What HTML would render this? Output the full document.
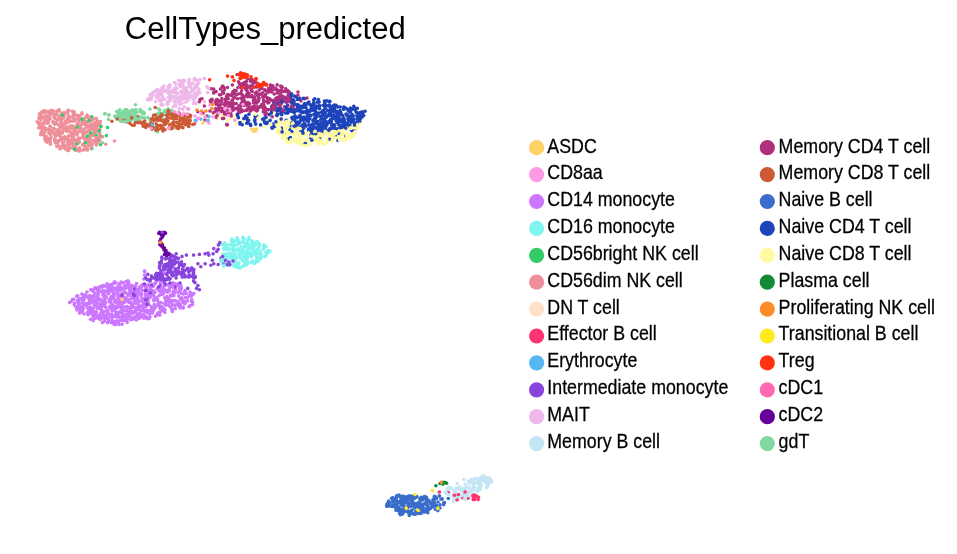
<!DOCTYPE html>
<html><head><meta charset="utf-8"><style>
html,body{margin:0;padding:0;background:#fff;}
svg{display:block;}
text{font-family:"Liberation Sans",sans-serif;fill:#000;}
svg{will-change:transform;}
.lg text{font-size:17.8px;stroke:#000;stroke-width:0.25px;}
.sc path{fill:none;stroke-width:3.6;stroke-linecap:round;}
</style></head><body>
<svg width="957" height="554" viewBox="0 0 957 554">
<text x="124.8" y="38.8" style="font-size:31px">CellTypes_predicted</text>
<g class="sc">
<path stroke="#C4E6F4" d="M463.2 489.2h0"/>
<path stroke="#B0307F" d="M233.8 109.7h0"/>
<path stroke="#CC77FF" d="M119.7 289.9h0M158.3 302.4h0"/>
<path stroke="#C4E6F4" d="M451.5 488.4h0"/>
<path stroke="#EE9099" d="M55.3 142.5h0"/>
<path stroke="#CC77FF" d="M79.5 313.0h0"/>
<path stroke="#EEB8EA" d="M168.5 97.6h0"/>
<path stroke="#CC5A35" d="M179.6 121.1h0"/>
<path stroke="#80F5F0" d="M255.3 242.5h0"/>
<path stroke="#CC77FF" d="M113.0 310.6h0"/>
<path stroke="#EE9099" d="M74.7 119.3h0"/>
<path stroke="#CC77FF" d="M114.5 301.9h0"/>
<path stroke="#EE9099" d="M69.9 121.5h0M74.1 112.0h0"/>
<path stroke="#EEB8EA" d="M175.6 92.1h0"/>
<path stroke="#B0307F" d="M263.3 111.8h0"/>
<path stroke="#CC77FF" d="M191.1 296.2h0"/>
<path stroke="#FFFAA0" d="M341.8 127.0h0"/>
<path stroke="#3A6CCB" d="M420.2 498.3h0"/>
<path stroke="#FFFAA0" d="M278.0 132.6h0"/>
<path stroke="#CC77FF" d="M114.3 309.7h0M134.9 298.7h0"/>
<path stroke="#EEB8EA" d="M175.7 87.6h0M152.9 94.0h0"/>
<path stroke="#B0307F" d="M246.9 85.0h0"/>
<path stroke="#1E44BB" d="M282.4 100.8h0M283.0 98.7h0M295.1 115.8h0"/>
<path stroke="#FFFAA0" d="M204.0 116.0h0"/>
<path stroke="#EEB8EA" d="M181.0 82.1h0"/>
<path stroke="#80F5F0" d="M242.7 253.2h0"/>
<path stroke="#CC77FF" d="M91.3 307.8h0"/>
<path stroke="#CC5A35" d="M127.0 122.0h0"/>
<path stroke="#EE9099" d="M57.0 111.1h0"/>
<path stroke="#CC77FF" d="M118.6 296.4h0"/>
<path stroke="#B0307F" d="M221.1 111.7h0"/>
<path stroke="#EE9099" d="M50.3 142.6h0"/>
<path stroke="#3A6CCB" d="M434.6 502.8h0"/>
<path stroke="#80D8A0" d="M167.2 116.2h0"/>
<path stroke="#EEB8EA" d="M186.6 87.7h0M184.0 80.9h0"/>
<path stroke="#B0307F" d="M271.7 91.9h0"/>
<path stroke="#80D8A0" d="M173.4 113.0h0M132.2 116.4h0"/>
<path stroke="#CC77FF" d="M155.5 282.9h0M171.6 296.0h0M103.5 304.9h0"/>
<path stroke="#80D8A0" d="M130.6 119.9h0"/>
<path stroke="#EE9099" d="M73.2 128.0h0M47.3 142.2h0"/>
<path stroke="#80D8A0" d="M118.1 114.5h0"/>
<path stroke="#EE9099" d="M59.7 133.9h0"/>
<path stroke="#1E44BB" d="M287.7 113.1h0"/>
<path stroke="#B0307F" d="M279.6 100.4h0M253.7 102.8h0"/>
<path stroke="#80F5F0" d="M251.4 255.0h0M238.7 266.5h0"/>
<path stroke="#EE9099" d="M67.8 137.9h0"/>
<path stroke="#B0307F" d="M280.6 93.8h0"/>
<path stroke="#CC77FF" d="M162.0 310.7h0"/>
<path stroke="#3A6CCB" d="M408.1 498.6h0"/>
<path stroke="#EE9099" d="M99.7 129.3h0"/>
<path stroke="#CC77FF" d="M144.7 304.5h0"/>
<path stroke="#EEB8EA" d="M183.4 113.0h0"/>
<path stroke="#1E44BB" d="M256.7 116.1h0M298.1 122.9h0"/>
<path stroke="#3A6CCB" d="M404.5 496.8h0"/>
<path stroke="#EEB8EA" d="M181.3 93.2h0M170.1 99.0h0"/>
<path stroke="#80F5F0" d="M257.3 256.2h0"/>
<path stroke="#1E44BB" d="M320.4 120.0h0"/>
<path stroke="#EEB8EA" d="M183.2 96.2h0"/>
<path stroke="#EE9099" d="M76.8 144.0h0"/>
<path stroke="#80F5F0" d="M258.5 253.2h0"/>
<path stroke="#1E44BB" d="M306.1 107.7h0"/>
<path stroke="#EE9099" d="M78.8 151.0h0"/>
<path stroke="#B0307F" d="M259.3 90.0h0"/>
<path stroke="#FFFAA0" d="M297.5 124.8h0"/>
<path stroke="#EE9099" d="M59.4 110.7h0M95.1 135.6h0"/>
<path stroke="#3A6CCB" d="M448.3 498.5h0"/>
<path stroke="#CC77FF" d="M160.8 288.7h0"/>
<path stroke="#CC5A35" d="M163.1 120.0h0"/>
<path stroke="#CC77FF" d="M82.8 307.1h0"/>
<path stroke="#EE9099" d="M83.3 130.5h0"/>
<path stroke="#80D8A0" d="M164.2 112.4h0"/>
<path stroke="#EE9099" d="M100.4 121.5h0M61.0 147.0h0"/>
<path stroke="#80D8A0" d="M143.8 113.7h0"/>
<path stroke="#FFFAA0" d="M294.8 135.3h0"/>
<path stroke="#CC5A35" d="M140.8 122.8h0M187.0 123.0h0"/>
<path stroke="#FFFAA0" d="M333.3 130.2h0"/>
<path stroke="#EEB8EA" d="M174.5 100.8h0"/>
<path stroke="#EE9099" d="M43.6 122.5h0"/>
<path stroke="#80D8A0" d="M157.5 131.9h0"/>
<path stroke="#CC77FF" d="M104.9 318.5h0"/>
<path stroke="#EE9099" d="M46.9 138.3h0"/>
<path stroke="#FFFAA0" d="M319.8 137.4h0"/>
<path stroke="#CC77FF" d="M91.6 296.7h0"/>
<path stroke="#1E44BB" d="M298.0 105.1h0"/>
<path stroke="#EE9099" d="M77.9 123.0h0"/>
<path stroke="#1E44BB" d="M333.3 118.4h0"/>
<path stroke="#EE9099" d="M41.1 132.2h0"/>
<path stroke="#1E44BB" d="M329.0 131.1h0"/>
<path stroke="#EE9099" d="M97.3 122.6h0"/>
<path stroke="#1E44BB" d="M266.0 117.6h0"/>
<path stroke="#CC77FF" d="M97.5 290.0h0"/>
<path stroke="#3A6CCB" d="M415.9 506.5h0"/>
<path stroke="#80F5F0" d="M221.8 259.5h0"/>
<path stroke="#CC5A35" d="M152.4 127.0h0"/>
<path stroke="#C4E6F4" d="M465.1 490.9h0M455.7 499.1h0"/>
<path stroke="#CC77FF" d="M108.9 319.1h0"/>
<path stroke="#FFFAA0" d="M286.3 141.1h0"/>
<path stroke="#1E44BB" d="M356.9 122.2h0M313.7 127.0h0"/>
<path stroke="#CC77FF" d="M108.8 293.7h0"/>
<path stroke="#EE9099" d="M61.2 121.8h0"/>
<path stroke="#CC77FF" d="M105.3 296.6h0"/>
<path stroke="#EE9099" d="M87.7 149.3h0"/>
<path stroke="#B0307F" d="M243.1 96.6h0"/>
<path stroke="#1E44BB" d="M302.2 106.6h0M338.7 124.8h0"/>
<path stroke="#CC77FF" d="M147.3 310.7h0M156.4 281.3h0"/>
<path stroke="#3A6CCB" d="M433.4 500.4h0"/>
<path stroke="#1E44BB" d="M352.8 115.5h0"/>
<path stroke="#EE9099" d="M68.7 140.5h0"/>
<path stroke="#CC77FF" d="M120.3 299.9h0"/>
<path stroke="#1E44BB" d="M303.7 107.5h0M357.3 108.3h0"/>
<path stroke="#CC77FF" d="M100.8 313.0h0"/>
<path stroke="#FFFAA0" d="M298.7 130.4h0"/>
<path stroke="#EE9099" d="M61.0 126.1h0M90.4 125.1h0"/>
<path stroke="#1E44BB" d="M304.8 98.6h0"/>
<path stroke="#EE9099" d="M39.8 118.2h0"/>
<path stroke="#80F5F0" d="M238.5 250.3h0"/>
<path stroke="#80D8A0" d="M102.6 142.7h0"/>
<path stroke="#FFFAA0" d="M320.7 135.8h0"/>
<path stroke="#1E44BB" d="M287.8 109.2h0"/>
<path stroke="#3A6CCB" d="M395.8 499.4h0"/>
<path stroke="#FFFAA0" d="M344.9 138.6h0"/>
<path stroke="#3A6CCB" d="M433.1 499.4h0"/>
<path stroke="#B0307F" d="M228.7 95.3h0M270.6 85.1h0"/>
<path stroke="#FFFAA0" d="M222.0 115.0h0"/>
<path stroke="#B0307F" d="M225.6 105.8h0M257.2 85.8h0"/>
<path stroke="#80F5F0" d="M260.4 259.1h0"/>
<path stroke="#CC77FF" d="M104.5 298.1h0"/>
<path stroke="#1E44BB" d="M306.4 104.3h0"/>
<path stroke="#CC77FF" d="M144.6 298.3h0"/>
<path stroke="#1E44BB" d="M294.3 112.6h0"/>
<path stroke="#EE9099" d="M42.0 129.4h0"/>
<path stroke="#1E44BB" d="M317.7 113.5h0"/>
<path stroke="#B0307F" d="M232.1 110.5h0"/>
<path stroke="#CC77FF" d="M164.5 297.8h0"/>
<path stroke="#EE9099" d="M85.0 141.9h0"/>
<path stroke="#1E44BB" d="M307.2 113.5h0"/>
<path stroke="#B0307F" d="M232.5 96.0h0"/>
<path stroke="#EE9099" d="M69.2 145.9h0"/>
<path stroke="#B0307F" d="M227.5 110.3h0"/>
<path stroke="#1E44BB" d="M271.8 107.1h0"/>
<path stroke="#B0307F" d="M243.7 100.1h0"/>
<path stroke="#3A6CCB" d="M392.4 506.2h0"/>
<path stroke="#EEB8EA" d="M162.2 91.8h0"/>
<path stroke="#EE9099" d="M62.4 116.5h0"/>
<path stroke="#CC77FF" d="M107.5 318.4h0"/>
<path stroke="#B0307F" d="M251.8 95.5h0"/>
<path stroke="#80F5F0" d="M237.2 245.0h0"/>
<path stroke="#1E44BB" d="M282.1 110.6h0"/>
<path stroke="#CC77FF" d="M145.8 307.1h0"/>
<path stroke="#EEB8EA" d="M156.5 96.8h0"/>
<path stroke="#CC77FF" d="M164.7 309.2h0"/>
<path stroke="#3A6CCB" d="M439.5 496.0h0"/>
<path stroke="#1E44BB" d="M271.7 110.8h0"/>
<path stroke="#CC77FF" d="M171.0 284.0h0"/>
<path stroke="#B0307F" d="M272.3 89.9h0"/>
<path stroke="#80F5F0" d="M263.9 244.8h0"/>
<path stroke="#CC77FF" d="M89.5 304.0h0"/>
<path stroke="#B0307F" d="M239.4 84.1h0"/>
<path stroke="#FFFAA0" d="M307.2 142.2h0"/>
<path stroke="#80F5F0" d="M227.7 257.7h0"/>
<path stroke="#B0307F" d="M275.9 98.3h0"/>
<path stroke="#EE9099" d="M54.5 129.0h0"/>
<path stroke="#CC77FF" d="M91.7 308.0h0"/>
<path stroke="#EEB8EA" d="M157.1 89.2h0"/>
<path stroke="#1E44BB" d="M289.0 110.9h0"/>
<path stroke="#CC77FF" d="M167.4 292.2h0"/>
<path stroke="#1E44BB" d="M340.0 127.6h0"/>
<path stroke="#3A6CCB" d="M412.2 496.8h0"/>
<path stroke="#CC77FF" d="M107.0 283.7h0M113.8 295.9h0"/>
<path stroke="#EE9099" d="M81.0 128.4h0"/>
<path stroke="#80F5F0" d="M249.1 247.5h0"/>
<path stroke="#FFFAA0" d="M357.0 128.2h0"/>
<path stroke="#1E44BB" d="M351.0 121.8h0M245.8 116.3h0"/>
<path stroke="#CC77FF" d="M124.7 288.2h0"/>
<path stroke="#FFFAA0" d="M351.4 134.7h0M283.4 136.9h0"/>
<path stroke="#80F5F0" d="M242.3 251.2h0"/>
<path stroke="#1E44BB" d="M299.4 129.8h0"/>
<path stroke="#80F5F0" d="M243.0 238.0h0"/>
<path stroke="#EE9099" d="M88.8 118.2h0"/>
<path stroke="#CC77FF" d="M155.7 282.8h0"/>
<path stroke="#1E44BB" d="M295.4 104.2h0"/>
<path stroke="#FFFAA0" d="M302.7 145.0h0M283.2 131.3h0"/>
<path stroke="#1E44BB" d="M348.6 116.8h0"/>
<path stroke="#B0307F" d="M245.1 87.8h0"/>
<path stroke="#CC5A35" d="M192.7 124.5h0"/>
<path stroke="#3A6CCB" d="M400.4 514.7h0"/>
<path stroke="#1E44BB" d="M276.9 111.1h0"/>
<path stroke="#CC77FF" d="M152.6 284.4h0"/>
<path stroke="#EE9099" d="M99.7 140.4h0"/>
<path stroke="#CC77FF" d="M159.3 295.4h0"/>
<path stroke="#1E44BB" d="M317.7 121.6h0M314.0 104.0h0M247.6 119.9h0"/>
<path stroke="#3A6CCB" d="M388.5 502.5h0"/>
<path stroke="#C4E6F4" d="M462.8 493.0h0"/>
<path stroke="#FFFAA0" d="M339.4 135.7h0"/>
<path stroke="#80F5F0" d="M267.7 250.8h0"/>
<path stroke="#EE9099" d="M65.0 123.1h0"/>
<path stroke="#B0307F" d="M265.9 84.4h0"/>
<path stroke="#1E44BB" d="M302.1 125.0h0"/>
<path stroke="#CC77FF" d="M121.1 282.0h0"/>
<path stroke="#EE9099" d="M52.9 121.7h0"/>
<path stroke="#1E44BB" d="M275.2 100.3h0"/>
<path stroke="#C4E6F4" d="M469.1 496.7h0"/>
<path stroke="#B0307F" d="M226.5 102.9h0"/>
<path stroke="#FFFAA0" d="M291.4 123.5h0"/>
<path stroke="#80F5F0" d="M225.0 253.7h0"/>
<path stroke="#CC77FF" d="M190.2 305.5h0"/>
<path stroke="#B0307F" d="M265.6 112.7h0"/>
<path stroke="#1E44BB" d="M324.3 123.0h0"/>
<path stroke="#EEB8EA" d="M164.1 91.2h0"/>
<path stroke="#FFFAA0" d="M292.7 128.6h0"/>
<path stroke="#80F5F0" d="M252.8 247.1h0"/>
<path stroke="#80D8A0" d="M122.6 118.6h0"/>
<path stroke="#EE9099" d="M80.3 150.7h0"/>
<path stroke="#EEB8EA" d="M186.6 90.2h0"/>
<path stroke="#B0307F" d="M279.8 106.7h0"/>
<path stroke="#C4E6F4" d="M438.4 492.7h0"/>
<path stroke="#CC77FF" d="M131.6 296.6h0"/>
<path stroke="#EEB8EA" d="M197.0 85.2h0"/>
<path stroke="#1E44BB" d="M331.6 124.6h0"/>
<path stroke="#CC77FF" d="M95.8 302.2h0"/>
<path stroke="#FFFAA0" d="M308.6 130.8h0"/>
<path stroke="#3A6CCB" d="M406.0 500.1h0"/>
<path stroke="#1E44BB" d="M292.8 118.7h0"/>
<path stroke="#C4E6F4" d="M477.4 483.1h0"/>
<path stroke="#CC77FF" d="M95.7 300.9h0M148.9 294.2h0"/>
<path stroke="#EEB8EA" d="M183.8 95.9h0"/>
<path stroke="#B0307F" d="M204.4 106.0h0"/>
<path stroke="#EEB8EA" d="M206.9 86.7h0"/>
<path stroke="#B0307F" d="M203.0 113.0h0"/>
<path stroke="#CC77FF" d="M110.9 308.2h0M111.5 287.4h0"/>
<path stroke="#EE9099" d="M53.5 128.4h0"/>
<path stroke="#80D8A0" d="M124.0 121.8h0"/>
<path stroke="#1E44BB" d="M304.1 117.1h0"/>
<path stroke="#80D8A0" d="M129.8 115.3h0"/>
<path stroke="#CC77FF" d="M85.7 304.6h0"/>
<path stroke="#1E44BB" d="M346.0 108.2h0"/>
<path stroke="#EE9099" d="M64.2 115.9h0"/>
<path stroke="#1E44BB" d="M309.0 132.9h0M299.8 121.7h0"/>
<path stroke="#CC5A35" d="M162.2 113.9h0"/>
<path stroke="#CC77FF" d="M162.0 281.5h0"/>
<path stroke="#EE9099" d="M53.3 122.3h0"/>
<path stroke="#CC77FF" d="M121.9 303.8h0"/>
<path stroke="#C4E6F4" d="M473.4 483.8h0"/>
<path stroke="#CC77FF" d="M99.1 304.1h0"/>
<path stroke="#C4E6F4" d="M482.2 476.3h0"/>
<path stroke="#3A6CCB" d="M417.9 506.6h0M422.7 506.7h0"/>
<path stroke="#EE9099" d="M65.4 127.6h0"/>
<path stroke="#B0307F" d="M277.3 93.0h0M211.8 100.1h0"/>
<path stroke="#80F5F0" d="M243.7 265.9h0"/>
<path stroke="#EEB8EA" d="M178.4 111.7h0"/>
<path stroke="#CC77FF" d="M103.9 294.3h0"/>
<path stroke="#FFFAA0" d="M290.7 138.1h0"/>
<path stroke="#3A6CCB" d="M427.3 502.3h0"/>
<path stroke="#B0307F" d="M213.7 89.1h0"/>
<path stroke="#1E44BB" d="M279.3 133.0h0"/>
<path stroke="#CC77FF" d="M121.9 317.2h0"/>
<path stroke="#EEB8EA" d="M162.2 95.9h0M169.5 86.4h0"/>
<path stroke="#B0307F" d="M215.2 111.5h0"/>
<path stroke="#1E44BB" d="M319.0 107.7h0"/>
<path stroke="#CC77FF" d="M130.0 310.8h0"/>
<path stroke="#EEB8EA" d="M173.7 92.6h0"/>
<path stroke="#B0307F" d="M290.4 101.9h0"/>
<path stroke="#EEB8EA" d="M164.4 99.1h0M181.9 91.4h0"/>
<path stroke="#B0307F" d="M227.3 124.9h0"/>
<path stroke="#3A6CCB" d="M401.3 504.9h0"/>
<path stroke="#1E44BB" d="M325.5 129.1h0M302.4 128.2h0"/>
<path stroke="#CC5A35" d="M171.0 113.4h0"/>
<path stroke="#FFFAA0" d="M318.3 143.8h0"/>
<path stroke="#1E44BB" d="M336.3 112.7h0"/>
<path stroke="#EEB8EA" d="M184.5 98.5h0"/>
<path stroke="#EE9099" d="M39.5 113.9h0"/>
<path stroke="#EEB8EA" d="M187.7 92.0h0"/>
<path stroke="#80F5F0" d="M245.1 263.5h0"/>
<path stroke="#EEB8EA" d="M198.6 83.0h0"/>
<path stroke="#EE9099" d="M50.4 126.9h0"/>
<path stroke="#FFFAA0" d="M299.5 129.3h0"/>
<path stroke="#CC5A35" d="M164.4 124.8h0"/>
<path stroke="#EE9099" d="M57.5 134.2h0M89.0 140.4h0"/>
<path stroke="#1E44BB" d="M272.5 111.0h0"/>
<path stroke="#CC77FF" d="M183.0 301.9h0"/>
<path stroke="#EEB8EA" d="M159.0 95.6h0M192.9 91.1h0"/>
<path stroke="#FFFAA0" d="M345.7 129.6h0"/>
<path stroke="#B0307F" d="M258.5 85.1h0"/>
<path stroke="#CC77FF" d="M94.6 318.6h0"/>
<path stroke="#EE9099" d="M84.8 118.1h0"/>
<path stroke="#80F5F0" d="M232.3 240.0h0"/>
<path stroke="#EE9099" d="M61.0 132.2h0M74.2 129.3h0"/>
<path stroke="#1E44BB" d="M347.8 109.5h0"/>
<path stroke="#80F5F0" d="M243.5 242.2h0"/>
<path stroke="#CC5A35" d="M160.2 117.9h0"/>
<path stroke="#FFFAA0" d="M314.7 131.6h0"/>
<path stroke="#EE9099" d="M77.4 140.8h0"/>
<path stroke="#1E44BB" d="M290.7 108.6h0"/>
<path stroke="#FFFAA0" d="M297.1 132.3h0"/>
<path stroke="#CC5A35" d="M157.5 120.1h0"/>
<path stroke="#80F5F0" d="M252.3 243.1h0"/>
<path stroke="#1E44BB" d="M359.7 121.2h0"/>
<path stroke="#EE9099" d="M88.7 144.5h0M39.7 118.0h0M90.4 127.4h0"/>
<path stroke="#CC77FF" d="M138.6 308.6h0"/>
<path stroke="#80D8A0" d="M118.7 118.3h0"/>
<path stroke="#CC77FF" d="M138.6 304.9h0"/>
<path stroke="#B0307F" d="M241.3 111.6h0"/>
<path stroke="#FFFAA0" d="M305.0 140.8h0"/>
<path stroke="#B0307F" d="M247.3 95.4h0"/>
<path stroke="#1E44BB" d="M308.3 114.5h0"/>
<path stroke="#80D8A0" d="M118.4 117.7h0"/>
<path stroke="#CC5A35" d="M166.6 115.0h0"/>
<path stroke="#EEB8EA" d="M154.3 91.8h0"/>
<path stroke="#3A6CCB" d="M393.7 499.1h0"/>
<path stroke="#CC77FF" d="M188.9 295.9h0M118.1 298.9h0"/>
<path stroke="#1E44BB" d="M352.7 121.3h0"/>
<path stroke="#80D8A0" d="M131.7 119.6h0"/>
<path stroke="#B0307F" d="M278.6 104.3h0"/>
<path stroke="#EE9099" d="M70.1 148.2h0"/>
<path stroke="#80D8A0" d="M144.1 113.5h0"/>
<path stroke="#C4E6F4" d="M478.5 488.5h0"/>
<path stroke="#80F5F0" d="M261.7 256.1h0"/>
<path stroke="#1E44BB" d="M321.5 118.1h0"/>
<path stroke="#B0307F" d="M228.8 114.2h0"/>
<path stroke="#80F5F0" d="M247.8 262.3h0"/>
<path stroke="#B0307F" d="M254.6 100.6h0"/>
<path stroke="#1E44BB" d="M332.6 116.9h0"/>
<path stroke="#CC77FF" d="M135.6 310.4h0"/>
<path stroke="#EE9099" d="M40.7 134.7h0"/>
<path stroke="#EEB8EA" d="M189.3 79.6h0"/>
<path stroke="#1E44BB" d="M336.0 118.7h0"/>
<path stroke="#CC77FF" d="M159.7 291.2h0"/>
<path stroke="#80F5F0" d="M246.1 244.0h0"/>
<path stroke="#EEB8EA" d="M181.7 82.5h0"/>
<path stroke="#EE9099" d="M58.3 130.4h0"/>
<path stroke="#3A6CCB" d="M419.0 507.3h0"/>
<path stroke="#EE9099" d="M58.5 135.3h0"/>
<path stroke="#3A6CCB" d="M411.9 503.2h0"/>
<path stroke="#CC5A35" d="M139.6 121.0h0"/>
<path stroke="#1E44BB" d="M329.5 105.3h0"/>
<path stroke="#CC77FF" d="M128.6 283.8h0"/>
<path stroke="#FFFAA0" d="M349.8 126.4h0"/>
<path stroke="#CC77FF" d="M125.4 320.3h0"/>
<path stroke="#EE9099" d="M79.2 128.1h0"/>
<path stroke="#CC77FF" d="M100.4 304.8h0"/>
<path stroke="#EEB8EA" d="M160.2 93.1h0M185.3 87.5h0"/>
<path stroke="#CC77FF" d="M115.9 288.5h0"/>
<path stroke="#FFFAA0" d="M320.9 141.4h0"/>
<path stroke="#CC5A35" d="M188.9 122.5h0"/>
<path stroke="#1E44BB" d="M315.5 127.7h0M328.6 130.4h0"/>
<path stroke="#80F5F0" d="M227.7 263.1h0M255.0 254.4h0"/>
<path stroke="#CC77FF" d="M144.3 300.8h0"/>
<path stroke="#1E44BB" d="M336.1 136.2h0"/>
<path stroke="#3A6CCB" d="M443.9 502.9h0"/>
<path stroke="#EE9099" d="M82.9 145.2h0"/>
<path stroke="#80D8A0" d="M135.6 110.1h0M158.5 108.9h0"/>
<path stroke="#CC77FF" d="M178.1 305.4h0"/>
<path stroke="#FFFAA0" d="M281.4 133.3h0"/>
<path stroke="#EE9099" d="M74.4 131.1h0"/>
<path stroke="#CC5A35" d="M160.4 120.3h0"/>
<path stroke="#EEB8EA" d="M151.7 96.9h0"/>
<path stroke="#1E44BB" d="M299.5 116.6h0"/>
<path stroke="#3A6CCB" d="M415.9 503.8h0"/>
<path stroke="#B0307F" d="M226.7 124.4h0"/>
<path stroke="#EE9099" d="M51.5 112.8h0"/>
<path stroke="#CC77FF" d="M142.4 304.9h0"/>
<path stroke="#B0307F" d="M227.8 94.6h0"/>
<path stroke="#EE9099" d="M94.4 141.9h0M47.8 129.2h0"/>
<path stroke="#FFFAA0" d="M290.5 125.0h0M337.0 131.2h0"/>
<path stroke="#EEB8EA" d="M180.1 104.5h0"/>
<path stroke="#1E44BB" d="M326.1 105.4h0"/>
<path stroke="#B0307F" d="M210.0 111.0h0"/>
<path stroke="#CC77FF" d="M168.0 300.4h0"/>
<path stroke="#EEB8EA" d="M193.5 103.4h0"/>
<path stroke="#EE9099" d="M78.8 138.9h0"/>
<path stroke="#B0307F" d="M238.5 81.7h0"/>
<path stroke="#C4E6F4" d="M447.6 489.3h0"/>
<path stroke="#1E44BB" d="M292.8 126.3h0"/>
<path stroke="#80D8A0" d="M92.8 118.8h0"/>
<path stroke="#CC77FF" d="M144.5 302.2h0"/>
<path stroke="#1E44BB" d="M351.1 110.3h0"/>
<path stroke="#EE9099" d="M96.0 118.3h0"/>
<path stroke="#80D8A0" d="M142.8 111.7h0"/>
<path stroke="#B0307F" d="M247.8 79.0h0"/>
<path stroke="#EE9099" d="M98.6 141.7h0"/>
<path stroke="#80D8A0" d="M119.8 109.8h0"/>
<path stroke="#B0307F" d="M278.0 99.8h0"/>
<path stroke="#CC77FF" d="M130.1 287.1h0"/>
<path stroke="#80F5F0" d="M255.2 245.2h0"/>
<path stroke="#1E44BB" d="M330.2 121.8h0M315.9 106.3h0"/>
<path stroke="#CC77FF" d="M83.2 299.1h0"/>
<path stroke="#FFFAA0" d="M303.9 135.1h0"/>
<path stroke="#80F5F0" d="M234.9 240.7h0"/>
<path stroke="#CC5A35" d="M158.0 120.3h0"/>
<path stroke="#1E44BB" d="M317.3 133.2h0"/>
<path stroke="#EEB8EA" d="M183.7 80.5h0"/>
<path stroke="#FFFAA0" d="M315.5 140.2h0"/>
<path stroke="#EE9099" d="M78.7 120.9h0"/>
<path stroke="#80F5F0" d="M242.5 259.5h0"/>
<path stroke="#C4E6F4" d="M453.4 501.5h0"/>
<path stroke="#3A6CCB" d="M398.2 510.2h0"/>
<path stroke="#CC77FF" d="M113.3 289.8h0"/>
<path stroke="#CC5A35" d="M141.7 122.7h0"/>
<path stroke="#1E44BB" d="M358.3 113.4h0"/>
<path stroke="#EE9099" d="M114.5 141.0h0"/>
<path stroke="#FFFAA0" d="M311.8 138.4h0"/>
<path stroke="#EEB8EA" d="M151.2 97.7h0"/>
<path stroke="#CC5A35" d="M194.5 123.9h0"/>
<path stroke="#EE9099" d="M84.1 138.5h0"/>
<path stroke="#CC77FF" d="M185.2 290.5h0M91.8 313.5h0"/>
<path stroke="#B0307F" d="M269.9 99.1h0M241.2 103.0h0M256.7 110.9h0M232.1 108.5h0"/>
<path stroke="#EE9099" d="M84.6 149.0h0"/>
<path stroke="#CC77FF" d="M99.2 290.3h0"/>
<path stroke="#EE9099" d="M50.5 144.2h0"/>
<path stroke="#C4E6F4" d="M474.4 479.0h0"/>
<path stroke="#B0307F" d="M252.3 85.7h0"/>
<path stroke="#CC77FF" d="M110.2 306.1h0M190.0 292.1h0"/>
<path stroke="#CC5A35" d="M181.6 119.6h0"/>
<path stroke="#1E44BB" d="M273.0 126.4h0"/>
<path stroke="#80F5F0" d="M224.7 242.7h0"/>
<path stroke="#80D8A0" d="M117.7 117.2h0"/>
<path stroke="#CC77FF" d="M129.6 307.9h0"/>
<path stroke="#3A6CCB" d="M426.1 497.1h0"/>
<path stroke="#80F5F0" d="M228.3 248.3h0"/>
<path stroke="#3A6CCB" d="M410.5 513.6h0"/>
<path stroke="#CC77FF" d="M157.6 288.8h0"/>
<path stroke="#B0307F" d="M236.1 90.6h0"/>
<path stroke="#3A6CCB" d="M411.4 500.7h0"/>
<path stroke="#FFFAA0" d="M352.8 133.4h0"/>
<path stroke="#C4E6F4" d="M479.4 486.1h0"/>
<path stroke="#EE9099" d="M102.6 136.7h0"/>
<path stroke="#B0307F" d="M225.0 100.1h0"/>
<path stroke="#EE9099" d="M50.1 113.6h0"/>
<path stroke="#B0307F" d="M254.8 109.6h0M265.2 96.4h0"/>
<path stroke="#EE9099" d="M93.9 126.8h0"/>
<path stroke="#CC77FF" d="M136.5 296.5h0"/>
<path stroke="#B0307F" d="M263.3 104.2h0M238.0 94.0h0"/>
<path stroke="#1E44BB" d="M334.3 117.1h0M346.6 114.9h0"/>
<path stroke="#3A6CCB" d="M401.3 498.8h0"/>
<path stroke="#1E44BB" d="M322.3 127.7h0"/>
<path stroke="#CC77FF" d="M166.0 303.4h0"/>
<path stroke="#EE9099" d="M46.2 115.2h0"/>
<path stroke="#1E44BB" d="M350.0 116.2h0"/>
<path stroke="#CC77FF" d="M191.8 299.5h0"/>
<path stroke="#1E44BB" d="M287.1 127.9h0M297.5 105.0h0"/>
<path stroke="#EE9099" d="M66.1 130.0h0"/>
<path stroke="#CC77FF" d="M124.0 320.6h0M126.5 310.9h0M143.4 304.7h0"/>
<path stroke="#3A6CCB" d="M422.6 500.0h0"/>
<path stroke="#CC77FF" d="M91.2 289.7h0"/>
<path stroke="#80F5F0" d="M244.1 253.8h0"/>
<path stroke="#CC77FF" d="M111.9 296.7h0"/>
<path stroke="#FFFAA0" d="M293.0 121.4h0"/>
<path stroke="#80D8A0" d="M108.8 114.9h0"/>
<path stroke="#B0307F" d="M286.4 91.0h0"/>
<path stroke="#EE9099" d="M47.8 139.7h0"/>
<path stroke="#3A6CCB" d="M418.9 513.5h0"/>
<path stroke="#80D8A0" d="M126.8 115.9h0"/>
<path stroke="#C4E6F4" d="M491.7 481.0h0"/>
<path stroke="#3A6CCB" d="M415.9 504.2h0"/>
<path stroke="#FFFAA0" d="M356.4 127.0h0"/>
<path stroke="#EE9099" d="M57.7 119.9h0"/>
<path stroke="#C4E6F4" d="M478.3 480.0h0"/>
<path stroke="#EE9099" d="M64.0 137.4h0"/>
<path stroke="#EEB8EA" d="M188.1 100.3h0"/>
<path stroke="#80F5F0" d="M258.0 258.4h0"/>
<path stroke="#CC77FF" d="M159.4 313.7h0"/>
<path stroke="#EE9099" d="M56.4 131.8h0"/>
<path stroke="#EEB8EA" d="M193.1 99.8h0"/>
<path stroke="#EE9099" d="M50.3 139.6h0"/>
<path stroke="#3A6CCB" d="M398.1 510.5h0"/>
<path stroke="#CC77FF" d="M168.3 284.6h0"/>
<path stroke="#FFFAA0" d="M331.2 130.7h0"/>
<path stroke="#CC77FF" d="M83.2 308.7h0M152.6 295.1h0"/>
<path stroke="#EE9099" d="M49.1 113.2h0M87.2 131.7h0"/>
<path stroke="#CC77FF" d="M119.4 283.9h0"/>
<path stroke="#80F5F0" d="M231.9 243.8h0"/>
<path stroke="#EE9099" d="M83.6 150.0h0"/>
<path stroke="#FFFAA0" d="M341.5 132.9h0"/>
<path stroke="#B0307F" d="M217.2 99.6h0"/>
<path stroke="#1E44BB" d="M310.8 134.3h0"/>
<path stroke="#EEB8EA" d="M197.1 83.9h0"/>
<path stroke="#EE9099" d="M62.4 117.0h0M80.2 125.4h0"/>
<path stroke="#B0307F" d="M268.4 92.2h0"/>
<path stroke="#80F5F0" d="M224.1 249.0h0"/>
<path stroke="#3A6CCB" d="M420.4 500.9h0"/>
<path stroke="#CC77FF" d="M147.7 286.0h0"/>
<path stroke="#EE9099" d="M39.5 115.1h0"/>
<path stroke="#CC5A35" d="M169.6 128.3h0"/>
<path stroke="#EE9099" d="M53.9 117.3h0"/>
<path stroke="#80D8A0" d="M105.0 113.6h0"/>
<path stroke="#CC77FF" d="M157.2 278.4h0M127.2 322.4h0"/>
<path stroke="#FFFAA0" d="M279.4 120.8h0"/>
<path stroke="#1E44BB" d="M298.7 129.2h0"/>
<path stroke="#80F5F0" d="M224.0 248.4h0"/>
<path stroke="#C4E6F4" d="M488.2 482.4h0"/>
<path stroke="#CC77FF" d="M106.8 314.8h0"/>
<path stroke="#1E44BB" d="M300.2 126.7h0"/>
<path stroke="#CC77FF" d="M81.3 306.9h0M148.0 302.3h0"/>
<path stroke="#EEB8EA" d="M186.4 98.7h0"/>
<path stroke="#80F5F0" d="M253.6 247.4h0"/>
<path stroke="#C4E6F4" d="M480.1 485.4h0"/>
<path stroke="#B0307F" d="M236.8 108.3h0"/>
<path stroke="#1E44BB" d="M365.0 111.3h0"/>
<path stroke="#CC77FF" d="M160.8 283.7h0M98.4 290.0h0"/>
<path stroke="#EE9099" d="M71.8 136.4h0"/>
<path stroke="#1E44BB" d="M300.8 120.1h0"/>
<path stroke="#CC77FF" d="M118.1 286.2h0"/>
<path stroke="#B0307F" d="M288.2 92.5h0"/>
<path stroke="#CC77FF" d="M137.4 317.0h0"/>
<path stroke="#3A6CCB" d="M412.0 500.5h0"/>
<path stroke="#EE9099" d="M63.1 127.8h0"/>
<path stroke="#1E44BB" d="M321.0 130.3h0"/>
<path stroke="#EE9099" d="M59.0 109.9h0"/>
<path stroke="#FFFAA0" d="M347.2 127.4h0"/>
<path stroke="#B0307F" d="M264.7 89.9h0"/>
<path stroke="#FFFAA0" d="M353.0 136.9h0"/>
<path stroke="#1E44BB" d="M295.9 127.4h0"/>
<path stroke="#FFFAA0" d="M359.0 124.4h0"/>
<path stroke="#CC77FF" d="M162.1 294.4h0M124.2 291.7h0"/>
<path stroke="#EE9099" d="M48.0 119.8h0"/>
<path stroke="#3A6CCB" d="M388.5 505.9h0"/>
<path stroke="#B0307F" d="M243.5 110.7h0"/>
<path stroke="#CC77FF" d="M118.7 295.3h0"/>
<path stroke="#EE9099" d="M87.0 115.1h0"/>
<path stroke="#C4E6F4" d="M473.6 484.1h0"/>
<path stroke="#CC77FF" d="M181.9 297.8h0M102.6 292.1h0"/>
<path stroke="#1E44BB" d="M314.7 106.5h0"/>
<path stroke="#FFFAA0" d="M321.0 140.9h0"/>
<path stroke="#CC77FF" d="M79.3 298.7h0"/>
<path stroke="#80F5F0" d="M228.2 253.7h0"/>
<path stroke="#CC77FF" d="M117.2 305.8h0"/>
<path stroke="#EE9099" d="M38.6 123.8h0"/>
<path stroke="#CC77FF" d="M111.6 286.4h0M112.3 308.8h0"/>
<path stroke="#B0307F" d="M240.9 108.8h0"/>
<path stroke="#3A6CCB" d="M386.6 505.9h0"/>
<path stroke="#80D8A0" d="M160.3 118.1h0"/>
<path stroke="#EEB8EA" d="M190.1 83.2h0"/>
<path stroke="#EE9099" d="M78.2 119.1h0"/>
<path stroke="#B0307F" d="M252.9 107.6h0M225.6 99.4h0"/>
<path stroke="#EE9099" d="M79.4 142.1h0M74.3 113.1h0"/>
<path stroke="#FFFAA0" d="M344.2 140.2h0"/>
<path stroke="#1E44BB" d="M318.0 132.8h0"/>
<path stroke="#80F5F0" d="M257.3 241.5h0"/>
<path stroke="#CC77FF" d="M100.8 317.4h0M151.5 290.4h0M95.2 315.1h0M123.6 311.1h0"/>
<path stroke="#EE9099" d="M98.9 125.5h0"/>
<path stroke="#80F5F0" d="M234.5 249.2h0"/>
<path stroke="#80D8A0" d="M172.1 115.0h0"/>
<path stroke="#80F5F0" d="M260.7 253.6h0"/>
<path stroke="#1E44BB" d="M301.0 130.3h0M329.8 106.4h0"/>
<path stroke="#C4E6F4" d="M479.9 483.1h0"/>
<path stroke="#EE9099" d="M62.3 125.3h0M53.4 111.0h0"/>
<path stroke="#B0307F" d="M279.2 90.6h0"/>
<path stroke="#CC77FF" d="M93.7 291.8h0"/>
<path stroke="#FFFAA0" d="M318.1 140.3h0"/>
<path stroke="#CC77FF" d="M160.2 308.5h0"/>
<path stroke="#B0307F" d="M246.1 89.4h0"/>
<path stroke="#CC77FF" d="M164.2 311.2h0"/>
<path stroke="#B0307F" d="M238.9 109.1h0"/>
<path stroke="#CC77FF" d="M167.3 300.2h0M145.4 294.2h0"/>
<path stroke="#1E44BB" d="M308.5 111.1h0"/>
<path stroke="#EEB8EA" d="M167.5 101.7h0"/>
<path stroke="#1E44BB" d="M350.7 125.6h0"/>
<path stroke="#B0307F" d="M226.9 103.5h0"/>
<path stroke="#CC77FF" d="M193.8 293.5h0"/>
<path stroke="#B0307F" d="M275.2 102.6h0"/>
<path stroke="#CC5A35" d="M156.3 127.2h0"/>
<path stroke="#EE9099" d="M43.3 111.1h0"/>
<path stroke="#CC77FF" d="M122.2 293.4h0M99.5 316.8h0"/>
<path stroke="#B0307F" d="M255.1 93.1h0"/>
<path stroke="#EE9099" d="M62.0 133.4h0M74.5 121.1h0"/>
<path stroke="#CC5A35" d="M190.6 115.5h0"/>
<path stroke="#1E44BB" d="M337.7 113.1h0M353.8 106.3h0"/>
<path stroke="#EE9099" d="M74.5 149.1h0"/>
<path stroke="#CC77FF" d="M111.5 322.8h0"/>
<path stroke="#3A6CCB" d="M430.4 508.4h0"/>
<path stroke="#EEB8EA" d="M185.9 93.0h0"/>
<path stroke="#CC77FF" d="M120.3 312.8h0"/>
<path stroke="#EE9099" d="M56.8 146.4h0"/>
<path stroke="#80F5F0" d="M244.1 261.9h0"/>
<path stroke="#1E44BB" d="M278.5 103.2h0M323.1 122.5h0"/>
<path stroke="#EEB8EA" d="M162.4 87.2h0M163.9 86.0h0"/>
<path stroke="#3A6CCB" d="M430.9 503.4h0"/>
<path stroke="#B0307F" d="M254.4 105.7h0"/>
<path stroke="#80F5F0" d="M234.2 256.2h0"/>
<path stroke="#CC77FF" d="M149.7 314.1h0M166.8 296.6h0"/>
<path stroke="#CC5A35" d="M159.8 116.9h0M185.7 124.8h0"/>
<path stroke="#1E44BB" d="M304.1 125.3h0"/>
<path stroke="#FFFAA0" d="M330.0 139.6h0"/>
<path stroke="#EE9099" d="M42.2 117.8h0M43.5 134.9h0"/>
<path stroke="#1E44BB" d="M341.7 133.6h0"/>
<path stroke="#EE9099" d="M78.9 119.3h0"/>
<path stroke="#3A6CCB" d="M420.0 499.5h0"/>
<path stroke="#B0307F" d="M272.4 105.5h0"/>
<path stroke="#80D8A0" d="M128.5 119.4h0"/>
<path stroke="#C4E6F4" d="M473.3 480.4h0"/>
<path stroke="#CC77FF" d="M164.7 283.8h0"/>
<path stroke="#FFFAA0" d="M332.0 137.2h0"/>
<path stroke="#80F5F0" d="M238.4 248.9h0"/>
<path stroke="#B0307F" d="M226.8 114.6h0M241.1 84.4h0"/>
<path stroke="#FFFAA0" d="M337.9 139.6h0M295.8 139.1h0"/>
<path stroke="#1E44BB" d="M350.2 112.3h0"/>
<path stroke="#CC77FF" d="M110.5 302.0h0"/>
<path stroke="#EE9099" d="M96.6 126.8h0"/>
<path stroke="#80F5F0" d="M251.4 257.0h0"/>
<path stroke="#CC77FF" d="M114.6 289.9h0M157.5 277.2h0"/>
<path stroke="#EEB8EA" d="M151.9 96.0h0"/>
<path stroke="#CC77FF" d="M132.6 319.1h0"/>
<path stroke="#B0307F" d="M283.4 111.7h0"/>
<path stroke="#80D8A0" d="M141.5 112.1h0"/>
<path stroke="#B0307F" d="M287.9 90.9h0"/>
<path stroke="#C4E6F4" d="M458.6 498.0h0"/>
<path stroke="#CC77FF" d="M120.1 311.5h0"/>
<path stroke="#B0307F" d="M260.3 87.6h0"/>
<path stroke="#EE9099" d="M91.8 135.1h0"/>
<path stroke="#CC77FF" d="M131.2 291.9h0"/>
<path stroke="#B0307F" d="M237.4 98.7h0M226.1 102.6h0"/>
<path stroke="#EE9099" d="M64.8 148.6h0"/>
<path stroke="#CC77FF" d="M170.6 307.1h0M78.6 301.1h0"/>
<path stroke="#1E44BB" d="M328.3 105.8h0"/>
<path stroke="#CC77FF" d="M95.0 288.0h0"/>
<path stroke="#1E44BB" d="M290.4 137.6h0"/>
<path stroke="#CC77FF" d="M109.2 301.1h0"/>
<path stroke="#C4E6F4" d="M465.8 491.0h0"/>
<path stroke="#CC77FF" d="M173.7 286.1h0"/>
<path stroke="#1E44BB" d="M254.8 121.4h0"/>
<path stroke="#CC77FF" d="M87.2 308.0h0"/>
<path stroke="#C4E6F4" d="M469.5 483.8h0"/>
<path stroke="#B0307F" d="M222.6 111.1h0"/>
<path stroke="#80F5F0" d="M253.5 249.8h0"/>
<path stroke="#CC77FF" d="M95.7 305.6h0"/>
<path stroke="#C4E6F4" d="M488.9 478.1h0"/>
<path stroke="#FFFAA0" d="M313.1 138.0h0"/>
<path stroke="#EE9099" d="M51.1 137.5h0"/>
<path stroke="#EEB8EA" d="M200.1 79.5h0"/>
<path stroke="#CC77FF" d="M82.7 309.4h0"/>
<path stroke="#EE9099" d="M70.3 117.0h0M71.6 132.3h0"/>
<path stroke="#1E44BB" d="M319.9 138.9h0"/>
<path stroke="#B0307F" d="M243.6 104.5h0"/>
<path stroke="#FFFAA0" d="M317.8 142.6h0"/>
<path stroke="#80F5F0" d="M242.3 259.9h0"/>
<path stroke="#CC77FF" d="M93.4 290.6h0M146.7 300.4h0"/>
<path stroke="#3A6CCB" d="M437.0 507.0h0"/>
<path stroke="#B0307F" d="M258.5 100.8h0"/>
<path stroke="#EE9099" d="M79.5 130.9h0"/>
<path stroke="#B0307F" d="M216.3 115.4h0"/>
<path stroke="#1E44BB" d="M354.8 129.6h0"/>
<path stroke="#CC77FF" d="M182.9 307.0h0M94.2 304.9h0"/>
<path stroke="#EE9099" d="M84.6 132.4h0"/>
<path stroke="#CC77FF" d="M110.4 302.2h0M96.0 304.3h0"/>
<path stroke="#B0307F" d="M227.5 103.1h0M276.9 100.3h0"/>
<path stroke="#CC77FF" d="M103.3 286.4h0"/>
<path stroke="#80F5F0" d="M257.2 249.4h0"/>
<path stroke="#FFFAA0" d="M350.4 129.0h0"/>
<path stroke="#CC77FF" d="M144.7 271.4h0"/>
<path stroke="#80F5F0" d="M248.3 253.0h0"/>
<path stroke="#80D8A0" d="M138.3 116.0h0"/>
<path stroke="#CC5A35" d="M183.0 127.7h0"/>
<path stroke="#EE9099" d="M83.3 131.1h0M62.5 142.5h0"/>
<path stroke="#80F5F0" d="M235.5 257.6h0"/>
<path stroke="#1E44BB" d="M357.0 118.9h0"/>
<path stroke="#FFFAA0" d="M292.1 127.0h0"/>
<path stroke="#1E44BB" d="M318.4 129.3h0"/>
<path stroke="#CC77FF" d="M141.0 295.7h0"/>
<path stroke="#CC5A35" d="M182.6 118.7h0"/>
<path stroke="#1E44BB" d="M335.1 110.5h0"/>
<path stroke="#80F5F0" d="M249.1 237.3h0"/>
<path stroke="#EE9099" d="M50.1 118.9h0"/>
<path stroke="#CC77FF" d="M107.4 318.1h0"/>
<path stroke="#B0307F" d="M233.2 92.4h0"/>
<path stroke="#CC77FF" d="M131.7 285.6h0"/>
<path stroke="#EE9099" d="M97.2 140.3h0M58.5 118.4h0M58.1 142.2h0"/>
<path stroke="#B0307F" d="M274.1 101.4h0"/>
<path stroke="#CC5A35" d="M183.7 118.4h0"/>
<path stroke="#C4E6F4" d="M471.5 492.3h0"/>
<path stroke="#EE9099" d="M71.5 126.7h0M61.6 113.3h0M54.0 114.0h0M75.4 147.0h0"/>
<path stroke="#1E44BB" d="M311.8 128.8h0"/>
<path stroke="#CC77FF" d="M150.7 286.1h0"/>
<path stroke="#1E44BB" d="M239.8 123.9h0"/>
<path stroke="#CC77FF" d="M153.1 286.6h0M115.6 316.7h0"/>
<path stroke="#EE9099" d="M88.2 146.3h0M75.9 133.6h0"/>
<path stroke="#C4E6F4" d="M466.0 487.4h0"/>
<path stroke="#1E44BB" d="M311.6 128.5h0"/>
<path stroke="#CC77FF" d="M167.4 304.5h0"/>
<path stroke="#80F5F0" d="M227.4 261.8h0"/>
<path stroke="#B0307F" d="M217.3 104.0h0"/>
<path stroke="#CC77FF" d="M149.0 310.8h0"/>
<path stroke="#1E44BB" d="M355.9 111.8h0M285.6 113.0h0"/>
<path stroke="#CC77FF" d="M105.6 296.4h0"/>
<path stroke="#EEB8EA" d="M183.0 96.0h0"/>
<path stroke="#CC77FF" d="M119.4 290.5h0"/>
<path stroke="#FFFAA0" d="M300.9 135.6h0"/>
<path stroke="#B0307F" d="M238.8 105.9h0"/>
<path stroke="#CC77FF" d="M97.2 288.6h0"/>
<path stroke="#1E44BB" d="M247.8 118.4h0"/>
<path stroke="#80F5F0" d="M232.9 252.3h0"/>
<path stroke="#80D8A0" d="M136.6 121.6h0"/>
<path stroke="#1E44BB" d="M323.3 105.2h0"/>
<path stroke="#3A6CCB" d="M436.3 498.4h0"/>
<path stroke="#1E44BB" d="M319.1 102.1h0"/>
<path stroke="#80F5F0" d="M246.4 243.2h0"/>
<path stroke="#CC77FF" d="M131.1 292.5h0M110.9 297.1h0"/>
<path stroke="#EE9099" d="M93.1 129.3h0"/>
<path stroke="#CC5A35" d="M184.4 116.5h0"/>
<path stroke="#CC77FF" d="M96.0 301.0h0"/>
<path stroke="#CC5A35" d="M189.1 122.8h0"/>
<path stroke="#EE9099" d="M39.2 122.2h0"/>
<path stroke="#80F5F0" d="M266.3 252.3h0"/>
<path stroke="#1E44BB" d="M304.9 124.1h0"/>
<path stroke="#EEB8EA" d="M162.4 98.7h0"/>
<path stroke="#EE9099" d="M69.2 141.4h0"/>
<path stroke="#FFFAA0" d="M352.8 125.5h0"/>
<path stroke="#1E44BB" d="M287.6 105.3h0"/>
<path stroke="#80F5F0" d="M236.8 266.7h0"/>
<path stroke="#CC77FF" d="M79.1 308.7h0M113.9 293.4h0"/>
<path stroke="#B0307F" d="M275.5 108.2h0"/>
<path stroke="#EEB8EA" d="M174.7 92.4h0"/>
<path stroke="#80F5F0" d="M241.7 253.6h0"/>
<path stroke="#1E44BB" d="M260.6 124.9h0"/>
<path stroke="#B0307F" d="M238.0 87.5h0"/>
<path stroke="#1E44BB" d="M310.0 132.2h0"/>
<path stroke="#EEB8EA" d="M148.5 100.0h0"/>
<path stroke="#EE9099" d="M56.0 122.6h0"/>
<path stroke="#80F5F0" d="M242.2 251.9h0"/>
<path stroke="#EE9099" d="M65.0 136.7h0"/>
<path stroke="#CC77FF" d="M164.4 281.5h0"/>
<path stroke="#3A6CCB" d="M431.7 506.5h0"/>
<path stroke="#FFFAA0" d="M265.9 120.6h0"/>
<path stroke="#EE9099" d="M54.6 134.7h0"/>
<path stroke="#CC77FF" d="M77.7 295.9h0"/>
<path stroke="#EE9099" d="M61.0 139.0h0"/>
<path stroke="#1E44BB" d="M267.2 122.2h0"/>
<path stroke="#EEB8EA" d="M190.3 97.6h0"/>
<path stroke="#1E44BB" d="M332.6 129.4h0"/>
<path stroke="#B0307F" d="M271.5 88.8h0"/>
<path stroke="#3A6CCB" d="M393.0 505.2h0"/>
<path stroke="#B0307F" d="M256.8 110.4h0"/>
<path stroke="#CC77FF" d="M117.9 306.2h0"/>
<path stroke="#EEB8EA" d="M174.2 97.2h0"/>
<path stroke="#FFFAA0" d="M299.4 136.4h0"/>
<path stroke="#1E44BB" d="M308.9 124.8h0"/>
<path stroke="#CC77FF" d="M133.1 318.1h0M142.9 290.5h0"/>
<path stroke="#80F5F0" d="M229.4 244.7h0"/>
<path stroke="#CC77FF" d="M83.3 297.2h0"/>
<path stroke="#1E44BB" d="M356.9 112.9h0"/>
<path stroke="#EEB8EA" d="M194.4 78.8h0"/>
<path stroke="#CC77FF" d="M163.5 273.5h0"/>
<path stroke="#1E44BB" d="M273.8 103.1h0"/>
<path stroke="#CC77FF" d="M141.5 315.4h0M110.8 289.2h0M121.6 296.8h0"/>
<path stroke="#EEB8EA" d="M184.7 80.8h0"/>
<path stroke="#1E44BB" d="M333.4 109.0h0"/>
<path stroke="#80D8A0" d="M116.7 111.5h0"/>
<path stroke="#EEB8EA" d="M168.8 101.5h0"/>
<path stroke="#EE9099" d="M97.1 123.2h0"/>
<path stroke="#CC77FF" d="M152.4 313.1h0"/>
<path stroke="#B0307F" d="M278.0 91.4h0"/>
<path stroke="#CC77FF" d="M185.5 297.6h0"/>
<path stroke="#B0307F" d="M280.3 111.2h0"/>
<path stroke="#EEB8EA" d="M161.2 101.1h0"/>
<path stroke="#80D8A0" d="M126.1 114.0h0"/>
<path stroke="#B0307F" d="M227.3 98.8h0"/>
<path stroke="#1E44BB" d="M280.9 113.7h0"/>
<path stroke="#EEB8EA" d="M194.5 97.4h0"/>
<path stroke="#CC77FF" d="M120.4 286.9h0M142.8 284.5h0"/>
<path stroke="#80D8A0" d="M123.9 113.5h0"/>
<path stroke="#C4E6F4" d="M449.1 487.4h0"/>
<path stroke="#CC77FF" d="M160.9 291.6h0M138.4 291.2h0"/>
<path stroke="#B0307F" d="M258.0 86.0h0"/>
<path stroke="#C4E6F4" d="M478.1 482.5h0"/>
<path stroke="#80F5F0" d="M226.6 245.5h0"/>
<path stroke="#CC5A35" d="M179.3 113.4h0"/>
<path stroke="#EE9099" d="M71.9 126.0h0"/>
<path stroke="#B0307F" d="M280.1 107.2h0"/>
<path stroke="#1E44BB" d="M311.0 115.4h0"/>
<path stroke="#EE9099" d="M79.0 125.8h0"/>
<path stroke="#CC77FF" d="M88.4 298.1h0"/>
<path stroke="#EE9099" d="M74.6 133.0h0"/>
<path stroke="#CC5A35" d="M163.3 121.9h0"/>
<path stroke="#CC77FF" d="M172.6 309.0h0"/>
<path stroke="#EE9099" d="M76.6 140.1h0"/>
<path stroke="#B0307F" d="M232.9 92.0h0"/>
<path stroke="#80F5F0" d="M250.3 252.6h0"/>
<path stroke="#FFFAA0" d="M228.0 120.6h0"/>
<path stroke="#B0307F" d="M248.1 87.5h0"/>
<path stroke="#EEB8EA" d="M171.7 91.5h0"/>
<path stroke="#B0307F" d="M260.3 107.0h0"/>
<path stroke="#CC77FF" d="M153.3 293.7h0"/>
<path stroke="#1E44BB" d="M334.6 108.4h0"/>
<path stroke="#EE9099" d="M59.9 148.8h0"/>
<path stroke="#CC77FF" d="M124.4 286.6h0"/>
<path stroke="#80D8A0" d="M174.1 112.0h0"/>
<path stroke="#CC5A35" d="M174.3 113.8h0"/>
<path stroke="#CC77FF" d="M137.9 299.7h0"/>
<path stroke="#B0307F" d="M264.8 107.8h0"/>
<path stroke="#EEB8EA" d="M184.1 94.1h0"/>
<path stroke="#C4E6F4" d="M478.0 488.2h0"/>
<path stroke="#1E44BB" d="M305.3 105.3h0"/>
<path stroke="#CC77FF" d="M136.6 283.5h0M103.8 294.0h0"/>
<path stroke="#EEB8EA" d="M147.8 99.4h0"/>
<path stroke="#CC77FF" d="M110.7 315.7h0"/>
<path stroke="#80D8A0" d="M160.1 112.7h0"/>
<path stroke="#CC77FF" d="M117.3 292.6h0M173.7 301.0h0"/>
<path stroke="#FFFAA0" d="M331.5 129.2h0M291.3 121.3h0"/>
<path stroke="#1E44BB" d="M354.5 108.4h0"/>
<path stroke="#B0307F" d="M289.6 98.4h0M216.1 91.6h0M269.6 91.0h0"/>
<path stroke="#CC5A35" d="M148.4 126.0h0"/>
<path stroke="#CC77FF" d="M93.4 315.0h0"/>
<path stroke="#EEB8EA" d="M178.5 80.5h0"/>
<path stroke="#CC77FF" d="M90.1 312.9h0"/>
<path stroke="#1E44BB" d="M350.3 108.2h0M276.4 108.1h0"/>
<path stroke="#B0307F" d="M263.7 101.7h0"/>
<path stroke="#FFFAA0" d="M299.7 138.5h0"/>
<path stroke="#CC77FF" d="M123.4 300.1h0"/>
<path stroke="#EEB8EA" d="M195.0 97.7h0"/>
<path stroke="#1E44BB" d="M313.6 119.9h0"/>
<path stroke="#3A6CCB" d="M409.0 503.2h0"/>
<path stroke="#CC77FF" d="M122.7 294.3h0M78.8 304.5h0"/>
<path stroke="#C4E6F4" d="M448.6 492.3h0"/>
<path stroke="#1E44BB" d="M333.1 105.7h0"/>
<path stroke="#80D8A0" d="M135.0 111.6h0"/>
<path stroke="#80F5F0" d="M224.9 243.5h0"/>
<path stroke="#CC77FF" d="M172.8 293.5h0M132.4 292.5h0M98.3 307.3h0M161.6 306.8h0"/>
<path stroke="#1E44BB" d="M331.9 128.1h0"/>
<path stroke="#FFFAA0" d="M285.6 128.2h0"/>
<path stroke="#1E44BB" d="M292.4 118.8h0"/>
<path stroke="#B0307F" d="M257.4 106.7h0"/>
<path stroke="#80F5F0" d="M233.4 242.5h0"/>
<path stroke="#FFFAA0" d="M301.7 140.9h0M249.4 119.4h0"/>
<path stroke="#B0307F" d="M238.0 109.7h0"/>
<path stroke="#3A6CCB" d="M416.9 496.5h0"/>
<path stroke="#EEB8EA" d="M198.1 91.4h0"/>
<path stroke="#FFFAA0" d="M296.9 127.4h0"/>
<path stroke="#EEB8EA" d="M150.3 94.6h0"/>
<path stroke="#B0307F" d="M269.0 102.3h0"/>
<path stroke="#3A6CCB" d="M424.1 510.5h0"/>
<path stroke="#CC77FF" d="M124.4 292.5h0"/>
<path stroke="#1E44BB" d="M302.2 112.6h0"/>
<path stroke="#EE9099" d="M45.5 128.9h0"/>
<path stroke="#CC77FF" d="M146.9 312.8h0"/>
<path stroke="#1E44BB" d="M362.6 113.4h0"/>
<path stroke="#FFFAA0" d="M329.3 131.1h0"/>
<path stroke="#CC77FF" d="M137.7 309.0h0"/>
<path stroke="#EE9099" d="M87.4 138.5h0"/>
<path stroke="#B0307F" d="M281.4 91.3h0"/>
<path stroke="#1E44BB" d="M308.2 115.2h0"/>
<path stroke="#80F5F0" d="M265.0 256.8h0"/>
<path stroke="#CC77FF" d="M184.7 291.7h0M81.9 294.1h0"/>
<path stroke="#1E44BB" d="M269.3 114.6h0"/>
<path stroke="#EE9099" d="M62.3 118.8h0"/>
<path stroke="#B0307F" d="M275.0 100.0h0"/>
<path stroke="#1E44BB" d="M336.1 118.4h0"/>
<path stroke="#EEB8EA" d="M175.9 96.9h0"/>
<path stroke="#1E44BB" d="M341.6 120.3h0M343.6 109.2h0M297.4 106.7h0M347.4 123.2h0"/>
<path stroke="#FFFAA0" d="M323.3 137.9h0"/>
<path stroke="#80D8A0" d="M133.9 111.7h0"/>
<path stroke="#80F5F0" d="M270.0 251.0h0"/>
<path stroke="#1E44BB" d="M330.2 128.2h0M291.0 109.5h0"/>
<path stroke="#EE9099" d="M87.4 123.2h0"/>
<path stroke="#1E44BB" d="M324.0 124.7h0"/>
<path stroke="#FFFAA0" d="M288.1 126.2h0"/>
<path stroke="#B0307F" d="M234.5 97.8h0M241.9 110.7h0"/>
<path stroke="#CC77FF" d="M126.0 281.6h0M101.6 306.5h0"/>
<path stroke="#C4E6F4" d="M489.7 478.5h0"/>
<path stroke="#EEB8EA" d="M174.6 111.7h0"/>
<path stroke="#B0307F" d="M232.6 105.4h0"/>
<path stroke="#1E44BB" d="M297.3 122.1h0M291.8 108.6h0"/>
<path stroke="#EEB8EA" d="M175.3 104.8h0"/>
<path stroke="#80D8A0" d="M128.6 117.2h0"/>
<path stroke="#EE9099" d="M42.0 111.7h0"/>
<path stroke="#1E44BB" d="M349.0 125.3h0"/>
<path stroke="#3A6CCB" d="M400.6 497.1h0"/>
<path stroke="#CC77FF" d="M163.0 294.0h0"/>
<path stroke="#B0307F" d="M287.0 106.5h0"/>
<path stroke="#1E44BB" d="M317.9 128.5h0M349.6 119.8h0"/>
<path stroke="#EE9099" d="M53.8 123.3h0"/>
<path stroke="#FFFAA0" d="M290.8 123.1h0M276.9 130.0h0M326.1 133.8h0"/>
<path stroke="#1E44BB" d="M316.8 106.2h0"/>
<path stroke="#EEB8EA" d="M178.5 101.9h0"/>
<path stroke="#80F5F0" d="M230.4 263.8h0"/>
<path stroke="#1E44BB" d="M247.6 120.6h0"/>
<path stroke="#EEB8EA" d="M168.7 101.4h0"/>
<path stroke="#80F5F0" d="M237.8 241.6h0"/>
<path stroke="#B0307F" d="M223.9 104.2h0"/>
<path stroke="#CC77FF" d="M111.5 314.4h0"/>
<path stroke="#EE9099" d="M62.7 131.7h0"/>
<path stroke="#1E44BB" d="M359.7 117.6h0"/>
<path stroke="#CC77FF" d="M155.7 306.0h0"/>
<path stroke="#1E44BB" d="M303.3 120.1h0M293.3 111.8h0"/>
<path stroke="#CC77FF" d="M111.9 321.5h0M116.6 322.4h0"/>
<path stroke="#EE9099" d="M83.6 134.2h0"/>
<path stroke="#B0307F" d="M254.0 81.0h0"/>
<path stroke="#CC77FF" d="M112.0 310.7h0"/>
<path stroke="#EEB8EA" d="M161.7 88.8h0"/>
<path stroke="#1E44BB" d="M290.4 110.5h0"/>
<path stroke="#CC77FF" d="M138.9 318.6h0"/>
<path stroke="#80F5F0" d="M252.4 261.0h0"/>
<path stroke="#EEB8EA" d="M188.5 82.5h0"/>
<path stroke="#3A6CCB" d="M418.1 502.9h0"/>
<path stroke="#1E44BB" d="M347.2 114.6h0"/>
<path stroke="#C4E6F4" d="M470.4 482.0h0"/>
<path stroke="#3A6CCB" d="M432.9 504.1h0"/>
<path stroke="#B0307F" d="M276.7 89.5h0"/>
<path stroke="#FFFAA0" d="M344.8 128.5h0"/>
<path stroke="#EE9099" d="M68.8 131.2h0"/>
<path stroke="#B0307F" d="M249.0 106.8h0"/>
<path stroke="#CC77FF" d="M85.5 294.7h0"/>
<path stroke="#3A6CCB" d="M398.6 510.4h0"/>
<path stroke="#80D8A0" d="M131.5 110.2h0"/>
<path stroke="#FFFAA0" d="M355.9 128.1h0"/>
<path stroke="#EE9099" d="M71.5 143.0h0"/>
<path stroke="#B0307F" d="M293.5 106.1h0"/>
<path stroke="#EEB8EA" d="M161.7 94.6h0"/>
<path stroke="#C4E6F4" d="M463.7 479.5h0M486.5 479.6h0"/>
<path stroke="#EE9099" d="M60.5 139.7h0"/>
<path stroke="#CC77FF" d="M142.3 298.3h0"/>
<path stroke="#B0307F" d="M272.7 85.7h0"/>
<path stroke="#CC77FF" d="M159.5 290.6h0"/>
<path stroke="#EEB8EA" d="M181.3 80.9h0"/>
<path stroke="#EE9099" d="M45.4 128.3h0"/>
<path stroke="#1E44BB" d="M331.3 111.9h0M313.9 114.2h0"/>
<path stroke="#CC77FF" d="M130.9 308.2h0M119.9 289.0h0"/>
<path stroke="#1E44BB" d="M330.5 120.1h0"/>
<path stroke="#B0307F" d="M282.4 96.2h0"/>
<path stroke="#1E44BB" d="M337.9 140.5h0"/>
<path stroke="#EE9099" d="M80.5 138.2h0M77.5 143.6h0"/>
<path stroke="#B0307F" d="M224.4 112.2h0"/>
<path stroke="#CC77FF" d="M186.2 293.3h0M88.7 311.7h0"/>
<path stroke="#1E44BB" d="M337.8 106.9h0"/>
<path stroke="#CC77FF" d="M113.4 283.5h0"/>
<path stroke="#1E44BB" d="M318.9 105.7h0"/>
<path stroke="#3A6CCB" d="M403.3 496.2h0"/>
<path stroke="#EE9099" d="M64.0 141.9h0"/>
<path stroke="#C4E6F4" d="M482.9 478.7h0"/>
<path stroke="#1E44BB" d="M300.9 106.4h0"/>
<path stroke="#3A6CCB" d="M399.0 495.0h0"/>
<path stroke="#C4E6F4" d="M477.2 482.0h0"/>
<path stroke="#FFFAA0" d="M281.6 127.9h0"/>
<path stroke="#CC77FF" d="M148.1 301.6h0"/>
<path stroke="#CC5A35" d="M161.2 119.1h0"/>
<path stroke="#CC77FF" d="M93.2 308.4h0"/>
<path stroke="#80D8A0" d="M135.4 104.8h0"/>
<path stroke="#FFFAA0" d="M243.0 121.0h0"/>
<path stroke="#CC77FF" d="M127.9 280.8h0"/>
<path stroke="#3A6CCB" d="M406.2 497.3h0"/>
<path stroke="#1E44BB" d="M307.8 112.7h0"/>
<path stroke="#EE9099" d="M85.2 124.5h0"/>
<path stroke="#CC77FF" d="M122.7 302.3h0M86.5 296.7h0"/>
<path stroke="#B0307F" d="M260.4 106.2h0"/>
<path stroke="#CC5A35" d="M153.5 115.4h0"/>
<path stroke="#EE9099" d="M78.8 142.8h0"/>
<path stroke="#1E44BB" d="M291.7 123.0h0"/>
<path stroke="#CC5A35" d="M177.3 114.8h0M169.7 124.8h0"/>
<path stroke="#1E44BB" d="M337.7 119.3h0"/>
<path stroke="#EEB8EA" d="M179.0 97.2h0"/>
<path stroke="#CC77FF" d="M160.2 311.8h0"/>
<path stroke="#CC5A35" d="M151.5 119.6h0"/>
<path stroke="#EEB8EA" d="M167.0 110.5h0"/>
<path stroke="#CC5A35" d="M159.2 113.5h0"/>
<path stroke="#1E44BB" d="M311.1 133.9h0"/>
<path stroke="#80F5F0" d="M236.7 250.2h0"/>
<path stroke="#CC77FF" d="M158.2 304.1h0"/>
<path stroke="#80D8A0" d="M138.0 121.0h0"/>
<path stroke="#EE9099" d="M59.7 115.7h0"/>
<path stroke="#3A6CCB" d="M425.2 512.0h0"/>
<path stroke="#CC5A35" d="M178.9 124.1h0"/>
<path stroke="#EE9099" d="M67.4 122.5h0"/>
<path stroke="#1E44BB" d="M333.7 114.9h0"/>
<path stroke="#EE9099" d="M92.3 119.5h0"/>
<path stroke="#CC77FF" d="M149.2 318.4h0"/>
<path stroke="#C4E6F4" d="M468.6 493.4h0M484.2 479.7h0"/>
<path stroke="#EEB8EA" d="M155.7 91.6h0"/>
<path stroke="#80D8A0" d="M129.5 115.5h0"/>
<path stroke="#80F5F0" d="M229.1 249.0h0"/>
<path stroke="#B0307F" d="M292.1 100.5h0"/>
<path stroke="#1E44BB" d="M320.9 123.2h0"/>
<path stroke="#EE9099" d="M77.0 135.0h0"/>
<path stroke="#CC5A35" d="M165.3 119.8h0"/>
<path stroke="#FFFAA0" d="M324.0 144.6h0"/>
<path stroke="#EEB8EA" d="M171.0 92.3h0"/>
<path stroke="#FFFAA0" d="M214.0 114.3h0"/>
<path stroke="#1E44BB" d="M362.4 114.8h0M306.9 110.7h0M353.6 119.0h0"/>
<path stroke="#B0307F" d="M230.8 113.5h0"/>
<path stroke="#EE9099" d="M84.7 124.3h0"/>
<path stroke="#CC77FF" d="M96.5 316.4h0"/>
<path stroke="#EE9099" d="M45.6 121.9h0"/>
<path stroke="#1E44BB" d="M297.5 117.6h0"/>
<path stroke="#FFFAA0" d="M285.0 130.0h0"/>
<path stroke="#80D8A0" d="M168.3 108.8h0"/>
<path stroke="#1E44BB" d="M303.5 107.2h0"/>
<path stroke="#EE9099" d="M78.0 149.5h0"/>
<path stroke="#3A6CCB" d="M388.9 504.3h0"/>
<path stroke="#CC5A35" d="M173.3 124.0h0"/>
<path stroke="#1E44BB" d="M314.1 132.5h0"/>
<path stroke="#3A6CCB" d="M435.9 498.0h0"/>
<path stroke="#B0307F" d="M281.6 102.1h0"/>
<path stroke="#FFFAA0" d="M294.3 127.6h0"/>
<path stroke="#B0307F" d="M232.4 85.0h0"/>
<path stroke="#CC77FF" d="M174.2 284.4h0M155.4 316.2h0"/>
<path stroke="#C4E6F4" d="M480.4 478.4h0"/>
<path stroke="#EEB8EA" d="M180.8 98.7h0"/>
<path stroke="#CC77FF" d="M136.8 294.0h0"/>
<path stroke="#1E44BB" d="M281.0 128.2h0"/>
<path stroke="#80F5F0" d="M250.9 246.4h0M233.6 245.0h0"/>
<path stroke="#C4E6F4" d="M449.8 487.8h0M474.3 483.4h0"/>
<path stroke="#80F5F0" d="M244.1 238.7h0"/>
<path stroke="#EE9099" d="M58.6 145.8h0"/>
<path stroke="#3A6CCB" d="M407.7 496.6h0"/>
<path stroke="#CC77FF" d="M187.5 300.9h0"/>
<path stroke="#B0307F" d="M217.2 117.5h0"/>
<path stroke="#CC5A35" d="M165.0 114.1h0"/>
<path stroke="#FFFAA0" d="M332.9 131.9h0"/>
<path stroke="#CC5A35" d="M121.0 121.0h0"/>
<path stroke="#EE9099" d="M64.4 112.9h0"/>
<path stroke="#3A6CCB" d="M436.3 505.3h0M416.6 496.9h0"/>
<path stroke="#CC5A35" d="M147.1 124.9h0"/>
<path stroke="#EE9099" d="M85.0 128.3h0"/>
<path stroke="#CC5A35" d="M165.5 120.7h0"/>
<path stroke="#CC77FF" d="M166.1 285.2h0"/>
<path stroke="#EE9099" d="M57.1 111.5h0"/>
<path stroke="#CC77FF" d="M108.4 290.5h0"/>
<path stroke="#C4E6F4" d="M463.3 493.6h0"/>
<path stroke="#EE9099" d="M60.4 148.6h0"/>
<path stroke="#1E44BB" d="M290.3 138.0h0"/>
<path stroke="#CC77FF" d="M115.5 300.2h0"/>
<path stroke="#80F5F0" d="M239.7 249.3h0"/>
<path stroke="#C4E6F4" d="M476.4 491.2h0"/>
<path stroke="#EEB8EA" d="M173.4 106.8h0"/>
<path stroke="#3A6CCB" d="M412.4 500.6h0"/>
<path stroke="#CC77FF" d="M139.6 306.7h0"/>
<path stroke="#80D8A0" d="M135.3 120.7h0"/>
<path stroke="#CC77FF" d="M171.9 309.8h0"/>
<path stroke="#3A6CCB" d="M409.0 496.0h0"/>
<path stroke="#1E44BB" d="M331.9 109.3h0"/>
<path stroke="#EE9099" d="M81.6 124.7h0"/>
<path stroke="#EEB8EA" d="M163.3 88.9h0"/>
<path stroke="#FFFAA0" d="M312.3 134.2h0"/>
<path stroke="#B0307F" d="M284.2 98.8h0"/>
<path stroke="#CC77FF" d="M174.0 285.0h0"/>
<path stroke="#CC5A35" d="M179.3 115.3h0"/>
<path stroke="#80F5F0" d="M242.7 242.4h0"/>
<path stroke="#EE9099" d="M78.0 142.9h0"/>
<path stroke="#3A6CCB" d="M397.2 501.4h0"/>
<path stroke="#FFFAA0" d="M274.7 128.0h0"/>
<path stroke="#CC77FF" d="M140.7 310.8h0"/>
<path stroke="#CC5A35" d="M180.1 120.8h0"/>
<path stroke="#EE9099" d="M42.8 127.3h0"/>
<path stroke="#80D8A0" d="M119.7 113.5h0"/>
<path stroke="#CC77FF" d="M94.8 313.4h0"/>
<path stroke="#B0307F" d="M219.4 101.2h0"/>
<path stroke="#FFFAA0" d="M321.0 133.5h0"/>
<path stroke="#CC77FF" d="M135.5 286.2h0"/>
<path stroke="#1E44BB" d="M344.3 122.2h0"/>
<path stroke="#C4E6F4" d="M480.1 486.5h0"/>
<path stroke="#CC5A35" d="M162.0 115.6h0"/>
<path stroke="#C4E6F4" d="M452.5 495.8h0"/>
<path stroke="#CC77FF" d="M131.7 287.6h0"/>
<path stroke="#B0307F" d="M207.0 116.0h0"/>
<path stroke="#CC77FF" d="M183.6 302.6h0"/>
<path stroke="#CC5A35" d="M190.0 117.2h0"/>
<path stroke="#CC77FF" d="M179.5 288.5h0"/>
<path stroke="#EE9099" d="M88.1 126.5h0"/>
<path stroke="#1E44BB" d="M286.1 134.2h0M306.9 117.0h0"/>
<path stroke="#EE9099" d="M84.1 149.4h0M69.0 110.4h0"/>
<path stroke="#B0307F" d="M278.4 98.5h0"/>
<path stroke="#FFFAA0" d="M338.7 135.6h0"/>
<path stroke="#80F5F0" d="M223.7 265.9h0M252.4 251.7h0"/>
<path stroke="#3A6CCB" d="M392.7 499.5h0"/>
<path stroke="#CC77FF" d="M157.6 299.8h0"/>
<path stroke="#80D8A0" d="M127.7 120.3h0"/>
<path stroke="#CC77FF" d="M159.8 315.1h0"/>
<path stroke="#3A6CCB" d="M400.0 511.8h0"/>
<path stroke="#B0307F" d="M231.8 102.6h0"/>
<path stroke="#CC5A35" d="M178.5 128.4h0"/>
<path stroke="#EEB8EA" d="M169.9 85.6h0"/>
<path stroke="#80F5F0" d="M241.0 252.0h0"/>
<path stroke="#EE9099" d="M40.1 128.0h0"/>
<path stroke="#EEB8EA" d="M170.7 100.4h0M148.0 99.8h0"/>
<path stroke="#CC77FF" d="M159.5 306.6h0"/>
<path stroke="#B0307F" d="M224.1 87.9h0"/>
<path stroke="#80F5F0" d="M244.4 246.4h0M251.6 244.3h0"/>
<path stroke="#B0307F" d="M218.6 112.7h0"/>
<path stroke="#CC77FF" d="M143.8 279.0h0"/>
<path stroke="#B0307F" d="M211.8 100.1h0"/>
<path stroke="#FFFAA0" d="M343.3 134.8h0M287.6 120.1h0"/>
<path stroke="#EE9099" d="M43.1 124.3h0"/>
<path stroke="#CC77FF" d="M93.2 316.6h0"/>
<path stroke="#B0307F" d="M263.5 99.7h0M252.4 108.0h0"/>
<path stroke="#CC77FF" d="M143.5 314.1h0"/>
<path stroke="#80F5F0" d="M226.0 260.3h0M243.3 257.0h0"/>
<path stroke="#CC77FF" d="M123.9 320.3h0"/>
<path stroke="#1E44BB" d="M355.3 109.4h0"/>
<path stroke="#B0307F" d="M223.7 93.3h0"/>
<path stroke="#CC5A35" d="M189.4 123.4h0"/>
<path stroke="#1E44BB" d="M321.0 130.3h0"/>
<path stroke="#3A6CCB" d="M392.9 505.4h0"/>
<path stroke="#1E44BB" d="M308.9 131.2h0"/>
<path stroke="#80D8A0" d="M167.8 112.2h0"/>
<path stroke="#1E44BB" d="M333.8 106.3h0"/>
<path stroke="#CC77FF" d="M134.5 307.3h0M144.7 290.2h0M185.0 301.8h0"/>
<path stroke="#FFFAA0" d="M276.3 123.3h0"/>
<path stroke="#EE9099" d="M75.2 120.1h0"/>
<path stroke="#80D8A0" d="M121.8 121.1h0"/>
<path stroke="#EE9099" d="M49.8 131.9h0"/>
<path stroke="#B0307F" d="M266.1 114.3h0"/>
<path stroke="#EE9099" d="M41.6 113.1h0M85.9 132.1h0"/>
<path stroke="#B0307F" d="M247.2 105.5h0"/>
<path stroke="#EE9099" d="M56.0 123.3h0"/>
<path stroke="#3A6CCB" d="M434.2 499.2h0"/>
<path stroke="#CC77FF" d="M90.8 297.8h0"/>
<path stroke="#B0307F" d="M240.7 98.2h0"/>
<path stroke="#1E44BB" d="M359.1 117.7h0"/>
<path stroke="#80F5F0" d="M233.9 264.9h0"/>
<path stroke="#80D8A0" d="M127.6 113.5h0"/>
<path stroke="#1E44BB" d="M243.8 118.5h0"/>
<path stroke="#EE9099" d="M88.7 140.4h0"/>
<path stroke="#EEB8EA" d="M164.2 89.8h0M158.9 93.2h0"/>
<path stroke="#B0307F" d="M232.4 106.0h0"/>
<path stroke="#3A6CCB" d="M430.9 503.1h0M408.2 500.2h0"/>
<path stroke="#CC77FF" d="M96.3 312.0h0M151.3 294.1h0"/>
<path stroke="#EE9099" d="M90.5 144.4h0"/>
<path stroke="#C4E6F4" d="M471.6 479.4h0"/>
<path stroke="#CC77FF" d="M131.7 313.7h0"/>
<path stroke="#FFFAA0" d="M321.3 133.3h0"/>
<path stroke="#CC77FF" d="M134.9 317.0h0"/>
<path stroke="#3A6CCB" d="M394.3 501.6h0"/>
<path stroke="#80F5F0" d="M247.5 251.8h0"/>
<path stroke="#CC77FF" d="M143.7 310.6h0"/>
<path stroke="#80F5F0" d="M236.5 258.7h0"/>
<path stroke="#C4E6F4" d="M490.1 479.3h0"/>
<path stroke="#80D8A0" d="M158.6 113.3h0"/>
<path stroke="#EEB8EA" d="M191.7 95.7h0"/>
<path stroke="#CC77FF" d="M152.6 291.7h0M134.6 291.5h0M122.6 313.6h0"/>
<path stroke="#80D8A0" d="M122.9 118.7h0"/>
<path stroke="#CC77FF" d="M128.4 281.6h0M127.6 316.3h0M121.8 288.8h0"/>
<path stroke="#1E44BB" d="M345.9 136.0h0"/>
<path stroke="#B0307F" d="M228.4 113.6h0M216.0 104.1h0"/>
<path stroke="#EE9099" d="M77.2 132.8h0"/>
<path stroke="#CC5A35" d="M185.2 120.3h0"/>
<path stroke="#EEB8EA" d="M195.0 94.8h0"/>
<path stroke="#CC77FF" d="M77.8 306.8h0"/>
<path stroke="#FFFAA0" d="M298.9 125.7h0"/>
<path stroke="#C4E6F4" d="M486.0 482.6h0"/>
<path stroke="#B0307F" d="M256.8 83.1h0"/>
<path stroke="#EE9099" d="M59.2 140.5h0"/>
<path stroke="#CC77FF" d="M147.6 304.6h0M131.3 306.7h0M101.7 291.9h0M121.0 307.7h0"/>
<path stroke="#1E44BB" d="M324.6 120.2h0"/>
<path stroke="#3A6CCB" d="M404.4 502.2h0M403.4 511.7h0"/>
<path stroke="#EE9099" d="M90.2 138.5h0"/>
<path stroke="#80D8A0" d="M170.3 113.3h0M127.8 118.2h0"/>
<path stroke="#1E44BB" d="M313.3 129.1h0"/>
<path stroke="#B0307F" d="M216.5 117.5h0"/>
<path stroke="#80F5F0" d="M240.5 258.3h0"/>
<path stroke="#C4E6F4" d="M486.8 484.1h0"/>
<path stroke="#EE9099" d="M78.6 138.1h0M83.5 136.2h0"/>
<path stroke="#1E44BB" d="M294.9 117.2h0M281.1 109.4h0"/>
<path stroke="#CC77FF" d="M174.6 286.6h0"/>
<path stroke="#EE9099" d="M92.5 135.7h0"/>
<path stroke="#B0307F" d="M267.4 100.6h0M218.5 110.9h0"/>
<path stroke="#EEB8EA" d="M188.1 96.0h0"/>
<path stroke="#3A6CCB" d="M413.6 502.9h0"/>
<path stroke="#FFFAA0" d="M290.1 139.9h0"/>
<path stroke="#CC77FF" d="M138.8 289.9h0"/>
<path stroke="#80F5F0" d="M235.2 245.3h0"/>
<path stroke="#CC77FF" d="M179.9 306.6h0"/>
<path stroke="#3A6CCB" d="M414.4 498.1h0"/>
<path stroke="#EE9099" d="M45.5 120.6h0"/>
<path stroke="#CC77FF" d="M129.2 302.4h0"/>
<path stroke="#FFFAA0" d="M278.5 122.1h0"/>
<path stroke="#3A6CCB" d="M409.9 506.5h0"/>
<path stroke="#1E44BB" d="M318.1 132.1h0"/>
<path stroke="#CC77FF" d="M133.8 317.4h0"/>
<path stroke="#1E44BB" d="M313.7 100.1h0"/>
<path stroke="#EEB8EA" d="M197.2 86.7h0"/>
<path stroke="#CC77FF" d="M132.4 307.2h0M136.0 310.2h0"/>
<path stroke="#EE9099" d="M99.7 123.3h0"/>
<path stroke="#80F5F0" d="M231.0 258.5h0"/>
<path stroke="#EE9099" d="M46.9 136.8h0"/>
<path stroke="#1E44BB" d="M329.0 113.9h0"/>
<path stroke="#CC77FF" d="M83.4 299.1h0M84.1 299.3h0"/>
<path stroke="#EE9099" d="M50.6 134.4h0"/>
<path stroke="#1E44BB" d="M327.4 115.9h0"/>
<path stroke="#80F5F0" d="M244.0 252.8h0"/>
<path stroke="#CC77FF" d="M161.1 302.8h0"/>
<path stroke="#1E44BB" d="M294.3 118.2h0"/>
<path stroke="#EEB8EA" d="M183.5 88.7h0"/>
<path stroke="#FFFAA0" d="M345.0 140.4h0"/>
<path stroke="#CC77FF" d="M137.1 314.2h0"/>
<path stroke="#33CC66" d="M97.2 139.4h0"/>
<path stroke="#1E44BB" d="M323.2 119.2h0"/>
<path stroke="#FF3370" d="M462.6 497.8h0"/>
<path stroke="#1E44BB" d="M325.1 117.9h0M325.1 116.7h0"/>
<path stroke="#EE9099" d="M98.9 138.0h0M65.5 124.1h0"/>
<path stroke="#3A6CCB" d="M414.8 504.1h0"/>
<path stroke="#B0307F" d="M268.6 88.6h0"/>
<path stroke="#3A6CCB" d="M421.5 497.2h0"/>
<path stroke="#80D8A0" d="M137.9 121.8h0"/>
<path stroke="#8844DD" d="M156.1 277.0h0"/>
<path stroke="#CC77FF" d="M134.4 286.1h0"/>
<path stroke="#B0307F" d="M289.1 91.8h0M258.3 85.0h0"/>
<path stroke="#FF3370" d="M439.5 492.0h0"/>
<path stroke="#C4E6F4" d="M453.9 490.7h0"/>
<path stroke="#FFFAA0" d="M299.4 142.7h0"/>
<path stroke="#CC77FF" d="M185.0 303.5h0"/>
<path stroke="#EE9099" d="M91.3 118.9h0"/>
<path stroke="#CC77FF" d="M126.8 310.4h0"/>
<path stroke="#1E44BB" d="M291.3 125.7h0"/>
<path stroke="#FFFAA0" d="M278.1 119.9h0"/>
<path stroke="#CC77FF" d="M127.6 286.2h0"/>
<path stroke="#FFFAA0" d="M304.5 132.4h0"/>
<path stroke="#CC77FF" d="M117.6 315.5h0"/>
<path stroke="#80D8A0" d="M161.6 118.4h0"/>
<path stroke="#CC77FF" d="M118.9 294.9h0"/>
<path stroke="#80F5F0" d="M220.9 261.2h0"/>
<path stroke="#80D8A0" d="M171.8 110.3h0"/>
<path stroke="#CC77FF" d="M113.4 293.8h0M153.2 291.7h0"/>
<path stroke="#EE9099" d="M60.6 127.5h0"/>
<path stroke="#FFFAA0" d="M306.1 139.8h0"/>
<path stroke="#CC77FF" d="M178.4 303.2h0"/>
<path stroke="#80D8A0" d="M141.2 117.0h0"/>
<path stroke="#8844DD" d="M213.8 263.8h0"/>
<path stroke="#1E44BB" d="M301.7 108.1h0"/>
<path stroke="#80F5F0" d="M226.6 256.6h0"/>
<path stroke="#8844DD" d="M147.3 304.2h0"/>
<path stroke="#FFFAA0" d="M297.2 131.3h0"/>
<path stroke="#B0307F" d="M264.0 101.4h0"/>
<path stroke="#1E44BB" d="M290.8 98.4h0"/>
<path stroke="#FFFAA0" d="M296.6 125.3h0"/>
<path stroke="#80D8A0" d="M144.0 117.8h0"/>
<path stroke="#CC77FF" d="M180.2 308.0h0"/>
<path stroke="#EE9099" d="M43.5 112.6h0"/>
<path stroke="#80F5F0" d="M233.8 266.0h0"/>
<path stroke="#B0307F" d="M290.6 97.1h0"/>
<path stroke="#EE9099" d="M83.1 135.9h0"/>
<path stroke="#B0307F" d="M250.4 86.1h0"/>
<path stroke="#EE9099" d="M61.7 124.3h0"/>
<path stroke="#CC5A35" d="M166.7 112.3h0"/>
<path stroke="#8844DD" d="M162.7 277.4h0"/>
<path stroke="#B0307F" d="M233.0 102.9h0"/>
<path stroke="#CC5A35" d="M124.1 118.8h0"/>
<path stroke="#CC77FF" d="M104.4 306.0h0"/>
<path stroke="#EE9099" d="M41.1 116.0h0M80.2 126.3h0"/>
<path stroke="#3A6CCB" d="M387.1 503.8h0"/>
<path stroke="#B0307F" d="M256.5 87.0h0M244.9 103.2h0"/>
<path stroke="#EE9099" d="M47.2 111.6h0M97.3 120.8h0"/>
<path stroke="#B0307F" d="M251.9 96.7h0"/>
<path stroke="#CC77FF" d="M143.9 285.7h0"/>
<path stroke="#EEB8EA" d="M179.6 100.0h0"/>
<path stroke="#CC77FF" d="M179.5 306.6h0"/>
<path stroke="#C4E6F4" d="M467.5 495.8h0"/>
<path stroke="#CC77FF" d="M117.9 315.1h0M140.3 306.5h0M125.4 288.4h0"/>
<path stroke="#B0307F" d="M225.3 107.2h0"/>
<path stroke="#8844DD" d="M172.2 260.9h0"/>
<path stroke="#CC5A35" d="M145.8 127.5h0"/>
<path stroke="#1E44BB" d="M301.3 127.0h0"/>
<path stroke="#EEB8EA" d="M183.1 86.9h0"/>
<path stroke="#C4E6F4" d="M456.4 496.1h0"/>
<path stroke="#80F5F0" d="M228.4 265.6h0"/>
<path stroke="#80D8A0" d="M156.5 114.4h0"/>
<path stroke="#EE9099" d="M37.2 121.7h0"/>
<path stroke="#8844DD" d="M197.9 263.8h0"/>
<path stroke="#B0307F" d="M263.9 105.0h0M284.4 106.9h0"/>
<path stroke="#EE9099" d="M60.1 136.3h0"/>
<path stroke="#3A6CCB" d="M403.3 512.4h0"/>
<path stroke="#1E44BB" d="M341.5 126.0h0"/>
<path stroke="#EEB8EA" d="M175.1 88.8h0"/>
<path stroke="#EE9099" d="M67.9 140.3h0"/>
<path stroke="#FFFAA0" d="M230.0 118.0h0"/>
<path stroke="#FF3370" d="M474.8 496.0h0"/>
<path stroke="#FFFAA0" d="M323.2 134.3h0"/>
<path stroke="#1E44BB" d="M326.5 117.1h0"/>
<path stroke="#80F5F0" d="M236.6 263.1h0"/>
<path stroke="#8844DD" d="M174.3 260.3h0"/>
<path stroke="#EEB8EA" d="M156.5 95.3h0"/>
<path stroke="#EE9099" d="M70.6 128.4h0"/>
<path stroke="#FFFAA0" d="M349.8 138.2h0"/>
<path stroke="#1E44BB" d="M340.6 112.3h0"/>
<path stroke="#B0307F" d="M277.2 84.9h0"/>
<path stroke="#CC77FF" d="M113.2 292.2h0"/>
<path stroke="#C4E6F4" d="M486.6 483.4h0M486.5 477.7h0M456.6 497.4h0"/>
<path stroke="#80F5F0" d="M243.5 252.6h0M251.4 240.6h0M222.8 263.6h0"/>
<path stroke="#CC5A35" d="M184.0 122.9h0"/>
<path stroke="#CC77FF" d="M90.2 311.0h0"/>
<path stroke="#80D8A0" d="M135.5 112.1h0"/>
<path stroke="#CC77FF" d="M130.3 302.1h0"/>
<path stroke="#EE9099" d="M40.2 125.9h0"/>
<path stroke="#CC5A35" d="M182.5 117.8h0"/>
<path stroke="#1E44BB" d="M242.3 124.8h0"/>
<path stroke="#CC77FF" d="M108.5 292.3h0"/>
<path stroke="#1E44BB" d="M288.5 138.9h0"/>
<path stroke="#3A6CCB" d="M398.6 507.1h0"/>
<path stroke="#CC5A35" d="M111.9 121.2h0"/>
<path stroke="#CC77FF" d="M164.7 285.7h0"/>
<path stroke="#B0307F" d="M249.7 103.9h0"/>
<path stroke="#FFFAA0" d="M293.2 126.3h0"/>
<path stroke="#CC77FF" d="M170.1 300.3h0M166.1 305.3h0M80.2 311.6h0"/>
<path stroke="#B0307F" d="M253.9 98.3h0"/>
<path stroke="#80F5F0" d="M231.9 239.0h0"/>
<path stroke="#C4E6F4" d="M487.9 478.6h0"/>
<path stroke="#B0307F" d="M218.2 110.0h0"/>
<path stroke="#CC77FF" d="M98.9 298.9h0"/>
<path stroke="#EE9099" d="M51.3 110.2h0"/>
<path stroke="#1E44BB" d="M352.7 109.1h0M292.0 102.9h0"/>
<path stroke="#CC77FF" d="M122.0 304.2h0"/>
<path stroke="#80D8A0" d="M108.5 119.4h0"/>
<path stroke="#80F5F0" d="M238.6 263.4h0"/>
<path stroke="#CC5A35" d="M168.0 121.0h0"/>
<path stroke="#EEB8EA" d="M160.1 90.4h0"/>
<path stroke="#C4E6F4" d="M453.1 494.0h0"/>
<path stroke="#CC77FF" d="M101.6 309.5h0"/>
<path stroke="#3A6CCB" d="M434.4 496.3h0"/>
<path stroke="#C4E6F4" d="M479.1 478.6h0"/>
<path stroke="#FF3370" d="M478.1 499.6h0"/>
<path stroke="#CC77FF" d="M116.3 308.4h0"/>
<path stroke="#3A6CCB" d="M394.7 499.2h0"/>
<path stroke="#1E44BB" d="M292.9 119.2h0"/>
<path stroke="#FFFAA0" d="M321.7 143.0h0"/>
<path stroke="#B0307F" d="M255.2 82.4h0"/>
<path stroke="#1E44BB" d="M321.2 123.1h0"/>
<path stroke="#CC5A35" d="M167.8 114.7h0"/>
<path stroke="#EE9099" d="M83.2 144.5h0"/>
<path stroke="#1E44BB" d="M312.7 124.3h0"/>
<path stroke="#3A6CCB" d="M409.3 515.5h0"/>
<path stroke="#1E44BB" d="M357.9 119.6h0M362.0 111.9h0"/>
<path stroke="#EEB8EA" d="M182.2 103.0h0"/>
<path stroke="#8844DD" d="M171.3 261.1h0M172.6 264.8h0"/>
<path stroke="#FFFAA0" d="M354.7 127.6h0"/>
<path stroke="#CC77FF" d="M96.0 317.7h0"/>
<path stroke="#8844DD" d="M186.9 268.9h0M134.6 289.0h0"/>
<path stroke="#CC77FF" d="M118.6 317.2h0"/>
<path stroke="#FFFAA0" d="M301.9 136.4h0"/>
<path stroke="#C4E6F4" d="M471.2 490.5h0"/>
<path stroke="#B0307F" d="M244.2 96.5h0M243.6 102.8h0M227.5 87.5h0"/>
<path stroke="#CC77FF" d="M151.7 294.5h0"/>
<path stroke="#B0307F" d="M268.8 89.9h0"/>
<path stroke="#EEB8EA" d="M167.3 104.0h0"/>
<path stroke="#B0307F" d="M275.1 106.9h0"/>
<path stroke="#1E44BB" d="M248.9 114.3h0"/>
<path stroke="#80D8A0" d="M119.7 116.6h0"/>
<path stroke="#EEB8EA" d="M158.1 97.4h0"/>
<path stroke="#CC77FF" d="M97.4 317.9h0"/>
<path stroke="#CC5A35" d="M188.3 120.6h0"/>
<path stroke="#3A6CCB" d="M392.7 506.1h0"/>
<path stroke="#FFFAA0" d="M279.3 126.7h0"/>
<path stroke="#1E44BB" d="M327.6 110.4h0"/>
<path stroke="#80F5F0" d="M236.7 257.3h0"/>
<path stroke="#1E44BB" d="M347.9 118.7h0"/>
<path stroke="#C4E6F4" d="M468.7 497.5h0"/>
<path stroke="#CC77FF" d="M101.3 310.1h0M118.3 306.3h0"/>
<path stroke="#FFFAA0" d="M296.1 142.0h0"/>
<path stroke="#CC5A35" d="M154.1 128.1h0"/>
<path stroke="#FFFAA0" d="M284.8 124.8h0"/>
<path stroke="#EE9099" d="M70.3 125.8h0"/>
<path stroke="#80D8A0" d="M135.9 109.7h0"/>
<path stroke="#B0307F" d="M236.2 103.5h0"/>
<path stroke="#FFFAA0" d="M318.2 132.5h0"/>
<path stroke="#B0307F" d="M224.5 113.9h0"/>
<path stroke="#CC77FF" d="M88.1 314.7h0"/>
<path stroke="#80D8A0" d="M140.5 110.2h0"/>
<path stroke="#1E44BB" d="M354.2 122.7h0M276.8 115.0h0"/>
<path stroke="#80F5F0" d="M254.7 244.0h0"/>
<path stroke="#EE9099" d="M48.9 140.2h0"/>
<path stroke="#B0307F" d="M220.5 89.1h0M239.1 112.3h0"/>
<path stroke="#8844DD" d="M196.5 288.4h0"/>
<path stroke="#1E44BB" d="M308.2 110.5h0M343.9 118.0h0"/>
<path stroke="#CC77FF" d="M184.5 303.6h0"/>
<path stroke="#1E44BB" d="M294.0 101.2h0"/>
<path stroke="#8844DD" d="M180.7 272.7h0"/>
<path stroke="#1E44BB" d="M293.3 99.9h0"/>
<path stroke="#FFFAA0" d="M283.0 137.3h0"/>
<path stroke="#B0307F" d="M249.7 109.0h0"/>
<path stroke="#1E44BB" d="M285.7 97.8h0"/>
<path stroke="#EEB8EA" d="M156.8 91.0h0"/>
<path stroke="#EE9099" d="M78.0 139.8h0"/>
<path stroke="#80F5F0" d="M246.3 253.0h0"/>
<path stroke="#CC5A35" d="M171.7 114.7h0"/>
<path stroke="#80F5F0" d="M265.9 252.7h0"/>
<path stroke="#C4E6F4" d="M486.5 487.6h0"/>
<path stroke="#EE9099" d="M69.5 120.7h0"/>
<path stroke="#80D8A0" d="M169.1 112.1h0"/>
<path stroke="#C4E6F4" d="M461.2 490.8h0"/>
<path stroke="#B0307F" d="M250.6 81.4h0"/>
<path stroke="#FFFAA0" d="M290.2 131.5h0"/>
<path stroke="#80F5F0" d="M232.6 257.1h0"/>
<path stroke="#C4E6F4" d="M487.0 487.3h0"/>
<path stroke="#1E44BB" d="M328.8 101.6h0"/>
<path stroke="#CC77FF" d="M114.2 307.6h0M116.1 283.0h0"/>
<path stroke="#EEB8EA" d="M195.7 97.1h0"/>
<path stroke="#1E44BB" d="M330.6 109.2h0"/>
<path stroke="#8844DD" d="M164.6 264.9h0"/>
<path stroke="#1E44BB" d="M331.5 121.5h0"/>
<path stroke="#FFFAA0" d="M345.9 128.0h0"/>
<path stroke="#80F5F0" d="M245.0 246.3h0"/>
<path stroke="#1E44BB" d="M297.8 126.1h0"/>
<path stroke="#CC77FF" d="M93.4 297.0h0"/>
<path stroke="#1E44BB" d="M323.8 130.1h0M324.9 108.2h0M307.9 118.1h0"/>
<path stroke="#CC77FF" d="M131.7 304.3h0"/>
<path stroke="#CC5A35" d="M142.9 124.5h0"/>
<path stroke="#CC77FF" d="M115.9 316.8h0"/>
<path stroke="#80F5F0" d="M255.4 262.1h0"/>
<path stroke="#FFFAA0" d="M292.8 133.1h0"/>
<path stroke="#CC77FF" d="M104.2 300.8h0M92.5 319.8h0M181.2 293.4h0"/>
<path stroke="#1E44BB" d="M323.7 115.2h0M263.7 119.0h0"/>
<path stroke="#FFFAA0" d="M340.6 134.0h0"/>
<path stroke="#CC5A35" d="M163.1 128.0h0"/>
<path stroke="#B0307F" d="M271.1 109.1h0"/>
<path stroke="#80D8A0" d="M131.5 116.3h0"/>
<path stroke="#33CC66" d="M76.6 143.8h0"/>
<path stroke="#1E44BB" d="M320.4 126.5h0"/>
<path stroke="#EE9099" d="M38.5 127.7h0"/>
<path stroke="#CC77FF" d="M134.0 296.3h0"/>
<path stroke="#FFFAA0" d="M355.5 131.7h0"/>
<path stroke="#EEB8EA" d="M195.6 96.6h0"/>
<path stroke="#CC77FF" d="M132.3 305.7h0"/>
<path stroke="#FFFAA0" d="M334.2 131.4h0"/>
<path stroke="#EE9099" d="M86.1 149.6h0"/>
<path stroke="#CC77FF" d="M111.6 296.5h0"/>
<path stroke="#1E44BB" d="M255.2 116.6h0"/>
<path stroke="#CC77FF" d="M97.9 299.8h0"/>
<path stroke="#3A6CCB" d="M427.3 510.7h0"/>
<path stroke="#CC77FF" d="M112.7 287.5h0"/>
<path stroke="#8844DD" d="M161.4 261.1h0"/>
<path stroke="#B0307F" d="M251.5 79.3h0"/>
<path stroke="#3A6CCB" d="M425.8 508.8h0"/>
<path stroke="#80D8A0" d="M114.8 116.0h0"/>
<path stroke="#80F5F0" d="M234.1 259.6h0"/>
<path stroke="#C4E6F4" d="M475.6 478.3h0"/>
<path stroke="#CC77FF" d="M89.2 301.9h0M98.7 290.1h0"/>
<path stroke="#80F5F0" d="M247.3 259.0h0"/>
<path stroke="#1E44BB" d="M337.0 122.5h0"/>
<path stroke="#C4E6F4" d="M481.1 485.8h0"/>
<path stroke="#FF3370" d="M448.3 492.3h0"/>
<path stroke="#80D8A0" d="M138.4 117.4h0"/>
<path stroke="#80F5F0" d="M263.8 246.6h0"/>
<path stroke="#CC77FF" d="M154.0 284.9h0"/>
<path stroke="#1E44BB" d="M246.3 118.3h0"/>
<path stroke="#80F5F0" d="M266.0 246.6h0"/>
<path stroke="#B0307F" d="M199.4 101.8h0"/>
<path stroke="#CC77FF" d="M101.7 287.3h0"/>
<path stroke="#C4E6F4" d="M487.2 480.6h0"/>
<path stroke="#CC77FF" d="M118.3 312.5h0"/>
<path stroke="#EE9099" d="M76.9 124.8h0M86.4 117.1h0"/>
<path stroke="#B0307F" d="M274.2 94.0h0"/>
<path stroke="#80F5F0" d="M255.0 253.2h0"/>
<path stroke="#CC77FF" d="M143.0 300.2h0M96.3 312.3h0"/>
<path stroke="#B0307F" d="M283.1 110.2h0"/>
<path stroke="#CC77FF" d="M175.3 288.7h0M190.6 294.3h0M149.2 310.8h0"/>
<path stroke="#80F5F0" d="M247.8 256.8h0"/>
<path stroke="#1E44BB" d="M318.3 124.6h0"/>
<path stroke="#CC77FF" d="M162.7 307.2h0"/>
<path stroke="#EEB8EA" d="M183.3 98.9h0"/>
<path stroke="#33CC66" d="M91.8 148.6h0"/>
<path stroke="#3A6CCB" d="M435.7 497.0h0"/>
<path stroke="#80F5F0" d="M241.3 246.7h0"/>
<path stroke="#1E44BB" d="M301.4 111.9h0"/>
<path stroke="#C4E6F4" d="M487.6 485.7h0"/>
<path stroke="#80D8A0" d="M144.1 112.7h0"/>
<path stroke="#CC77FF" d="M157.1 297.9h0M108.0 285.9h0"/>
<path stroke="#B0307F" d="M222.6 91.8h0"/>
<path stroke="#CC77FF" d="M69.6 302.6h0"/>
<path stroke="#1E44BB" d="M361.1 112.9h0"/>
<path stroke="#C4E6F4" d="M464.9 499.5h0"/>
<path stroke="#CC77FF" d="M134.1 318.7h0"/>
<path stroke="#80F5F0" d="M245.6 243.8h0"/>
<path stroke="#1E44BB" d="M286.0 109.3h0"/>
<path stroke="#CC5A35" d="M167.2 122.1h0"/>
<path stroke="#80F5F0" d="M228.5 253.5h0"/>
<path stroke="#8844DD" d="M193.1 273.7h0"/>
<path stroke="#1E44BB" d="M307.5 139.5h0"/>
<path stroke="#C4E6F4" d="M481.7 480.1h0"/>
<path stroke="#CC5A35" d="M168.1 110.6h0"/>
<path stroke="#CC77FF" d="M104.6 301.4h0"/>
<path stroke="#1E44BB" d="M316.4 123.5h0"/>
<path stroke="#3A6CCB" d="M405.6 499.6h0"/>
<path stroke="#1E44BB" d="M330.5 110.3h0"/>
<path stroke="#EE9099" d="M69.6 141.1h0M67.3 150.2h0"/>
<path stroke="#C4E6F4" d="M479.8 488.6h0"/>
<path stroke="#CC77FF" d="M117.2 320.9h0"/>
<path stroke="#B0307F" d="M275.3 99.9h0"/>
<path stroke="#CC77FF" d="M130.8 319.7h0"/>
<path stroke="#80F5F0" d="M223.3 244.5h0"/>
<path stroke="#1E44BB" d="M237.8 117.3h0"/>
<path stroke="#CC77FF" d="M99.7 319.2h0M96.7 296.8h0"/>
<path stroke="#1E44BB" d="M303.4 98.4h0M299.0 128.3h0"/>
<path stroke="#C4E6F4" d="M465.7 494.9h0"/>
<path stroke="#FFFAA0" d="M335.5 137.8h0"/>
<path stroke="#B0307F" d="M280.0 97.7h0"/>
<path stroke="#EE9099" d="M78.1 118.1h0"/>
<path stroke="#CC77FF" d="M116.1 312.4h0"/>
<path stroke="#3A6CCB" d="M423.1 504.2h0"/>
<path stroke="#1E44BB" d="M317.8 130.3h0"/>
<path stroke="#CC77FF" d="M98.4 293.9h0"/>
<path stroke="#8844DD" d="M205.1 263.8h0"/>
<path stroke="#FFFAA0" d="M299.5 141.9h0"/>
<path stroke="#CC77FF" d="M178.7 296.0h0M151.6 309.0h0"/>
<path stroke="#B0307F" d="M283.4 91.5h0"/>
<path stroke="#EE9099" d="M77.9 132.6h0"/>
<path stroke="#C4E6F4" d="M459.2 488.3h0"/>
<path stroke="#B0307F" d="M265.1 114.5h0M280.9 86.0h0"/>
<path stroke="#EE9099" d="M96.3 143.8h0"/>
<path stroke="#3A6CCB" d="M422.9 506.9h0"/>
<path stroke="#CC77FF" d="M144.6 290.5h0"/>
<path stroke="#B0307F" d="M217.4 116.4h0"/>
<path stroke="#8844DD" d="M171.6 273.9h0"/>
<path stroke="#3A6CCB" d="M392.3 501.9h0"/>
<path stroke="#EEB8EA" d="M197.4 94.8h0"/>
<path stroke="#C4E6F4" d="M483.7 479.0h0"/>
<path stroke="#EE9099" d="M49.3 140.9h0"/>
<path stroke="#CC77FF" d="M129.6 293.7h0"/>
<path stroke="#33CC66" d="M106.4 135.6h0"/>
<path stroke="#3A6CCB" d="M410.2 497.3h0M406.6 510.9h0"/>
<path stroke="#1E44BB" d="M351.7 130.6h0"/>
<path stroke="#8844DD" d="M151.2 278.5h0"/>
<path stroke="#CC77FF" d="M90.9 289.9h0"/>
<path stroke="#1E44BB" d="M324.4 101.0h0"/>
<path stroke="#EE9099" d="M49.4 111.4h0"/>
<path stroke="#CC77FF" d="M110.8 284.5h0M170.3 295.3h0M93.6 301.2h0"/>
<path stroke="#1E44BB" d="M343.9 127.0h0M338.8 128.6h0M308.9 102.0h0"/>
<path stroke="#B0307F" d="M251.8 109.9h0"/>
<path stroke="#EE9099" d="M89.8 119.3h0"/>
<path stroke="#1E44BB" d="M264.7 118.1h0"/>
<path stroke="#CC77FF" d="M174.5 293.0h0M108.2 285.9h0"/>
<path stroke="#CC5A35" d="M152.5 123.4h0"/>
<path stroke="#80F5F0" d="M247.5 240.5h0"/>
<path stroke="#80D8A0" d="M121.2 114.9h0"/>
<path stroke="#1E44BB" d="M272.2 128.2h0M308.0 102.9h0"/>
<path stroke="#EEB8EA" d="M168.6 88.6h0"/>
<path stroke="#EE9099" d="M63.1 144.3h0"/>
<path stroke="#CC77FF" d="M126.9 311.0h0"/>
<path stroke="#FFFAA0" d="M319.4 133.6h0M323.1 135.1h0"/>
<path stroke="#CC77FF" d="M144.5 271.0h0"/>
<path stroke="#FF3370" d="M473.6 498.6h0"/>
<path stroke="#B0307F" d="M247.6 87.6h0"/>
<path stroke="#1E44BB" d="M302.9 133.3h0"/>
<path stroke="#B0307F" d="M242.0 94.2h0"/>
<path stroke="#CC77FF" d="M104.6 320.9h0"/>
<path stroke="#FFFAA0" d="M327.3 139.7h0"/>
<path stroke="#B0307F" d="M255.0 99.2h0"/>
<path stroke="#80F5F0" d="M236.8 267.1h0"/>
<path stroke="#CC77FF" d="M92.3 298.9h0M146.9 290.4h0"/>
<path stroke="#EE9099" d="M78.4 124.8h0"/>
<path stroke="#CC77FF" d="M138.6 301.7h0"/>
<path stroke="#80F5F0" d="M240.0 255.0h0"/>
<path stroke="#EEB8EA" d="M182.6 109.3h0"/>
<path stroke="#1E44BB" d="M310.9 138.1h0"/>
<path stroke="#80F5F0" d="M250.5 254.1h0"/>
<path stroke="#B0307F" d="M221.2 111.3h0"/>
<path stroke="#1E44BB" d="M273.0 124.1h0"/>
<path stroke="#C4E6F4" d="M459.6 489.4h0"/>
<path stroke="#80F5F0" d="M247.3 263.8h0"/>
<path stroke="#CC77FF" d="M183.5 294.1h0"/>
<path stroke="#EE9099" d="M90.4 133.9h0"/>
<path stroke="#CC5A35" d="M144.7 120.8h0"/>
<path stroke="#EE9099" d="M67.2 147.5h0M41.9 124.9h0"/>
<path stroke="#EEB8EA" d="M175.2 103.8h0"/>
<path stroke="#80D8A0" d="M109.0 115.0h0"/>
<path stroke="#CC5A35" d="M161.3 125.9h0"/>
<path stroke="#EE9099" d="M79.7 115.7h0M55.8 123.9h0"/>
<path stroke="#1E44BB" d="M319.9 105.8h0M308.4 129.4h0M328.4 122.7h0"/>
<path stroke="#CC77FF" d="M157.7 313.3h0"/>
<path stroke="#EE9099" d="M67.3 119.0h0"/>
<path stroke="#3A6CCB" d="M442.2 498.9h0"/>
<path stroke="#C4E6F4" d="M474.8 487.3h0M473.4 489.5h0"/>
<path stroke="#1E44BB" d="M303.0 112.5h0"/>
<path stroke="#CC77FF" d="M121.8 310.4h0"/>
<path stroke="#1E44BB" d="M300.0 106.8h0"/>
<path stroke="#3A6CCB" d="M402.4 505.7h0"/>
<path stroke="#80D8A0" d="M125.1 109.8h0"/>
<path stroke="#EEB8EA" d="M175.2 91.7h0"/>
<path stroke="#B0307F" d="M257.9 108.2h0"/>
<path stroke="#3A6CCB" d="M393.0 497.8h0"/>
<path stroke="#80D8A0" d="M138.8 118.8h0"/>
<path stroke="#EE9099" d="M51.9 113.7h0"/>
<path stroke="#B0307F" d="M293.0 103.3h0"/>
<path stroke="#80F5F0" d="M224.2 265.2h0"/>
<path stroke="#EE9099" d="M63.1 129.0h0"/>
<path stroke="#CC77FF" d="M82.3 300.7h0M147.9 311.3h0M98.2 291.7h0"/>
<path stroke="#1E44BB" d="M315.0 117.5h0"/>
<path stroke="#FFFAA0" d="M298.4 128.6h0"/>
<path stroke="#CC77FF" d="M118.0 296.2h0"/>
<path stroke="#B0307F" d="M213.8 93.0h0"/>
<path stroke="#C4E6F4" d="M456.2 488.6h0"/>
<path stroke="#FFFAA0" d="M308.5 132.7h0M255.7 114.3h0"/>
<path stroke="#EE9099" d="M51.8 130.3h0"/>
<path stroke="#8844DD" d="M221.0 258.0h0"/>
<path stroke="#1E44BB" d="M348.4 121.2h0"/>
<path stroke="#3A6CCB" d="M404.8 509.1h0"/>
<path stroke="#C4E6F4" d="M454.0 498.7h0"/>
<path stroke="#CC77FF" d="M122.1 324.3h0M117.9 313.8h0"/>
<path stroke="#1E44BB" d="M306.2 126.1h0M344.5 120.3h0"/>
<path stroke="#C4E6F4" d="M485.3 478.3h0"/>
<path stroke="#3A6CCB" d="M428.7 509.8h0"/>
<path stroke="#FFFAA0" d="M280.8 123.1h0"/>
<path stroke="#CC77FF" d="M178.7 301.9h0"/>
<path stroke="#B0307F" d="M249.0 93.6h0"/>
<path stroke="#CC5A35" d="M157.2 117.4h0"/>
<path stroke="#EE9099" d="M73.3 126.8h0"/>
<path stroke="#B0307F" d="M219.4 94.8h0"/>
<path stroke="#CC77FF" d="M128.7 302.2h0"/>
<path stroke="#1E44BB" d="M344.1 121.0h0"/>
<path stroke="#80F5F0" d="M236.0 250.4h0"/>
<path stroke="#1E44BB" d="M316.2 128.8h0"/>
<path stroke="#FFFAA0" d="M292.0 142.0h0"/>
<path stroke="#1E44BB" d="M293.8 117.0h0"/>
<path stroke="#CC77FF" d="M132.8 298.6h0"/>
<path stroke="#1E44BB" d="M291.1 110.7h0"/>
<path stroke="#EEB8EA" d="M172.1 97.5h0M185.9 91.9h0"/>
<path stroke="#80F5F0" d="M255.6 262.1h0"/>
<path stroke="#CC77FF" d="M113.9 297.7h0"/>
<path stroke="#80F5F0" d="M250.1 245.2h0"/>
<path stroke="#CC77FF" d="M82.5 308.7h0"/>
<path stroke="#FFFAA0" d="M289.0 143.0h0"/>
<path stroke="#EE9099" d="M65.2 121.0h0M54.7 140.7h0"/>
<path stroke="#3A6CCB" d="M411.3 505.8h0"/>
<path stroke="#8844DD" d="M205.1 253.7h0"/>
<path stroke="#CC77FF" d="M118.4 288.1h0"/>
<path stroke="#FFFAA0" d="M351.6 128.3h0M280.7 122.3h0"/>
<path stroke="#EE9099" d="M90.1 119.9h0"/>
<path stroke="#CC77FF" d="M148.1 304.5h0"/>
<path stroke="#EE9099" d="M54.8 115.4h0"/>
<path stroke="#CC77FF" d="M132.9 313.2h0"/>
<path stroke="#8844DD" d="M199.4 289.8h0"/>
<path stroke="#1E44BB" d="M353.7 120.1h0"/>
<path stroke="#8844DD" d="M170.5 264.4h0"/>
<path stroke="#B0307F" d="M262.6 92.9h0"/>
<path stroke="#1E44BB" d="M298.4 105.2h0"/>
<path stroke="#CC77FF" d="M111.4 290.9h0"/>
<path stroke="#CC5A35" d="M137.3 116.9h0"/>
<path stroke="#FFFAA0" d="M306.6 133.9h0"/>
<path stroke="#B0307F" d="M243.5 101.0h0"/>
<path stroke="#1E44BB" d="M361.5 112.8h0"/>
<path stroke="#FFFAA0" d="M314.3 132.3h0"/>
<path stroke="#CC77FF" d="M122.2 283.0h0M103.4 314.8h0"/>
<path stroke="#8844DD" d="M191.2 268.4h0"/>
<path stroke="#B0307F" d="M252.9 86.4h0M250.1 111.3h0"/>
<path stroke="#1E44BB" d="M350.6 108.4h0"/>
<path stroke="#B0307F" d="M243.9 105.4h0"/>
<path stroke="#80D8A0" d="M150.0 109.1h0"/>
<path stroke="#C4E6F4" d="M459.9 486.7h0"/>
<path stroke="#B0307F" d="M246.3 81.5h0"/>
<path stroke="#3A6CCB" d="M438.0 502.0h0"/>
<path stroke="#CC5A35" d="M173.0 113.7h0"/>
<path stroke="#EEB8EA" d="M191.5 91.2h0"/>
<path stroke="#80F5F0" d="M263.0 249.2h0"/>
<path stroke="#CC77FF" d="M113.9 287.9h0"/>
<path stroke="#3A6CCB" d="M401.9 502.6h0"/>
<path stroke="#B0307F" d="M245.7 103.4h0"/>
<path stroke="#CC77FF" d="M192.5 302.2h0"/>
<path stroke="#FFFAA0" d="M310.7 143.7h0"/>
<path stroke="#EE9099" d="M57.7 129.8h0"/>
<path stroke="#1E44BB" d="M323.2 111.0h0"/>
<path stroke="#8844DD" d="M166.0 253.7h0"/>
<path stroke="#CC77FF" d="M105.9 296.2h0"/>
<path stroke="#80F5F0" d="M223.3 254.2h0"/>
<path stroke="#3A6CCB" d="M403.1 501.8h0"/>
<path stroke="#C4E6F4" d="M455.6 495.3h0"/>
<path stroke="#B0307F" d="M233.1 91.9h0"/>
<path stroke="#CC77FF" d="M78.3 302.7h0"/>
<path stroke="#1E44BB" d="M303.9 104.8h0"/>
<path stroke="#B0307F" d="M251.0 89.4h0"/>
<path stroke="#3A6CCB" d="M419.2 502.9h0"/>
<path stroke="#EE9099" d="M87.5 149.9h0"/>
<path stroke="#80F5F0" d="M239.2 242.3h0"/>
<path stroke="#CC77FF" d="M71.3 301.5h0M125.5 297.9h0"/>
<path stroke="#EE9099" d="M64.1 112.5h0"/>
<path stroke="#B0307F" d="M266.1 112.9h0"/>
<path stroke="#3A6CCB" d="M396.7 505.0h0"/>
<path stroke="#EE9099" d="M46.1 129.6h0"/>
<path stroke="#8844DD" d="M183.6 270.4h0"/>
<path stroke="#1E44BB" d="M326.1 122.1h0M325.3 108.1h0"/>
<path stroke="#FFFAA0" d="M346.5 138.0h0"/>
<path stroke="#B0307F" d="M241.6 90.8h0"/>
<path stroke="#CC5A35" d="M184.6 124.1h0"/>
<path stroke="#EE9099" d="M73.1 116.5h0"/>
<path stroke="#C4E6F4" d="M455.5 492.4h0"/>
<path stroke="#33CC66" d="M107.5 127.5h0"/>
<path stroke="#80F5F0" d="M223.5 249.0h0"/>
<path stroke="#CC5A35" d="M134.2 125.3h0"/>
<path stroke="#8844DD" d="M176.1 278.0h0"/>
<path stroke="#EE9099" d="M48.3 121.5h0"/>
<path stroke="#CC77FF" d="M190.7 294.7h0M127.2 306.5h0M84.1 314.0h0"/>
<path stroke="#1E44BB" d="M326.7 100.7h0"/>
<path stroke="#FFFAA0" d="M287.2 135.4h0"/>
<path stroke="#EE9099" d="M68.4 150.6h0"/>
<path stroke="#80F5F0" d="M239.1 267.6h0"/>
<path stroke="#EEB8EA" d="M192.1 83.9h0"/>
<path stroke="#3A6CCB" d="M421.2 504.5h0"/>
<path stroke="#80D8A0" d="M126.1 121.4h0"/>
<path stroke="#CC77FF" d="M169.6 302.6h0"/>
<path stroke="#3A6CCB" d="M428.6 500.4h0"/>
<path stroke="#80D8A0" d="M121.4 113.2h0"/>
<path stroke="#CC77FF" d="M129.6 289.4h0M149.5 294.3h0"/>
<path stroke="#B0307F" d="M251.6 91.1h0"/>
<path stroke="#EE9099" d="M66.0 138.8h0"/>
<path stroke="#B0307F" d="M232.1 100.6h0"/>
<path stroke="#FFFAA0" d="M309.2 145.3h0"/>
<path stroke="#B0307F" d="M222.8 86.0h0"/>
<path stroke="#EE9099" d="M72.6 132.1h0"/>
<path stroke="#CC77FF" d="M158.0 313.1h0"/>
<path stroke="#EE9099" d="M55.5 136.5h0"/>
<path stroke="#1E44BB" d="M342.4 127.9h0"/>
<path stroke="#B0307F" d="M280.7 104.2h0"/>
<path stroke="#8844DD" d="M175.9 262.4h0"/>
<path stroke="#80F5F0" d="M248.0 243.8h0"/>
<path stroke="#EE9099" d="M56.8 113.1h0M91.5 134.2h0"/>
<path stroke="#CC5A35" d="M161.4 128.4h0"/>
<path stroke="#1E44BB" d="M347.8 116.1h0M336.0 105.4h0"/>
<path stroke="#8844DD" d="M171.8 272.1h0"/>
<path stroke="#B0307F" d="M259.1 98.4h0"/>
<path stroke="#FF3370" d="M468.0 498.2h0"/>
<path stroke="#1E44BB" d="M238.4 117.8h0"/>
<path stroke="#B0307F" d="M210.3 100.5h0"/>
<path stroke="#8844DD" d="M161.8 257.1h0"/>
<path stroke="#EE9099" d="M71.1 134.0h0"/>
<path stroke="#B0307F" d="M282.3 87.3h0"/>
<path stroke="#FFFAA0" d="M302.2 142.6h0"/>
<path stroke="#1E44BB" d="M301.0 119.2h0"/>
<path stroke="#B0307F" d="M266.4 109.4h0"/>
<path stroke="#C4E6F4" d="M480.3 483.1h0"/>
<path stroke="#8844DD" d="M175.7 268.7h0"/>
<path stroke="#B0307F" d="M268.5 98.2h0"/>
<path stroke="#EEB8EA" d="M194.5 88.2h0"/>
<path stroke="#EE9099" d="M51.1 131.8h0"/>
<path stroke="#C4E6F4" d="M480.5 489.0h0"/>
<path stroke="#80F5F0" d="M252.9 245.2h0"/>
<path stroke="#8844DD" d="M151.2 285.4h0"/>
<path stroke="#EE9099" d="M44.3 112.7h0M68.5 135.9h0"/>
<path stroke="#CC5A35" d="M158.4 125.9h0"/>
<path stroke="#80D8A0" d="M155.6 129.4h0"/>
<path stroke="#8844DD" d="M218.2 249.3h0"/>
<path stroke="#C4E6F4" d="M448.8 494.8h0"/>
<path stroke="#CC77FF" d="M110.0 287.4h0"/>
<path stroke="#EEB8EA" d="M181.3 85.5h0"/>
<path stroke="#3A6CCB" d="M443.6 504.8h0"/>
<path stroke="#EE9099" d="M93.0 140.2h0"/>
<path stroke="#CC77FF" d="M129.0 288.7h0"/>
<path stroke="#1E44BB" d="M304.1 119.8h0"/>
<path stroke="#CC77FF" d="M152.0 311.8h0"/>
<path stroke="#1E44BB" d="M281.8 114.7h0"/>
<path stroke="#3A6CCB" d="M410.4 496.1h0"/>
<path stroke="#CC77FF" d="M172.4 311.5h0"/>
<path stroke="#EE9099" d="M96.6 125.5h0"/>
<path stroke="#CC77FF" d="M180.5 285.5h0"/>
<path stroke="#EE9099" d="M77.2 133.8h0"/>
<path stroke="#1E44BB" d="M289.4 129.2h0M318.9 108.5h0"/>
<path stroke="#EE9099" d="M45.6 141.1h0"/>
<path stroke="#1E44BB" d="M357.0 123.7h0M316.4 107.8h0"/>
<path stroke="#CC77FF" d="M79.9 303.8h0"/>
<path stroke="#1E44BB" d="M313.7 102.7h0"/>
<path stroke="#CC77FF" d="M103.2 315.2h0"/>
<path stroke="#CC5A35" d="M168.8 111.3h0"/>
<path stroke="#8844DD" d="M183.5 266.2h0M169.5 262.3h0M185.1 277.0h0"/>
<path stroke="#CC77FF" d="M177.9 303.8h0"/>
<path stroke="#EE9099" d="M48.1 122.8h0"/>
<path stroke="#1E44BB" d="M315.8 107.7h0M312.7 124.1h0"/>
<path stroke="#CC5A35" d="M180.2 118.1h0"/>
<path stroke="#CC77FF" d="M141.9 300.5h0"/>
<path stroke="#3A6CCB" d="M416.8 511.5h0"/>
<path stroke="#C4E6F4" d="M488.5 483.8h0"/>
<path stroke="#CC77FF" d="M99.3 287.1h0M160.6 283.8h0"/>
<path stroke="#8844DD" d="M159.7 279.7h0"/>
<path stroke="#C4E6F4" d="M459.1 496.5h0"/>
<path stroke="#FFFAA0" d="M273.4 113.0h0"/>
<path stroke="#1E44BB" d="M323.5 124.0h0"/>
<path stroke="#EE9099" d="M44.7 116.7h0"/>
<path stroke="#1E44BB" d="M357.2 124.3h0"/>
<path stroke="#CC77FF" d="M141.3 316.3h0"/>
<path stroke="#EEB8EA" d="M159.4 92.9h0"/>
<path stroke="#CC77FF" d="M103.0 290.5h0"/>
<path stroke="#8844DD" d="M181.2 274.4h0"/>
<path stroke="#C4E6F4" d="M462.0 495.6h0"/>
<path stroke="#1E44BB" d="M345.3 125.2h0"/>
<path stroke="#3A6CCB" d="M426.1 504.7h0"/>
<path stroke="#8844DD" d="M163.3 273.0h0"/>
<path stroke="#1E44BB" d="M277.7 110.8h0"/>
<path stroke="#CC77FF" d="M114.9 315.0h0"/>
<path stroke="#EE9099" d="M92.0 144.3h0"/>
<path stroke="#3A6CCB" d="M421.5 504.8h0"/>
<path stroke="#B0307F" d="M238.9 112.5h0"/>
<path stroke="#1E44BB" d="M307.3 121.0h0M288.1 112.3h0"/>
<path stroke="#CC77FF" d="M114.5 281.8h0"/>
<path stroke="#1E44BB" d="M312.5 107.0h0M281.4 101.4h0"/>
<path stroke="#CC77FF" d="M80.3 312.6h0M90.7 309.1h0M97.8 295.7h0"/>
<path stroke="#3A6CCB" d="M403.4 503.2h0"/>
<path stroke="#CC5A35" d="M183.8 121.4h0"/>
<path stroke="#CC77FF" d="M126.2 314.3h0"/>
<path stroke="#1E44BB" d="M325.2 112.4h0"/>
<path stroke="#CC77FF" d="M143.2 303.6h0M107.6 311.5h0M107.8 322.5h0"/>
<path stroke="#1E44BB" d="M254.9 119.5h0"/>
<path stroke="#EEB8EA" d="M151.2 99.2h0"/>
<path stroke="#CC5A35" d="M187.9 117.1h0"/>
<path stroke="#B0307F" d="M263.0 96.2h0M254.2 102.1h0"/>
<path stroke="#FFFAA0" d="M298.1 133.6h0"/>
<path stroke="#1E44BB" d="M278.6 109.0h0"/>
<path stroke="#EE9099" d="M63.3 144.4h0"/>
<path stroke="#80D8A0" d="M117.9 116.0h0"/>
<path stroke="#CC77FF" d="M113.8 323.9h0"/>
<path stroke="#EE9099" d="M75.7 130.4h0M90.6 129.2h0"/>
<path stroke="#CC5A35" d="M181.6 124.1h0"/>
<path stroke="#EE9099" d="M77.5 115.3h0"/>
<path stroke="#80D8A0" d="M169.7 116.2h0M123.5 113.3h0"/>
<path stroke="#80F5F0" d="M239.4 252.9h0"/>
<path stroke="#1E44BB" d="M318.9 113.1h0"/>
<path stroke="#CC77FF" d="M153.7 291.0h0"/>
<path stroke="#B0307F" d="M277.8 97.2h0"/>
<path stroke="#CC77FF" d="M93.2 320.6h0"/>
<path stroke="#3A6CCB" d="M412.2 510.1h0"/>
<path stroke="#8844DD" d="M172.3 263.3h0"/>
<path stroke="#B0307F" d="M200.2 99.3h0"/>
<path stroke="#80F5F0" d="M248.7 249.3h0"/>
<path stroke="#CC77FF" d="M140.1 315.5h0"/>
<path stroke="#1E44BB" d="M363.7 115.5h0"/>
<path stroke="#3A6CCB" d="M396.6 495.8h0"/>
<path stroke="#EEB8EA" d="M185.8 102.2h0"/>
<path stroke="#CC77FF" d="M164.2 303.7h0"/>
<path stroke="#B0307F" d="M260.3 94.3h0"/>
<path stroke="#CC77FF" d="M146.9 295.0h0"/>
<path stroke="#8844DD" d="M167.5 254.8h0"/>
<path stroke="#CC5A35" d="M170.9 128.7h0"/>
<path stroke="#CC77FF" d="M146.6 286.1h0"/>
<path stroke="#80F5F0" d="M251.8 256.0h0"/>
<path stroke="#CC77FF" d="M127.9 295.6h0"/>
<path stroke="#CC5A35" d="M143.3 126.3h0"/>
<path stroke="#1E44BB" d="M274.7 126.6h0"/>
<path stroke="#B0307F" d="M280.0 95.4h0"/>
<path stroke="#EE9099" d="M74.4 141.0h0"/>
<path stroke="#FFFAA0" d="M339.0 135.3h0M307.9 140.3h0"/>
<path stroke="#CC77FF" d="M114.4 283.1h0M192.3 294.9h0M132.5 312.2h0M103.5 317.8h0M112.2 309.2h0"/>
<path stroke="#80F5F0" d="M225.3 247.7h0"/>
<path stroke="#FFFAA0" d="M235.5 116.8h0"/>
<path stroke="#EEB8EA" d="M161.7 105.1h0"/>
<path stroke="#EE9099" d="M73.7 140.2h0"/>
<path stroke="#EEB8EA" d="M182.5 86.5h0"/>
<path stroke="#C4E6F4" d="M470.6 482.6h0M463.9 488.8h0"/>
<path stroke="#3A6CCB" d="M387.0 506.2h0"/>
<path stroke="#CC77FF" d="M177.7 285.8h0"/>
<path stroke="#EE9099" d="M96.0 122.2h0"/>
<path stroke="#80F5F0" d="M256.4 260.0h0"/>
<path stroke="#1E44BB" d="M315.3 110.6h0"/>
<path stroke="#C4E6F4" d="M478.4 481.5h0"/>
<path stroke="#CC77FF" d="M184.7 303.5h0M141.3 301.0h0"/>
<path stroke="#8844DD" d="M148.5 298.0h0"/>
<path stroke="#CC77FF" d="M96.0 299.6h0"/>
<path stroke="#EEB8EA" d="M170.7 95.5h0"/>
<path stroke="#1E44BB" d="M322.2 113.1h0M272.0 127.4h0"/>
<path stroke="#EE9099" d="M82.7 121.2h0"/>
<path stroke="#B0307F" d="M280.4 98.6h0"/>
<path stroke="#CC77FF" d="M118.4 306.5h0"/>
<path stroke="#80D8A0" d="M134.6 117.6h0M121.7 121.5h0"/>
<path stroke="#EE9099" d="M84.5 133.8h0"/>
<path stroke="#80F5F0" d="M258.0 261.6h0"/>
<path stroke="#B0307F" d="M253.3 83.3h0"/>
<path stroke="#EE9099" d="M93.0 119.3h0"/>
<path stroke="#1E44BB" d="M316.6 117.1h0"/>
<path stroke="#C4E6F4" d="M446.6 493.5h0"/>
<path stroke="#8844DD" d="M200.8 266.7h0"/>
<path stroke="#80F5F0" d="M232.9 243.7h0"/>
<path stroke="#1E44BB" d="M308.2 120.3h0M289.7 110.0h0"/>
<path stroke="#B0307F" d="M259.3 94.0h0"/>
<path stroke="#80F5F0" d="M250.7 255.8h0"/>
<path stroke="#1E44BB" d="M303.6 128.2h0"/>
<path stroke="#CC77FF" d="M169.5 306.0h0"/>
<path stroke="#80D8A0" d="M139.9 111.7h0"/>
<path stroke="#B0307F" d="M257.6 109.9h0"/>
<path stroke="#8844DD" d="M160.0 286.0h0"/>
<path stroke="#1E44BB" d="M359.8 112.7h0"/>
<path stroke="#CC5A35" d="M154.5 120.3h0"/>
<path stroke="#CC77FF" d="M92.5 297.8h0M153.1 311.0h0M128.6 294.5h0M106.1 298.0h0"/>
<path stroke="#FFFAA0" d="M326.5 132.5h0"/>
<path stroke="#EE9099" d="M67.9 145.3h0"/>
<path stroke="#CC77FF" d="M106.5 310.7h0"/>
<path stroke="#80F5F0" d="M229.8 249.0h0M235.1 258.9h0"/>
<path stroke="#3A6CCB" d="M425.0 503.2h0"/>
<path stroke="#1E44BB" d="M250.3 124.3h0"/>
<path stroke="#CC77FF" d="M119.1 307.0h0"/>
<path stroke="#80F5F0" d="M259.9 251.6h0"/>
<path stroke="#1E44BB" d="M296.6 97.2h0"/>
<path stroke="#CC77FF" d="M95.7 287.8h0M93.0 315.3h0"/>
<path stroke="#EE9099" d="M99.9 137.2h0"/>
<path stroke="#80F5F0" d="M246.2 265.1h0"/>
<path stroke="#8844DD" d="M167.5 266.3h0M223.9 263.8h0"/>
<path stroke="#3A6CCB" d="M424.9 497.4h0"/>
<path stroke="#EE9099" d="M72.2 121.1h0"/>
<path stroke="#B0307F" d="M244.2 82.7h0"/>
<path stroke="#CC77FF" d="M83.4 301.0h0"/>
<path stroke="#80F5F0" d="M251.6 262.2h0"/>
<path stroke="#B0307F" d="M221.8 98.5h0"/>
<path stroke="#1E44BB" d="M286.1 120.4h0"/>
<path stroke="#CC77FF" d="M135.4 299.8h0"/>
<path stroke="#3A6CCB" d="M418.4 504.2h0M420.2 508.1h0"/>
<path stroke="#EE9099" d="M91.6 124.8h0M44.7 135.5h0"/>
<path stroke="#CC77FF" d="M191.6 301.2h0"/>
<path stroke="#EE9099" d="M90.1 117.2h0"/>
<path stroke="#CC77FF" d="M136.7 309.8h0"/>
<path stroke="#EE9099" d="M64.6 139.0h0"/>
<path stroke="#1E44BB" d="M329.7 101.2h0"/>
<path stroke="#CC5A35" d="M188.8 114.9h0"/>
<path stroke="#CC77FF" d="M182.9 301.4h0"/>
<path stroke="#1E44BB" d="M334.1 124.7h0"/>
<path stroke="#EE9099" d="M88.2 135.4h0"/>
<path stroke="#80F5F0" d="M243.6 238.3h0"/>
<path stroke="#EE9099" d="M47.9 121.4h0"/>
<path stroke="#FFFAA0" d="M279.0 133.2h0"/>
<path stroke="#8844DD" d="M178.9 272.3h0"/>
<path stroke="#1E44BB" d="M270.1 120.4h0"/>
<path stroke="#8844DD" d="M165.4 269.0h0"/>
<path stroke="#C4E6F4" d="M477.9 482.7h0"/>
<path stroke="#80F5F0" d="M246.2 257.2h0"/>
<path stroke="#3A6CCB" d="M401.5 514.1h0"/>
<path stroke="#FFFAA0" d="M327.1 142.4h0"/>
<path stroke="#CC77FF" d="M132.2 303.7h0"/>
<path stroke="#FFFAA0" d="M306.9 140.5h0"/>
<path stroke="#CC77FF" d="M136.0 292.5h0"/>
<path stroke="#B0307F" d="M205.0 120.0h0M260.2 84.8h0"/>
<path stroke="#CC77FF" d="M192.1 294.1h0"/>
<path stroke="#FFFAA0" d="M353.8 127.3h0"/>
<path stroke="#80D8A0" d="M136.4 118.1h0"/>
<path stroke="#CC77FF" d="M145.1 311.1h0M107.4 287.7h0M178.0 284.1h0"/>
<path stroke="#1E44BB" d="M316.0 131.4h0"/>
<path stroke="#B0307F" d="M271.8 100.3h0"/>
<path stroke="#EEB8EA" d="M170.0 99.8h0"/>
<path stroke="#8844DD" d="M163.7 269.2h0"/>
<path stroke="#FFFAA0" d="M291.0 140.0h0"/>
<path stroke="#80D8A0" d="M141.7 117.8h0"/>
<path stroke="#3A6CCB" d="M419.8 506.6h0"/>
<path stroke="#EE9099" d="M83.6 136.4h0"/>
<path stroke="#1E44BB" d="M338.4 133.4h0"/>
<path stroke="#FFFAA0" d="M338.7 130.7h0"/>
<path stroke="#80D8A0" d="M129.2 112.2h0"/>
<path stroke="#CC77FF" d="M143.9 318.3h0"/>
<path stroke="#8844DD" d="M178.0 273.5h0"/>
<path stroke="#3A6CCB" d="M427.6 510.4h0"/>
<path stroke="#CC77FF" d="M82.8 303.1h0"/>
<path stroke="#3A6CCB" d="M415.2 503.7h0"/>
<path stroke="#1E44BB" d="M338.9 115.0h0"/>
<path stroke="#3A6CCB" d="M396.1 507.7h0M428.0 505.7h0"/>
<path stroke="#1E44BB" d="M321.0 130.8h0"/>
<path stroke="#EE9099" d="M52.5 130.9h0"/>
<path stroke="#CC77FF" d="M166.8 299.1h0"/>
<path stroke="#B0307F" d="M270.5 87.0h0"/>
<path stroke="#80F5F0" d="M247.4 264.0h0"/>
<path stroke="#3A6CCB" d="M396.4 497.6h0"/>
<path stroke="#CC5A35" d="M155.2 107.5h0"/>
<path stroke="#80F5F0" d="M255.9 251.8h0"/>
<path stroke="#CC77FF" d="M97.0 302.6h0"/>
<path stroke="#EE9099" d="M84.7 143.4h0"/>
<path stroke="#CC5A35" d="M132.3 125.3h0"/>
<path stroke="#80D8A0" d="M142.4 113.3h0"/>
<path stroke="#EEB8EA" d="M158.9 100.3h0"/>
<path stroke="#B0307F" d="M258.4 101.1h0"/>
<path stroke="#EE9099" d="M89.1 140.9h0"/>
<path stroke="#C4E6F4" d="M454.2 496.9h0"/>
<path stroke="#FFFAA0" d="M297.0 140.1h0"/>
<path stroke="#CC77FF" d="M150.6 287.8h0M114.4 321.6h0"/>
<path stroke="#EEB8EA" d="M177.4 93.3h0"/>
<path stroke="#CC77FF" d="M110.6 285.0h0M104.5 286.0h0"/>
<path stroke="#EE9099" d="M99.3 138.8h0"/>
<path stroke="#CC5A35" d="M154.8 119.1h0"/>
<path stroke="#FFFAA0" d="M346.7 135.4h0"/>
<path stroke="#1E44BB" d="M323.6 111.2h0"/>
<path stroke="#3A6CCB" d="M413.3 513.8h0"/>
<path stroke="#FFFAA0" d="M293.9 138.7h0"/>
<path stroke="#CC77FF" d="M173.9 295.7h0"/>
<path stroke="#80D8A0" d="M118.0 117.2h0"/>
<path stroke="#3A6CCB" d="M421.0 509.8h0"/>
<path stroke="#FFFAA0" d="M276.8 125.3h0M302.0 136.6h0"/>
<path stroke="#CC77FF" d="M89.7 295.5h0"/>
<path stroke="#80D8A0" d="M130.0 121.1h0"/>
<path stroke="#B0307F" d="M247.1 86.5h0M276.6 103.7h0"/>
<path stroke="#1E44BB" d="M342.0 122.1h0"/>
<path stroke="#CC77FF" d="M141.6 285.5h0"/>
<path stroke="#3A6CCB" d="M427.8 512.7h0"/>
<path stroke="#FFFAA0" d="M327.9 137.6h0"/>
<path stroke="#CC77FF" d="M141.1 293.0h0M160.5 302.5h0M72.5 299.5h0"/>
<path stroke="#EE9099" d="M97.0 131.0h0"/>
<path stroke="#1E44BB" d="M329.7 101.9h0"/>
<path stroke="#80F5F0" d="M235.6 266.4h0"/>
<path stroke="#EE9099" d="M64.6 145.5h0"/>
<path stroke="#B0307F" d="M272.6 86.4h0"/>
<path stroke="#CC5A35" d="M176.7 122.5h0"/>
<path stroke="#80F5F0" d="M250.8 248.3h0"/>
<path stroke="#EEB8EA" d="M179.6 85.6h0"/>
<path stroke="#CC77FF" d="M102.9 295.2h0"/>
<path stroke="#EEB8EA" d="M176.9 88.8h0M180.6 97.0h0"/>
<path stroke="#CC77FF" d="M154.2 296.2h0"/>
<path stroke="#80D8A0" d="M148.0 117.6h0"/>
<path stroke="#1E44BB" d="M310.2 111.3h0"/>
<path stroke="#FFFAA0" d="M339.5 140.3h0"/>
<path stroke="#1E44BB" d="M353.1 115.9h0"/>
<path stroke="#FFFAA0" d="M286.4 121.3h0"/>
<path stroke="#EE9099" d="M59.0 130.5h0"/>
<path stroke="#B0307F" d="M226.6 97.6h0"/>
<path stroke="#8844DD" d="M173.5 275.4h0"/>
<path stroke="#EE9099" d="M93.4 125.7h0"/>
<path stroke="#CC5A35" d="M183.7 121.8h0"/>
<path stroke="#FFFAA0" d="M285.0 134.7h0"/>
<path stroke="#EE9099" d="M54.7 139.4h0"/>
<path stroke="#1E44BB" d="M317.9 130.1h0"/>
<path stroke="#EE9099" d="M55.9 142.4h0"/>
<path stroke="#80D8A0" d="M132.7 118.6h0"/>
<path stroke="#1E44BB" d="M351.6 118.8h0"/>
<path stroke="#FFFAA0" d="M332.1 136.7h0"/>
<path stroke="#1E44BB" d="M330.5 114.6h0"/>
<path stroke="#CC77FF" d="M90.3 307.5h0"/>
<path stroke="#1E44BB" d="M248.5 120.2h0"/>
<path stroke="#B0307F" d="M261.9 88.4h0"/>
<path stroke="#EE9099" d="M87.0 126.7h0"/>
<path stroke="#CC77FF" d="M154.8 308.3h0"/>
<path stroke="#1E44BB" d="M334.5 128.1h0"/>
<path stroke="#EEB8EA" d="M184.2 89.3h0"/>
<path stroke="#C4E6F4" d="M477.8 491.3h0"/>
<path stroke="#EE9099" d="M90.9 134.6h0"/>
<path stroke="#80D8A0" d="M118.9 110.9h0"/>
<path stroke="#1E44BB" d="M246.8 123.3h0"/>
<path stroke="#CC77FF" d="M129.0 283.9h0"/>
<path stroke="#B0307F" d="M230.5 95.1h0"/>
<path stroke="#8844DD" d="M180.0 283.0h0"/>
<path stroke="#CC77FF" d="M172.7 304.6h0"/>
<path stroke="#80F5F0" d="M237.1 237.8h0"/>
<path stroke="#CC5A35" d="M179.9 119.8h0M178.9 115.2h0"/>
<path stroke="#80F5F0" d="M235.6 256.1h0"/>
<path stroke="#FFFAA0" d="M300.8 144.6h0"/>
<path stroke="#1E44BB" d="M310.1 104.7h0M304.8 103.5h0"/>
<path stroke="#B0307F" d="M256.3 86.7h0"/>
<path stroke="#8844DD" d="M145.9 291.2h0"/>
<path stroke="#B0307F" d="M197.7 111.8h0"/>
<path stroke="#FFFAA0" d="M347.2 135.4h0"/>
<path stroke="#33CC66" d="M96.1 135.1h0"/>
<path stroke="#1E44BB" d="M355.1 125.6h0"/>
<path stroke="#80F5F0" d="M266.2 255.6h0"/>
<path stroke="#3A6CCB" d="M427.4 504.9h0"/>
<path stroke="#EE9099" d="M94.8 123.0h0"/>
<path stroke="#1E44BB" d="M281.7 102.6h0"/>
<path stroke="#80D8A0" d="M143.3 112.2h0"/>
<path stroke="#B0307F" d="M247.3 96.4h0"/>
<path stroke="#FFFAA0" d="M338.2 137.6h0"/>
<path stroke="#EE9099" d="M96.3 142.3h0M65.6 147.2h0"/>
<path stroke="#80F5F0" d="M232.3 245.9h0"/>
<path stroke="#EEB8EA" d="M180.2 98.4h0"/>
<path stroke="#8844DD" d="M213.1 253.7h0"/>
<path stroke="#80F5F0" d="M254.3 263.4h0"/>
<path stroke="#1E44BB" d="M317.5 129.3h0"/>
<path stroke="#B0307F" d="M244.9 83.1h0"/>
<path stroke="#CC77FF" d="M101.9 311.7h0"/>
<path stroke="#EEB8EA" d="M188.9 83.0h0"/>
<path stroke="#FFFAA0" d="M312.2 140.6h0"/>
<path stroke="#8844DD" d="M161.0 270.2h0"/>
<path stroke="#EEB8EA" d="M194.1 89.7h0"/>
<path stroke="#CC77FF" d="M87.6 312.4h0"/>
<path stroke="#EE9099" d="M86.3 122.0h0"/>
<path stroke="#1E44BB" d="M322.9 110.7h0"/>
<path stroke="#CC77FF" d="M168.9 298.0h0"/>
<path stroke="#CC5A35" d="M144.2 121.6h0"/>
<path stroke="#1E44BB" d="M342.9 119.8h0"/>
<path stroke="#B0307F" d="M297.8 95.2h0"/>
<path stroke="#C4E6F4" d="M483.0 480.6h0"/>
<path stroke="#EE9099" d="M81.0 118.7h0M56.5 141.2h0"/>
<path stroke="#1E44BB" d="M305.3 143.3h0"/>
<path stroke="#8844DD" d="M168.2 270.6h0M162.4 274.6h0"/>
<path stroke="#1E44BB" d="M329.6 129.6h0"/>
<path stroke="#FFFAA0" d="M283.6 135.0h0"/>
<path stroke="#CC5A35" d="M156.2 123.9h0"/>
<path stroke="#EE9099" d="M54.8 124.1h0"/>
<path stroke="#1E44BB" d="M304.2 123.4h0"/>
<path stroke="#8844DD" d="M172.3 264.9h0"/>
<path stroke="#3A6CCB" d="M402.6 514.0h0"/>
<path stroke="#B0307F" d="M231.2 103.8h0"/>
<path stroke="#CC77FF" d="M143.2 309.4h0M182.3 300.4h0"/>
<path stroke="#C4E6F4" d="M479.9 487.1h0"/>
<path stroke="#EE9099" d="M95.8 137.5h0"/>
<path stroke="#CC77FF" d="M119.1 303.4h0"/>
<path stroke="#CC5A35" d="M166.8 119.2h0"/>
<path stroke="#FFFAA0" d="M324.2 131.2h0"/>
<path stroke="#3A6CCB" d="M403.9 504.8h0"/>
<path stroke="#1E44BB" d="M343.8 108.9h0"/>
<path stroke="#B0307F" d="M288.4 94.4h0"/>
<path stroke="#EE9099" d="M54.0 133.2h0"/>
<path stroke="#80F5F0" d="M225.9 260.7h0"/>
<path stroke="#EE9099" d="M91.6 147.1h0"/>
<path stroke="#CC77FF" d="M123.3 282.9h0"/>
<path stroke="#80D8A0" d="M124.0 117.4h0"/>
<path stroke="#EE9099" d="M63.3 124.3h0"/>
<path stroke="#CC77FF" d="M77.2 308.4h0M118.6 296.1h0"/>
<path stroke="#EE9099" d="M89.0 141.6h0"/>
<path stroke="#CC5A35" d="M186.8 116.2h0"/>
<path stroke="#1E44BB" d="M340.0 114.4h0"/>
<path stroke="#C4E6F4" d="M488.3 483.4h0"/>
<path stroke="#1E44BB" d="M328.4 121.8h0"/>
<path stroke="#B0307F" d="M241.5 111.2h0"/>
<path stroke="#CC77FF" d="M83.0 295.4h0"/>
<path stroke="#EEB8EA" d="M169.2 93.5h0"/>
<path stroke="#80F5F0" d="M237.3 240.4h0"/>
<path stroke="#1E44BB" d="M281.2 119.1h0"/>
<path stroke="#3A6CCB" d="M391.6 498.2h0"/>
<path stroke="#FFFAA0" d="M284.7 124.7h0"/>
<path stroke="#EEB8EA" d="M186.1 94.3h0"/>
<path stroke="#8844DD" d="M172.0 255.2h0"/>
<path stroke="#1E44BB" d="M339.2 118.6h0"/>
<path stroke="#C4E6F4" d="M488.0 484.2h0"/>
<path stroke="#EE9099" d="M89.1 130.1h0"/>
<path stroke="#1E44BB" d="M336.2 120.6h0"/>
<path stroke="#CC77FF" d="M146.1 311.0h0M86.7 303.6h0"/>
<path stroke="#EE9099" d="M89.4 142.3h0"/>
<path stroke="#CC77FF" d="M162.9 287.3h0"/>
<path stroke="#FFFAA0" d="M293.1 124.4h0"/>
<path stroke="#3A6CCB" d="M408.5 512.9h0"/>
<path stroke="#CC5A35" d="M152.4 118.5h0"/>
<path stroke="#C4E6F4" d="M457.1 483.5h0"/>
<path stroke="#EE9099" d="M60.5 119.6h0"/>
<path stroke="#C4E6F4" d="M473.1 486.3h0"/>
<path stroke="#CC77FF" d="M149.6 298.0h0"/>
<path stroke="#CC5A35" d="M160.4 116.7h0"/>
<path stroke="#1E44BB" d="M286.5 107.0h0"/>
<path stroke="#CC77FF" d="M179.8 290.7h0"/>
<path stroke="#1E44BB" d="M310.0 115.6h0"/>
<path stroke="#EE9099" d="M90.4 119.5h0M99.2 132.5h0"/>
<path stroke="#EEB8EA" d="M169.8 91.8h0"/>
<path stroke="#CC77FF" d="M114.7 294.5h0M122.7 296.6h0"/>
<path stroke="#EEB8EA" d="M169.6 87.6h0"/>
<path stroke="#CC5A35" d="M188.4 126.1h0"/>
<path stroke="#1E44BB" d="M293.1 110.4h0"/>
<path stroke="#FFFAA0" d="M316.5 135.9h0"/>
<path stroke="#CC77FF" d="M128.8 299.5h0"/>
<path stroke="#80F5F0" d="M259.6 245.3h0"/>
<path stroke="#CC77FF" d="M129.2 312.6h0M149.1 304.7h0"/>
<path stroke="#B0307F" d="M240.1 84.3h0"/>
<path stroke="#3A6CCB" d="M435.0 506.0h0"/>
<path stroke="#1E44BB" d="M297.5 99.5h0M294.4 117.6h0"/>
<path stroke="#CC77FF" d="M135.2 293.1h0M128.0 308.0h0"/>
<path stroke="#1E44BB" d="M334.3 105.1h0"/>
<path stroke="#FF3370" d="M473.3 499.5h0"/>
<path stroke="#1E44BB" d="M266.7 123.4h0"/>
<path stroke="#CC77FF" d="M79.7 308.2h0"/>
<path stroke="#1E44BB" d="M315.9 128.5h0"/>
<path stroke="#EEB8EA" d="M155.4 101.7h0"/>
<path stroke="#EE9099" d="M45.2 119.4h0"/>
<path stroke="#CC77FF" d="M142.3 309.8h0"/>
<path stroke="#FFFAA0" d="M299.3 133.2h0"/>
<path stroke="#CC77FF" d="M99.5 307.9h0M100.5 300.5h0"/>
<path stroke="#1E44BB" d="M316.6 115.4h0"/>
<path stroke="#80F5F0" d="M230.4 255.9h0"/>
<path stroke="#CC77FF" d="M121.7 301.1h0"/>
<path stroke="#EEB8EA" d="M175.8 84.0h0"/>
<path stroke="#3A6CCB" d="M407.2 502.7h0"/>
<path stroke="#1E44BB" d="M318.0 126.3h0"/>
<path stroke="#8844DD" d="M157.0 277.2h0"/>
<path stroke="#33CC66" d="M100.4 136.2h0"/>
<path stroke="#CC77FF" d="M171.3 301.9h0"/>
<path stroke="#C4E6F4" d="M468.0 491.3h0"/>
<path stroke="#1E44BB" d="M281.7 128.2h0"/>
<path stroke="#EE9099" d="M61.1 139.4h0"/>
<path stroke="#EEB8EA" d="M188.5 109.2h0"/>
<path stroke="#3A6CCB" d="M437.8 510.6h0"/>
<path stroke="#CC77FF" d="M100.1 315.9h0M109.5 301.8h0"/>
<path stroke="#1E44BB" d="M329.6 139.4h0"/>
<path stroke="#FFFAA0" d="M334.6 134.1h0"/>
<path stroke="#3A6CCB" d="M406.1 511.3h0"/>
<path stroke="#B0307F" d="M284.2 97.1h0"/>
<path stroke="#CC77FF" d="M74.2 304.7h0"/>
<path stroke="#EE9099" d="M71.4 139.9h0"/>
<path stroke="#CC77FF" d="M121.2 287.8h0"/>
<path stroke="#B0307F" d="M223.7 118.4h0"/>
<path stroke="#CC77FF" d="M114.4 282.8h0"/>
<path stroke="#1E44BB" d="M350.0 126.8h0"/>
<path stroke="#CC77FF" d="M111.7 299.1h0"/>
<path stroke="#8844DD" d="M195.1 277.4h0"/>
<path stroke="#CC77FF" d="M180.2 298.8h0"/>
<path stroke="#FFFAA0" d="M263.3 127.0h0"/>
<path stroke="#80F5F0" d="M242.8 237.3h0"/>
<path stroke="#EE9099" d="M86.0 141.5h0"/>
<path stroke="#C4E6F4" d="M477.9 491.0h0"/>
<path stroke="#CC5A35" d="M138.4 122.8h0"/>
<path stroke="#8844DD" d="M162.2 275.1h0"/>
<path stroke="#CC77FF" d="M107.8 310.5h0"/>
<path stroke="#EE9099" d="M58.4 125.0h0"/>
<path stroke="#FFFAA0" d="M322.5 143.4h0"/>
<path stroke="#CC5A35" d="M188.2 123.4h0"/>
<path stroke="#EEB8EA" d="M175.2 102.3h0"/>
<path stroke="#EE9099" d="M55.3 115.6h0"/>
<path stroke="#CC77FF" d="M160.4 281.8h0"/>
<path stroke="#C4E6F4" d="M479.0 479.1h0"/>
<path stroke="#CC5A35" d="M165.0 123.4h0"/>
<path stroke="#80F5F0" d="M263.5 249.3h0"/>
<path stroke="#EEB8EA" d="M182.9 84.6h0"/>
<path stroke="#80D8A0" d="M134.9 112.0h0"/>
<path stroke="#EE9099" d="M60.8 116.1h0"/>
<path stroke="#1E44BB" d="M311.0 108.9h0"/>
<path stroke="#80F5F0" d="M252.1 241.5h0"/>
<path stroke="#33CC66" d="M100.4 144.8h0"/>
<path stroke="#8844DD" d="M170.7 269.1h0"/>
<path stroke="#80D8A0" d="M156.0 114.7h0"/>
<path stroke="#3A6CCB" d="M392.8 498.4h0"/>
<path stroke="#CC5A35" d="M158.3 129.5h0"/>
<path stroke="#B0307F" d="M301.0 101.0h0"/>
<path stroke="#CC77FF" d="M141.2 287.0h0"/>
<path stroke="#80F5F0" d="M226.8 249.5h0"/>
<path stroke="#B0307F" d="M228.3 98.8h0"/>
<path stroke="#8844DD" d="M158.4 277.9h0"/>
<path stroke="#FFFAA0" d="M354.8 127.7h0"/>
<path stroke="#1E44BB" d="M315.2 118.9h0"/>
<path stroke="#CC77FF" d="M111.1 298.3h0"/>
<path stroke="#C4E6F4" d="M468.2 481.1h0"/>
<path stroke="#3A6CCB" d="M397.5 503.3h0M404.4 499.5h0"/>
<path stroke="#1E44BB" d="M311.2 106.0h0M336.4 128.8h0"/>
<path stroke="#8844DD" d="M199.4 254.4h0"/>
<path stroke="#80F5F0" d="M256.8 257.4h0"/>
<path stroke="#CC77FF" d="M116.7 290.2h0"/>
<path stroke="#1E44BB" d="M313.6 109.0h0"/>
<path stroke="#CC77FF" d="M150.0 317.1h0"/>
<path stroke="#B0307F" d="M246.4 110.5h0"/>
<path stroke="#3A6CCB" d="M399.5 510.5h0"/>
<path stroke="#1E44BB" d="M314.8 98.8h0"/>
<path stroke="#8844DD" d="M165.3 273.6h0"/>
<path stroke="#CC77FF" d="M169.3 288.6h0"/>
<path stroke="#EEB8EA" d="M166.7 90.6h0"/>
<path stroke="#FFFAA0" d="M286.3 140.1h0"/>
<path stroke="#CC77FF" d="M127.8 318.9h0"/>
<path stroke="#B0307F" d="M260.7 87.4h0"/>
<path stroke="#CC77FF" d="M154.3 304.5h0"/>
<path stroke="#1E44BB" d="M294.4 126.2h0"/>
<path stroke="#B0307F" d="M264.6 107.2h0"/>
<path stroke="#EEB8EA" d="M195.3 86.1h0"/>
<path stroke="#EE9099" d="M50.2 115.2h0"/>
<path stroke="#80D8A0" d="M132.7 110.0h0"/>
<path stroke="#C4E6F4" d="M473.7 482.7h0"/>
<path stroke="#CC77FF" d="M95.4 293.6h0"/>
<path stroke="#EE9099" d="M89.7 135.5h0"/>
<path stroke="#8844DD" d="M176.9 271.5h0"/>
<path stroke="#B0307F" d="M285.0 91.3h0"/>
<path stroke="#80F5F0" d="M238.1 240.6h0"/>
<path stroke="#EEB8EA" d="M180.5 86.6h0"/>
<path stroke="#FFFAA0" d="M236.8 123.2h0M285.6 127.8h0"/>
<path stroke="#1E44BB" d="M277.7 114.2h0M291.9 111.4h0"/>
<path stroke="#FFFAA0" d="M330.1 135.6h0"/>
<path stroke="#8844DD" d="M148.4 279.7h0"/>
<path stroke="#1E44BB" d="M324.8 102.9h0"/>
<path stroke="#CC77FF" d="M120.9 320.3h0M150.5 296.8h0"/>
<path stroke="#EEB8EA" d="M173.8 96.6h0"/>
<path stroke="#CC77FF" d="M73.8 299.4h0"/>
<path stroke="#EE9099" d="M46.6 123.3h0"/>
<path stroke="#FFFAA0" d="M282.6 138.1h0"/>
<path stroke="#1E44BB" d="M315.3 120.4h0"/>
<path stroke="#3A6CCB" d="M412.6 506.0h0"/>
<path stroke="#EE9099" d="M99.7 137.1h0"/>
<path stroke="#3A6CCB" d="M401.0 499.9h0"/>
<path stroke="#CC5A35" d="M152.2 124.1h0"/>
<path stroke="#CC77FF" d="M138.2 313.8h0"/>
<path stroke="#EE9099" d="M72.6 135.7h0"/>
<path stroke="#8844DD" d="M166.7 273.4h0"/>
<path stroke="#CC77FF" d="M112.5 304.9h0"/>
<path stroke="#FFFAA0" d="M314.0 134.8h0"/>
<path stroke="#CC5A35" d="M162.6 129.1h0"/>
<path stroke="#C4E6F4" d="M487.1 480.7h0"/>
<path stroke="#1E44BB" d="M339.6 122.0h0"/>
<path stroke="#CC77FF" d="M112.4 316.7h0"/>
<path stroke="#1E44BB" d="M303.5 125.3h0"/>
<path stroke="#CC5A35" d="M172.4 128.3h0"/>
<path stroke="#CC77FF" d="M121.9 305.7h0"/>
<path stroke="#B0307F" d="M213.2 112.8h0"/>
<path stroke="#EEB8EA" d="M174.1 88.9h0"/>
<path stroke="#CC5A35" d="M168.6 114.4h0"/>
<path stroke="#1E44BB" d="M337.3 111.6h0"/>
<path stroke="#CC5A35" d="M175.5 116.1h0"/>
<path stroke="#B0307F" d="M247.9 96.7h0"/>
<path stroke="#EE9099" d="M57.0 132.7h0"/>
<path stroke="#CC77FF" d="M121.7 289.4h0"/>
<path stroke="#EE9099" d="M73.1 138.3h0"/>
<path stroke="#EEB8EA" d="M171.1 92.4h0"/>
<path stroke="#CC77FF" d="M126.7 299.0h0"/>
<path stroke="#8844DD" d="M227.1 264.7h0"/>
<path stroke="#CC77FF" d="M126.1 300.8h0"/>
<path stroke="#B0307F" d="M286.0 101.9h0"/>
<path stroke="#CC77FF" d="M176.5 304.4h0"/>
<path stroke="#8844DD" d="M133.3 294.1h0"/>
<path stroke="#EEB8EA" d="M176.0 105.9h0"/>
<path stroke="#3A6CCB" d="M420.9 513.4h0"/>
<path stroke="#B0307F" d="M287.3 102.1h0"/>
<path stroke="#1E44BB" d="M305.4 111.7h0"/>
<path stroke="#B0307F" d="M272.2 116.8h0"/>
<path stroke="#FFFAA0" d="M343.3 130.4h0"/>
<path stroke="#CC5A35" d="M190.2 120.5h0"/>
<path stroke="#EE9099" d="M48.5 116.7h0M72.7 126.0h0"/>
<path stroke="#FFFAA0" d="M328.3 134.6h0"/>
<path stroke="#CC77FF" d="M84.0 304.7h0"/>
<path stroke="#80F5F0" d="M222.3 258.9h0"/>
<path stroke="#3A6CCB" d="M415.0 498.1h0"/>
<path stroke="#80F5F0" d="M232.9 248.9h0"/>
<path stroke="#EE9099" d="M95.5 140.9h0"/>
<path stroke="#CC77FF" d="M164.9 312.5h0M174.6 305.5h0"/>
<path stroke="#EEB8EA" d="M184.3 106.8h0"/>
<path stroke="#1E44BB" d="M331.0 111.0h0"/>
<path stroke="#B0307F" d="M276.6 101.8h0"/>
<path stroke="#CC77FF" d="M86.1 304.1h0"/>
<path stroke="#EE9099" d="M75.8 150.5h0"/>
<path stroke="#FFFAA0" d="M289.0 123.9h0"/>
<path stroke="#1E44BB" d="M339.2 118.5h0"/>
<path stroke="#80F5F0" d="M238.8 262.8h0"/>
<path stroke="#80D8A0" d="M128.4 111.3h0"/>
<path stroke="#FFFAA0" d="M350.6 127.8h0"/>
<path stroke="#B0307F" d="M243.2 96.9h0"/>
<path stroke="#FFFAA0" d="M279.8 129.4h0"/>
<path stroke="#1E44BB" d="M325.7 125.2h0M340.8 125.7h0"/>
<path stroke="#C4E6F4" d="M470.3 480.8h0"/>
<path stroke="#80F5F0" d="M239.6 243.4h0"/>
<path stroke="#B0307F" d="M235.2 91.1h0"/>
<path stroke="#8844DD" d="M153.8 277.9h0"/>
<path stroke="#CC77FF" d="M128.1 315.2h0"/>
<path stroke="#EE9099" d="M68.6 115.7h0"/>
<path stroke="#CC77FF" d="M83.1 302.0h0"/>
<path stroke="#3A6CCB" d="M388.6 501.0h0"/>
<path stroke="#8844DD" d="M189.4 277.0h0"/>
<path stroke="#CC77FF" d="M189.1 306.8h0M100.8 299.3h0"/>
<path stroke="#1E44BB" d="M250.7 125.4h0"/>
<path stroke="#EE9099" d="M87.4 131.3h0"/>
<path stroke="#CC77FF" d="M109.1 307.3h0M124.9 316.1h0"/>
<path stroke="#EEB8EA" d="M160.0 94.3h0"/>
<path stroke="#1E44BB" d="M345.8 128.1h0"/>
<path stroke="#EE9099" d="M60.7 123.4h0"/>
<path stroke="#CC77FF" d="M134.8 297.8h0"/>
<path stroke="#1E44BB" d="M311.4 131.6h0"/>
<path stroke="#3A6CCB" d="M392.8 506.4h0"/>
<path stroke="#80F5F0" d="M267.9 252.9h0"/>
<path stroke="#EE9099" d="M72.5 147.7h0"/>
<path stroke="#8844DD" d="M193.8 278.2h0"/>
<path stroke="#C4E6F4" d="M462.9 488.9h0"/>
<path stroke="#FF3370" d="M457.1 500.0h0"/>
<path stroke="#CC77FF" d="M97.1 308.0h0M103.2 304.5h0"/>
<path stroke="#EE9099" d="M44.9 139.1h0"/>
<path stroke="#CC5A35" d="M165.9 123.7h0"/>
<path stroke="#3A6CCB" d="M424.1 498.2h0"/>
<path stroke="#B0307F" d="M247.3 91.4h0"/>
<path stroke="#1E44BB" d="M275.9 121.8h0"/>
<path stroke="#3A6CCB" d="M396.2 507.9h0"/>
<path stroke="#C4E6F4" d="M490.8 482.3h0"/>
<path stroke="#B0307F" d="M243.7 98.3h0"/>
<path stroke="#EEB8EA" d="M194.8 93.6h0"/>
<path stroke="#FFFAA0" d="M357.3 124.9h0"/>
<path stroke="#CC77FF" d="M119.0 324.4h0"/>
<path stroke="#1E44BB" d="M276.0 104.1h0"/>
<path stroke="#EEB8EA" d="M193.9 98.9h0"/>
<path stroke="#1E44BB" d="M315.1 118.8h0"/>
<path stroke="#EE9099" d="M90.5 142.7h0"/>
<path stroke="#1E44BB" d="M343.4 125.3h0"/>
<path stroke="#EEB8EA" d="M184.2 91.1h0"/>
<path stroke="#CC77FF" d="M106.0 291.4h0"/>
<path stroke="#EE9099" d="M55.8 142.9h0"/>
<path stroke="#B0307F" d="M262.8 97.1h0"/>
<path stroke="#CC77FF" d="M129.9 302.2h0"/>
<path stroke="#B0307F" d="M221.5 101.5h0"/>
<path stroke="#CC5A35" d="M130.0 123.4h0"/>
<path stroke="#80F5F0" d="M231.1 257.0h0"/>
<path stroke="#FFFAA0" d="M350.9 128.0h0"/>
<path stroke="#EEB8EA" d="M167.8 92.7h0"/>
<path stroke="#C4E6F4" d="M465.1 498.5h0"/>
<path stroke="#EEB8EA" d="M160.9 104.6h0"/>
<path stroke="#CC77FF" d="M138.9 294.1h0"/>
<path stroke="#FFFAA0" d="M286.0 136.9h0"/>
<path stroke="#3A6CCB" d="M432.7 506.9h0"/>
<path stroke="#FFFAA0" d="M295.4 133.5h0M315.9 137.2h0"/>
<path stroke="#1E44BB" d="M356.9 116.1h0"/>
<path stroke="#8844DD" d="M161.0 263.4h0"/>
<path stroke="#CC5A35" d="M172.7 117.5h0"/>
<path stroke="#EEB8EA" d="M179.2 98.0h0"/>
<path stroke="#CC77FF" d="M118.8 302.6h0"/>
<path stroke="#EE9099" d="M83.2 119.3h0"/>
<path stroke="#1E44BB" d="M332.2 124.9h0"/>
<path stroke="#80F5F0" d="M236.0 254.0h0"/>
<path stroke="#1E44BB" d="M300.0 115.2h0"/>
<path stroke="#8844DD" d="M163.2 266.6h0"/>
<path stroke="#3A6CCB" d="M434.0 500.1h0"/>
<path stroke="#FF3370" d="M476.5 496.5h0"/>
<path stroke="#B0307F" d="M274.4 109.6h0"/>
<path stroke="#CC77FF" d="M109.5 286.1h0"/>
<path stroke="#B0307F" d="M256.2 101.8h0"/>
<path stroke="#CC5A35" d="M160.3 125.2h0"/>
<path stroke="#CC77FF" d="M135.7 302.0h0"/>
<path stroke="#1E44BB" d="M295.0 122.6h0M297.2 123.7h0"/>
<path stroke="#FFFAA0" d="M354.8 133.8h0"/>
<path stroke="#B0307F" d="M246.8 94.3h0"/>
<path stroke="#EE9099" d="M86.8 138.3h0"/>
<path stroke="#CC77FF" d="M180.7 285.5h0"/>
<path stroke="#B0307F" d="M274.0 106.2h0"/>
<path stroke="#80F5F0" d="M243.2 241.0h0"/>
<path stroke="#EE9099" d="M66.7 131.2h0"/>
<path stroke="#CC5A35" d="M145.6 124.4h0"/>
<path stroke="#EE9099" d="M45.6 118.2h0"/>
<path stroke="#80D8A0" d="M163.2 113.7h0"/>
<path stroke="#C4E6F4" d="M459.7 489.0h0"/>
<path stroke="#B0307F" d="M240.8 105.7h0"/>
<path stroke="#CC77FF" d="M93.5 295.5h0"/>
<path stroke="#B0307F" d="M275.0 103.9h0"/>
<path stroke="#1E44BB" d="M322.3 129.4h0"/>
<path stroke="#CC77FF" d="M139.5 287.0h0"/>
<path stroke="#80F5F0" d="M225.2 260.1h0"/>
<path stroke="#FFFAA0" d="M332.3 140.6h0"/>
<path stroke="#EE9099" d="M81.9 114.3h0"/>
<path stroke="#80F5F0" d="M244.6 246.3h0"/>
<path stroke="#CC77FF" d="M76.9 309.9h0"/>
<path stroke="#B0307F" d="M237.2 74.5h0"/>
<path stroke="#EE9099" d="M76.0 115.6h0"/>
<path stroke="#3A6CCB" d="M397.9 496.1h0"/>
<path stroke="#CC77FF" d="M161.7 287.7h0M125.6 317.3h0"/>
<path stroke="#3A6CCB" d="M440.0 504.8h0"/>
<path stroke="#1E44BB" d="M296.9 110.8h0M302.6 131.4h0M315.7 133.8h0"/>
<path stroke="#EE9099" d="M65.2 127.4h0"/>
<path stroke="#CC77FF" d="M135.3 312.0h0"/>
<path stroke="#8844DD" d="M144.5 284.0h0"/>
<path stroke="#CC77FF" d="M128.5 294.2h0"/>
<path stroke="#1E44BB" d="M299.4 99.2h0"/>
<path stroke="#80F5F0" d="M245.1 254.4h0M221.6 261.7h0M246.7 251.1h0"/>
<path stroke="#CC77FF" d="M76.0 307.1h0"/>
<path stroke="#80F5F0" d="M243.2 261.2h0"/>
<path stroke="#CC77FF" d="M175.8 290.0h0"/>
<path stroke="#3A6CCB" d="M399.9 503.0h0"/>
<path stroke="#CC5A35" d="M150.8 125.1h0"/>
<path stroke="#EE9099" d="M96.3 145.0h0"/>
<path stroke="#1E44BB" d="M315.3 122.1h0"/>
<path stroke="#80F5F0" d="M234.3 249.0h0"/>
<path stroke="#1E44BB" d="M293.7 123.7h0M291.9 117.6h0"/>
<path stroke="#EE9099" d="M76.0 128.3h0"/>
<path stroke="#1E44BB" d="M323.4 131.5h0M344.4 107.6h0"/>
<path stroke="#CC77FF" d="M126.7 315.2h0"/>
<path stroke="#CC5A35" d="M162.4 114.9h0"/>
<path stroke="#B0307F" d="M232.3 94.1h0"/>
<path stroke="#CC5A35" d="M177.4 115.8h0"/>
<path stroke="#CC77FF" d="M147.2 318.8h0"/>
<path stroke="#B0307F" d="M268.0 102.9h0"/>
<path stroke="#EE9099" d="M60.0 127.8h0"/>
<path stroke="#3A6CCB" d="M399.4 501.5h0"/>
<path stroke="#EE9099" d="M63.5 129.9h0M73.2 138.5h0"/>
<path stroke="#3A6CCB" d="M430.4 502.1h0"/>
<path stroke="#CC77FF" d="M97.5 308.4h0"/>
<path stroke="#1E44BB" d="M328.7 130.3h0"/>
<path stroke="#B0307F" d="M276.0 88.9h0"/>
<path stroke="#CC77FF" d="M169.7 291.0h0"/>
<path stroke="#1E44BB" d="M299.0 110.9h0"/>
<path stroke="#B0307F" d="M222.2 86.7h0"/>
<path stroke="#EEB8EA" d="M160.0 101.0h0"/>
<path stroke="#1E44BB" d="M331.4 128.1h0"/>
<path stroke="#EEB8EA" d="M161.4 99.4h0"/>
<path stroke="#CC77FF" d="M165.6 300.7h0"/>
<path stroke="#EEB8EA" d="M171.3 98.5h0"/>
<path stroke="#B0307F" d="M244.9 101.5h0"/>
<path stroke="#1E44BB" d="M264.4 121.8h0"/>
<path stroke="#CC77FF" d="M94.3 301.1h0"/>
<path stroke="#EE9099" d="M72.8 117.4h0"/>
<path stroke="#1E44BB" d="M338.6 116.3h0"/>
<path stroke="#3A6CCB" d="M402.4 509.4h0"/>
<path stroke="#EE9099" d="M73.5 136.4h0"/>
<path stroke="#FFFAA0" d="M277.4 132.7h0"/>
<path stroke="#EEB8EA" d="M199.0 89.2h0M168.9 86.3h0"/>
<path stroke="#EE9099" d="M90.6 121.3h0"/>
<path stroke="#80D8A0" d="M119.5 114.1h0"/>
<path stroke="#B0307F" d="M250.3 96.8h0M219.9 111.7h0"/>
<path stroke="#EE9099" d="M84.2 124.0h0"/>
<path stroke="#CC77FF" d="M151.5 306.7h0M107.6 322.6h0"/>
<path stroke="#EEB8EA" d="M194.9 93.7h0"/>
<path stroke="#EE9099" d="M76.1 149.3h0"/>
<path stroke="#8844DD" d="M184.9 270.5h0"/>
<path stroke="#1E44BB" d="M351.3 122.2h0"/>
<path stroke="#B0307F" d="M275.7 89.6h0"/>
<path stroke="#EE9099" d="M62.0 138.5h0"/>
<path stroke="#8844DD" d="M167.0 266.5h0"/>
<path stroke="#1E44BB" d="M288.4 111.4h0"/>
<path stroke="#CC5A35" d="M170.8 118.3h0"/>
<path stroke="#B0307F" d="M265.8 90.7h0"/>
<path stroke="#80D8A0" d="M134.5 115.5h0"/>
<path stroke="#8844DD" d="M161.6 279.4h0"/>
<path stroke="#FFFAA0" d="M325.2 131.6h0"/>
<path stroke="#EE9099" d="M99.2 138.3h0"/>
<path stroke="#CC5A35" d="M188.2 114.5h0"/>
<path stroke="#3A6CCB" d="M422.2 511.5h0"/>
<path stroke="#CC77FF" d="M180.8 290.1h0M104.2 299.5h0"/>
<path stroke="#EE9099" d="M82.8 133.0h0M94.9 123.9h0M82.5 120.0h0"/>
<path stroke="#1E44BB" d="M303.6 111.7h0"/>
<path stroke="#CC5A35" d="M177.8 126.3h0"/>
<path stroke="#8844DD" d="M162.6 273.0h0"/>
<path stroke="#CC77FF" d="M140.9 288.6h0M91.3 310.5h0M112.2 317.8h0"/>
<path stroke="#80F5F0" d="M236.8 264.1h0"/>
<path stroke="#EE9099" d="M49.3 129.5h0"/>
<path stroke="#CC77FF" d="M181.2 288.6h0M89.7 300.1h0"/>
<path stroke="#B0307F" d="M239.4 112.5h0"/>
<path stroke="#C4E6F4" d="M469.3 488.0h0"/>
<path stroke="#EE9099" d="M73.2 113.7h0"/>
<path stroke="#CC77FF" d="M132.6 303.6h0"/>
<path stroke="#3A6CCB" d="M403.6 505.9h0"/>
<path stroke="#CC77FF" d="M94.6 288.5h0"/>
<path stroke="#EEB8EA" d="M171.2 97.1h0"/>
<path stroke="#CC77FF" d="M171.1 285.4h0M170.0 287.0h0"/>
<path stroke="#CC5A35" d="M175.5 126.0h0"/>
<path stroke="#3A6CCB" d="M415.6 514.3h0"/>
<path stroke="#8844DD" d="M169.8 259.6h0"/>
<path stroke="#80F5F0" d="M261.2 257.4h0"/>
<path stroke="#80D8A0" d="M140.2 109.6h0M136.4 112.6h0"/>
<path stroke="#C4E6F4" d="M445.4 492.3h0"/>
<path stroke="#CC77FF" d="M136.2 310.1h0M147.6 317.7h0"/>
<path stroke="#EEB8EA" d="M157.4 95.3h0"/>
<path stroke="#80D8A0" d="M127.6 112.5h0"/>
<path stroke="#B0307F" d="M229.0 106.5h0"/>
<path stroke="#EE9099" d="M79.2 150.4h0M62.8 113.7h0"/>
<path stroke="#1E44BB" d="M339.5 121.3h0"/>
<path stroke="#CC77FF" d="M101.2 286.2h0"/>
<path stroke="#B0307F" d="M257.3 94.7h0"/>
<path stroke="#8844DD" d="M216.7 251.5h0"/>
<path stroke="#80F5F0" d="M247.7 248.0h0"/>
<path stroke="#8844DD" d="M147.8 274.4h0"/>
<path stroke="#1E44BB" d="M291.8 101.7h0"/>
<path stroke="#EE9099" d="M79.6 147.7h0"/>
<path stroke="#8844DD" d="M164.3 280.8h0"/>
<path stroke="#80F5F0" d="M247.6 246.9h0"/>
<path stroke="#CC77FF" d="M129.8 292.2h0M120.0 296.6h0"/>
<path stroke="#EE9099" d="M45.0 137.0h0"/>
<path stroke="#CC5A35" d="M172.3 123.3h0"/>
<path stroke="#EEB8EA" d="M204.4 101.8h0"/>
<path stroke="#80F5F0" d="M232.9 241.0h0"/>
<path stroke="#1E44BB" d="M302.0 117.5h0"/>
<path stroke="#EEB8EA" d="M150.1 99.2h0"/>
<path stroke="#80D8A0" d="M104.8 114.0h0M134.6 114.6h0"/>
<path stroke="#1E44BB" d="M313.6 125.3h0"/>
<path stroke="#CC77FF" d="M126.0 292.9h0"/>
<path stroke="#CC5A35" d="M167.4 117.5h0"/>
<path stroke="#B0307F" d="M266.9 101.7h0M262.4 84.4h0"/>
<path stroke="#CC77FF" d="M108.9 313.7h0"/>
<path stroke="#EE9099" d="M93.0 125.6h0"/>
<path stroke="#8844DD" d="M190.3 270.6h0"/>
<path stroke="#3A6CCB" d="M396.0 510.3h0"/>
<path stroke="#1E44BB" d="M324.0 105.3h0"/>
<path stroke="#3A6CCB" d="M391.1 506.2h0"/>
<path stroke="#80F5F0" d="M231.5 254.8h0"/>
<path stroke="#B0307F" d="M254.8 96.7h0"/>
<path stroke="#33CC66" d="M87.4 136.2h0"/>
<path stroke="#EE9099" d="M67.9 127.2h0"/>
<path stroke="#CC77FF" d="M90.2 308.2h0"/>
<path stroke="#1E44BB" d="M330.1 115.7h0"/>
<path stroke="#CC5A35" d="M153.2 119.8h0"/>
<path stroke="#CC77FF" d="M115.0 300.9h0"/>
<path stroke="#FFFAA0" d="M347.0 133.9h0"/>
<path stroke="#C4E6F4" d="M456.5 487.7h0"/>
<path stroke="#CC77FF" d="M175.3 283.7h0M105.6 302.4h0"/>
<path stroke="#FFFAA0" d="M298.4 142.6h0"/>
<path stroke="#CC5A35" d="M177.8 127.9h0"/>
<path stroke="#B0307F" d="M288.1 95.9h0"/>
<path stroke="#EEB8EA" d="M149.0 98.3h0"/>
<path stroke="#B0307F" d="M281.1 86.7h0"/>
<path stroke="#3A6CCB" d="M404.2 502.0h0"/>
<path stroke="#1E44BB" d="M325.1 113.8h0"/>
<path stroke="#B0307F" d="M229.7 103.6h0"/>
<path stroke="#80D8A0" d="M117.2 119.5h0"/>
<path stroke="#1E44BB" d="M262.7 119.2h0"/>
<path stroke="#80F5F0" d="M247.3 253.6h0"/>
<path stroke="#1E44BB" d="M317.3 102.2h0"/>
<path stroke="#EE9099" d="M56.7 114.7h0"/>
<path stroke="#FFFAA0" d="M330.8 134.4h0"/>
<path stroke="#EE9099" d="M67.8 110.6h0"/>
<path stroke="#B0307F" d="M236.3 95.0h0"/>
<path stroke="#CC77FF" d="M166.9 299.4h0"/>
<path stroke="#3A6CCB" d="M407.9 507.4h0"/>
<path stroke="#CC77FF" d="M164.4 291.2h0"/>
<path stroke="#3A6CCB" d="M409.9 496.4h0"/>
<path stroke="#EE9099" d="M68.3 140.9h0"/>
<path stroke="#CC77FF" d="M86.3 305.5h0"/>
<path stroke="#80D8A0" d="M115.6 117.5h0"/>
<path stroke="#3A6CCB" d="M435.4 509.2h0"/>
<path stroke="#CC77FF" d="M147.3 300.9h0"/>
<path stroke="#8844DD" d="M175.0 287.0h0"/>
<path stroke="#B0307F" d="M245.1 82.6h0"/>
<path stroke="#CC77FF" d="M145.1 316.3h0"/>
<path stroke="#B0307F" d="M280.0 104.0h0"/>
<path stroke="#80D8A0" d="M127.8 117.3h0"/>
<path stroke="#CC77FF" d="M114.3 306.0h0"/>
<path stroke="#C4E6F4" d="M458.0 488.6h0"/>
<path stroke="#80F5F0" d="M231.3 240.6h0M246.8 258.8h0"/>
<path stroke="#EE9099" d="M74.9 139.8h0"/>
<path stroke="#8844DD" d="M176.2 257.8h0"/>
<path stroke="#B0307F" d="M215.8 108.6h0M234.4 90.4h0"/>
<path stroke="#1E44BB" d="M348.4 110.9h0M333.7 126.4h0"/>
<path stroke="#CC5A35" d="M181.8 127.2h0"/>
<path stroke="#1E44BB" d="M309.9 118.8h0"/>
<path stroke="#EE9099" d="M45.6 117.5h0"/>
<path stroke="#CC77FF" d="M146.4 317.1h0"/>
<path stroke="#3A6CCB" d="M414.7 508.0h0"/>
<path stroke="#EEB8EA" d="M168.3 86.6h0"/>
<path stroke="#CC77FF" d="M105.7 307.4h0M107.5 292.5h0"/>
<path stroke="#80F5F0" d="M239.7 255.7h0"/>
<path stroke="#80D8A0" d="M150.0 120.0h0"/>
<path stroke="#80F5F0" d="M225.7 256.8h0"/>
<path stroke="#8844DD" d="M182.1 273.1h0"/>
<path stroke="#1E44BB" d="M322.6 115.4h0"/>
<path stroke="#CC77FF" d="M154.2 298.8h0"/>
<path stroke="#EEB8EA" d="M191.1 88.0h0"/>
<path stroke="#FFFAA0" d="M319.9 140.2h0"/>
<path stroke="#3A6CCB" d="M408.1 505.3h0"/>
<path stroke="#CC77FF" d="M132.0 318.1h0"/>
<path stroke="#B0307F" d="M215.3 101.9h0"/>
<path stroke="#CC77FF" d="M140.1 310.2h0"/>
<path stroke="#EEB8EA" d="M188.2 96.3h0"/>
<path stroke="#B0307F" d="M243.8 85.2h0"/>
<path stroke="#1E44BB" d="M293.3 104.3h0"/>
<path stroke="#CC77FF" d="M148.6 284.5h0"/>
<path stroke="#8844DD" d="M178.0 262.0h0"/>
<path stroke="#1E44BB" d="M314.6 107.2h0M319.6 108.8h0"/>
<path stroke="#B0307F" d="M268.3 109.8h0"/>
<path stroke="#EEB8EA" d="M198.4 92.2h0"/>
<path stroke="#3A6CCB" d="M396.5 497.6h0"/>
<path stroke="#EEB8EA" d="M169.9 100.3h0"/>
<path stroke="#CC77FF" d="M173.6 291.1h0"/>
<path stroke="#C4E6F4" d="M447.4 488.7h0"/>
<path stroke="#CC77FF" d="M106.7 318.2h0"/>
<path stroke="#1E44BB" d="M320.3 130.3h0"/>
<path stroke="#CC77FF" d="M181.0 287.7h0"/>
<path stroke="#8844DD" d="M166.4 257.7h0"/>
<path stroke="#80D8A0" d="M130.5 115.9h0"/>
<path stroke="#FFFAA0" d="M296.6 140.5h0"/>
<path stroke="#80F5F0" d="M261.2 255.8h0"/>
<path stroke="#FFFAA0" d="M350.7 135.6h0"/>
<path stroke="#CC77FF" d="M136.0 302.9h0M137.4 293.2h0"/>
<path stroke="#1E44BB" d="M313.4 110.5h0M329.8 111.7h0M352.0 114.4h0"/>
<path stroke="#8844DD" d="M155.7 274.8h0"/>
<path stroke="#CC77FF" d="M153.7 299.7h0"/>
<path stroke="#80F5F0" d="M224.1 265.0h0"/>
<path stroke="#1E44BB" d="M294.9 119.4h0M342.1 119.3h0"/>
<path stroke="#EEB8EA" d="M200.0 92.8h0"/>
<path stroke="#CC77FF" d="M187.6 297.5h0"/>
<path stroke="#1E44BB" d="M360.1 114.9h0"/>
<path stroke="#CC77FF" d="M183.1 300.2h0"/>
<path stroke="#8844DD" d="M173.0 256.8h0"/>
<path stroke="#B0307F" d="M298.0 92.0h0"/>
<path stroke="#1E44BB" d="M334.6 125.2h0"/>
<path stroke="#EE9099" d="M49.9 126.1h0"/>
<path stroke="#B0307F" d="M250.6 79.3h0"/>
<path stroke="#CC77FF" d="M135.5 303.2h0"/>
<path stroke="#B0307F" d="M216.6 109.4h0"/>
<path stroke="#C4E6F4" d="M483.8 475.8h0"/>
<path stroke="#CC77FF" d="M107.6 317.8h0"/>
<path stroke="#C4E6F4" d="M473.4 488.0h0"/>
<path stroke="#1E44BB" d="M325.7 126.9h0"/>
<path stroke="#CC77FF" d="M119.9 294.6h0"/>
<path stroke="#1E44BB" d="M308.5 121.5h0"/>
<path stroke="#80F5F0" d="M258.4 253.7h0"/>
<path stroke="#CC77FF" d="M121.5 311.6h0"/>
<path stroke="#EE9099" d="M58.7 131.5h0"/>
<path stroke="#1E44BB" d="M294.2 125.5h0"/>
<path stroke="#EEB8EA" d="M194.6 102.0h0"/>
<path stroke="#1E44BB" d="M299.6 110.6h0"/>
<path stroke="#80F5F0" d="M234.9 261.0h0"/>
<path stroke="#CC77FF" d="M102.0 304.2h0"/>
<path stroke="#80F5F0" d="M242.5 266.3h0"/>
<path stroke="#1E44BB" d="M291.8 131.5h0"/>
<path stroke="#B0307F" d="M275.4 88.2h0"/>
<path stroke="#EEB8EA" d="M186.8 97.1h0"/>
<path stroke="#3A6CCB" d="M411.4 510.6h0"/>
<path stroke="#CC5A35" d="M187.0 119.7h0"/>
<path stroke="#8844DD" d="M212.4 260.2h0"/>
<path stroke="#80D8A0" d="M137.6 119.1h0"/>
<path stroke="#EE9099" d="M61.1 147.9h0"/>
<path stroke="#B0307F" d="M268.3 98.8h0"/>
<path stroke="#80F5F0" d="M245.8 256.9h0"/>
<path stroke="#CC77FF" d="M145.8 296.0h0"/>
<path stroke="#8844DD" d="M150.2 281.1h0"/>
<path stroke="#C4E6F4" d="M486.1 480.0h0"/>
<path stroke="#CC77FF" d="M109.5 299.4h0"/>
<path stroke="#EEB8EA" d="M169.7 84.7h0"/>
<path stroke="#C4E6F4" d="M478.7 488.2h0"/>
<path stroke="#CC77FF" d="M100.2 318.6h0"/>
<path stroke="#1E44BB" d="M334.1 116.8h0"/>
<path stroke="#80F5F0" d="M237.9 267.1h0"/>
<path stroke="#CC77FF" d="M121.9 302.4h0"/>
<path stroke="#33CC66" d="M91.8 116.7h0"/>
<path stroke="#80F5F0" d="M223.3 254.9h0"/>
<path stroke="#3A6CCB" d="M418.5 508.5h0"/>
<path stroke="#EE9099" d="M49.8 130.2h0"/>
<path stroke="#FFFAA0" d="M295.3 141.4h0"/>
<path stroke="#EEB8EA" d="M190.0 86.6h0"/>
<path stroke="#CC77FF" d="M137.1 289.2h0"/>
<path stroke="#FFFAA0" d="M287.3 128.2h0"/>
<path stroke="#B0307F" d="M248.1 102.6h0"/>
<path stroke="#CC5A35" d="M170.6 114.2h0"/>
<path stroke="#CC77FF" d="M131.5 298.5h0"/>
<path stroke="#EEB8EA" d="M189.3 85.7h0"/>
<path stroke="#CC77FF" d="M123.9 316.2h0"/>
<path stroke="#3A6CCB" d="M440.0 508.0h0M423.6 497.8h0"/>
<path stroke="#EEB8EA" d="M195.0 78.8h0"/>
<path stroke="#B0307F" d="M216.5 99.7h0"/>
<path stroke="#CC77FF" d="M164.4 272.7h0"/>
<path stroke="#FFFAA0" d="M318.6 136.0h0"/>
<path stroke="#B0307F" d="M201.9 98.8h0"/>
<path stroke="#CC77FF" d="M108.5 321.4h0"/>
<path stroke="#80F5F0" d="M240.1 268.3h0"/>
<path stroke="#EEB8EA" d="M169.6 95.7h0"/>
<path stroke="#CC77FF" d="M122.2 307.1h0M91.3 302.2h0"/>
<path stroke="#B0307F" d="M253.3 100.7h0"/>
<path stroke="#EEB8EA" d="M176.9 94.2h0"/>
<path stroke="#80F5F0" d="M237.7 239.3h0"/>
<path stroke="#1E44BB" d="M296.3 109.6h0"/>
<path stroke="#EEB8EA" d="M180.5 91.8h0"/>
<path stroke="#EE9099" d="M95.9 129.9h0"/>
<path stroke="#8844DD" d="M178.5 258.4h0"/>
<path stroke="#B0307F" d="M263.8 109.8h0"/>
<path stroke="#1E44BB" d="M271.8 106.7h0"/>
<path stroke="#CC5A35" d="M172.9 124.1h0"/>
<path stroke="#3A6CCB" d="M415.8 511.6h0"/>
<path stroke="#FFFAA0" d="M349.2 136.9h0"/>
<path stroke="#CC77FF" d="M166.5 290.8h0"/>
<path stroke="#FFFAA0" d="M335.3 132.1h0"/>
<path stroke="#3A6CCB" d="M409.8 511.9h0M426.2 501.0h0"/>
<path stroke="#CC77FF" d="M82.5 311.6h0"/>
<path stroke="#1E44BB" d="M341.6 114.8h0"/>
<path stroke="#CC77FF" d="M141.6 294.2h0"/>
<path stroke="#1E44BB" d="M300.9 130.3h0M299.4 108.4h0"/>
<path stroke="#CC5A35" d="M151.7 128.8h0"/>
<path stroke="#EE9099" d="M87.5 127.0h0"/>
<path stroke="#FFFAA0" d="M289.8 133.6h0"/>
<path stroke="#CC77FF" d="M139.9 312.8h0"/>
<path stroke="#B0307F" d="M240.4 93.6h0"/>
<path stroke="#CC77FF" d="M95.0 305.1h0"/>
<path stroke="#EEB8EA" d="M196.0 103.4h0"/>
<path stroke="#1E44BB" d="M255.7 124.1h0"/>
<path stroke="#CC77FF" d="M155.0 306.7h0"/>
<path stroke="#80F5F0" d="M230.1 253.4h0"/>
<path stroke="#B0307F" d="M232.5 99.9h0"/>
<path stroke="#3A6CCB" d="M396.3 503.8h0"/>
<path stroke="#80F5F0" d="M251.2 262.4h0"/>
<path stroke="#B0307F" d="M211.9 99.3h0"/>
<path stroke="#CC77FF" d="M90.5 319.3h0"/>
<path stroke="#CC5A35" d="M161.0 119.9h0"/>
<path stroke="#EEB8EA" d="M164.2 91.2h0"/>
<path stroke="#EE9099" d="M81.9 112.9h0"/>
<path stroke="#FFFAA0" d="M286.6 141.4h0"/>
<path stroke="#EEB8EA" d="M180.3 100.3h0"/>
<path stroke="#3A6CCB" d="M427.0 509.8h0"/>
<path stroke="#B0307F" d="M211.2 88.7h0"/>
<path stroke="#C4E6F4" d="M484.7 482.1h0"/>
<path stroke="#FFFAA0" d="M307.5 134.5h0M279.6 128.5h0"/>
<path stroke="#EE9099" d="M63.4 117.8h0"/>
<path stroke="#CC77FF" d="M144.5 275.0h0"/>
<path stroke="#3A6CCB" d="M399.8 508.9h0"/>
<path stroke="#CC77FF" d="M103.9 311.7h0"/>
<path stroke="#EEB8EA" d="M196.9 80.2h0"/>
<path stroke="#B0307F" d="M222.4 118.5h0"/>
<path stroke="#8844DD" d="M167.0 266.0h0"/>
<path stroke="#3A6CCB" d="M411.8 513.0h0"/>
<path stroke="#CC77FF" d="M113.8 323.5h0"/>
<path stroke="#C4E6F4" d="M468.1 495.6h0"/>
<path stroke="#FF3370" d="M454.5 495.2h0"/>
<path stroke="#EEB8EA" d="M167.6 104.3h0"/>
<path stroke="#EE9099" d="M41.9 124.1h0"/>
<path stroke="#1E44BB" d="M315.9 112.3h0"/>
<path stroke="#EEB8EA" d="M179.7 85.6h0"/>
<path stroke="#EE9099" d="M72.4 142.7h0"/>
<path stroke="#1E44BB" d="M276.9 115.6h0"/>
<path stroke="#B0307F" d="M219.3 108.3h0"/>
<path stroke="#1E44BB" d="M330.5 119.5h0M299.0 123.2h0"/>
<path stroke="#CC5A35" d="M173.0 126.3h0"/>
<path stroke="#CC77FF" d="M175.4 308.8h0"/>
<path stroke="#FFFAA0" d="M284.6 124.1h0"/>
<path stroke="#CC77FF" d="M126.7 285.0h0"/>
<path stroke="#1E44BB" d="M319.9 116.2h0"/>
<path stroke="#FFFAA0" d="M287.3 132.4h0"/>
<path stroke="#3A6CCB" d="M401.1 512.5h0"/>
<path stroke="#CC77FF" d="M129.8 316.2h0M161.8 293.5h0"/>
<path stroke="#CC5A35" d="M176.3 118.7h0"/>
<path stroke="#CC77FF" d="M172.6 295.1h0"/>
<path stroke="#1E44BB" d="M245.4 118.0h0"/>
<path stroke="#8844DD" d="M178.5 271.2h0"/>
<path stroke="#CC77FF" d="M159.1 306.0h0"/>
<path stroke="#EE9099" d="M42.7 117.3h0"/>
<path stroke="#FFFAA0" d="M331.5 141.5h0"/>
<path stroke="#1E44BB" d="M247.9 122.8h0"/>
<path stroke="#3A6CCB" d="M441.0 499.3h0"/>
<path stroke="#FF3370" d="M477.9 497.2h0"/>
<path stroke="#1E44BB" d="M237.7 116.1h0"/>
<path stroke="#CC5A35" d="M151.9 129.1h0"/>
<path stroke="#33CC66" d="M95.0 131.8h0"/>
<path stroke="#FFFAA0" d="M315.2 131.4h0"/>
<path stroke="#B0307F" d="M220.7 104.6h0"/>
<path stroke="#CC77FF" d="M122.5 320.8h0M112.3 320.6h0"/>
<path stroke="#1E44BB" d="M346.0 114.1h0"/>
<path stroke="#CC77FF" d="M164.6 309.7h0"/>
<path stroke="#FFFAA0" d="M279.7 133.1h0"/>
<path stroke="#8844DD" d="M191.9 268.1h0"/>
<path stroke="#80F5F0" d="M245.7 259.3h0"/>
<path stroke="#1E44BB" d="M305.8 112.6h0"/>
<path stroke="#80F5F0" d="M255.6 252.6h0"/>
<path stroke="#3A6CCB" d="M395.7 507.2h0"/>
<path stroke="#1E44BB" d="M292.5 105.3h0"/>
<path stroke="#FFFAA0" d="M336.3 133.1h0"/>
<path stroke="#B0307F" d="M220.9 94.7h0"/>
<path stroke="#FFFAA0" d="M341.3 139.1h0M285.4 128.4h0M283.6 123.2h0"/>
<path stroke="#CC5A35" d="M161.4 128.5h0"/>
<path stroke="#CC77FF" d="M137.9 298.1h0"/>
<path stroke="#EEB8EA" d="M152.8 92.5h0"/>
<path stroke="#1E44BB" d="M336.9 115.5h0"/>
<path stroke="#8844DD" d="M171.4 266.9h0"/>
<path stroke="#EE9099" d="M81.9 122.0h0"/>
<path stroke="#3A6CCB" d="M424.4 496.6h0"/>
<path stroke="#CC77FF" d="M138.8 292.7h0M119.6 316.9h0"/>
<path stroke="#FFFAA0" d="M342.0 131.6h0"/>
<path stroke="#CC77FF" d="M172.9 282.8h0"/>
<path stroke="#CC5A35" d="M169.0 128.0h0"/>
<path stroke="#EEB8EA" d="M196.1 87.0h0"/>
<path stroke="#CC77FF" d="M168.0 290.6h0M122.7 308.7h0M93.8 311.4h0"/>
<path stroke="#B0307F" d="M252.1 91.3h0M252.9 80.4h0"/>
<path stroke="#80D8A0" d="M134.3 112.0h0"/>
<path stroke="#EE9099" d="M99.2 136.8h0"/>
<path stroke="#CC77FF" d="M149.2 318.1h0M107.3 312.7h0"/>
<path stroke="#C4E6F4" d="M479.6 480.8h0"/>
<path stroke="#80D8A0" d="M159.8 109.8h0"/>
<path stroke="#CC77FF" d="M136.2 320.0h0"/>
<path stroke="#EE9099" d="M105.8 144.3h0"/>
<path stroke="#FFFAA0" d="M339.8 139.1h0"/>
<path stroke="#CC77FF" d="M177.9 292.6h0M114.5 322.9h0"/>
<path stroke="#33CC66" d="M89.0 120.5h0"/>
<path stroke="#EE9099" d="M44.8 132.1h0M97.1 142.4h0"/>
<path stroke="#FFFAA0" d="M305.4 145.5h0"/>
<path stroke="#B0307F" d="M211.0 102.6h0"/>
<path stroke="#1E44BB" d="M271.3 112.9h0"/>
<path stroke="#80F5F0" d="M258.7 244.4h0"/>
<path stroke="#1E44BB" d="M285.5 101.8h0"/>
<path stroke="#EE9099" d="M44.2 127.2h0"/>
<path stroke="#8844DD" d="M174.5 256.6h0M165.0 284.0h0"/>
<path stroke="#B0307F" d="M258.2 95.3h0"/>
<path stroke="#1E44BB" d="M331.5 107.7h0"/>
<path stroke="#FFFAA0" d="M304.7 140.3h0"/>
<path stroke="#CC77FF" d="M104.8 291.0h0M122.2 318.8h0"/>
<path stroke="#FFFAA0" d="M332.6 137.7h0"/>
<path stroke="#CC5A35" d="M157.9 126.0h0"/>
<path stroke="#CC77FF" d="M137.3 307.4h0"/>
<path stroke="#C4E6F4" d="M464.1 490.5h0"/>
<path stroke="#1E44BB" d="M291.5 93.9h0"/>
<path stroke="#B0307F" d="M291.4 106.0h0"/>
<path stroke="#CC77FF" d="M104.2 291.2h0"/>
<path stroke="#FFFAA0" d="M318.5 139.7h0"/>
<path stroke="#CC77FF" d="M158.7 304.8h0"/>
<path stroke="#80D8A0" d="M165.0 110.6h0"/>
<path stroke="#EEB8EA" d="M189.6 93.7h0"/>
<path stroke="#CC77FF" d="M86.3 296.1h0"/>
<path stroke="#1E44BB" d="M265.2 123.3h0"/>
<path stroke="#B0307F" d="M252.2 107.1h0"/>
<path stroke="#CC77FF" d="M78.2 301.9h0M138.0 315.2h0"/>
<path stroke="#1E44BB" d="M321.5 112.2h0"/>
<path stroke="#B0307F" d="M267.1 97.8h0M272.4 107.1h0M307.0 98.0h0"/>
<path stroke="#1E44BB" d="M245.7 116.0h0M312.3 134.2h0M362.1 117.1h0"/>
<path stroke="#80D8A0" d="M123.3 115.0h0"/>
<path stroke="#EE9099" d="M48.9 132.2h0"/>
<path stroke="#3A6CCB" d="M407.7 511.2h0"/>
<path stroke="#8844DD" d="M145.7 277.9h0"/>
<path stroke="#80F5F0" d="M228.0 249.8h0"/>
<path stroke="#EE9099" d="M73.8 144.6h0"/>
<path stroke="#EEB8EA" d="M207.7 92.6h0"/>
<path stroke="#80D8A0" d="M124.9 112.7h0"/>
<path stroke="#CC77FF" d="M154.5 299.6h0"/>
<path stroke="#EE9099" d="M56.8 141.8h0M43.1 133.0h0"/>
<path stroke="#80F5F0" d="M248.9 239.2h0"/>
<path stroke="#CC77FF" d="M110.3 301.5h0"/>
<path stroke="#EE9099" d="M99.8 133.7h0"/>
<path stroke="#CC77FF" d="M156.3 300.0h0"/>
<path stroke="#EEB8EA" d="M194.2 89.8h0"/>
<path stroke="#3A6CCB" d="M414.0 514.2h0M426.5 498.9h0M428.0 508.1h0"/>
<path stroke="#CC77FF" d="M138.8 289.8h0"/>
<path stroke="#B0307F" d="M285.8 88.8h0M226.6 96.2h0"/>
<path stroke="#CC77FF" d="M163.3 293.7h0M157.0 315.1h0"/>
<path stroke="#B0307F" d="M247.1 109.0h0"/>
<path stroke="#3A6CCB" d="M415.2 505.0h0"/>
<path stroke="#EE9099" d="M62.7 138.3h0"/>
<path stroke="#C4E6F4" d="M491.0 481.6h0"/>
<path stroke="#EEB8EA" d="M194.3 80.0h0"/>
<path stroke="#CC77FF" d="M91.4 302.6h0"/>
<path stroke="#1E44BB" d="M319.5 126.1h0"/>
<path stroke="#EEB8EA" d="M156.5 97.4h0M176.9 99.2h0"/>
<path stroke="#1E44BB" d="M340.1 110.5h0"/>
<path stroke="#CC5A35" d="M117.5 118.8h0"/>
<path stroke="#EE9099" d="M69.0 119.0h0"/>
<path stroke="#CC77FF" d="M132.1 311.4h0"/>
<path stroke="#EE9099" d="M85.0 121.4h0"/>
<path stroke="#CC77FF" d="M74.7 303.3h0M153.0 309.7h0"/>
<path stroke="#3A6CCB" d="M402.0 510.2h0"/>
<path stroke="#1E44BB" d="M322.3 126.2h0"/>
<path stroke="#CC77FF" d="M144.7 298.5h0"/>
<path stroke="#80F5F0" d="M233.7 255.3h0"/>
<path stroke="#CC77FF" d="M157.1 289.0h0"/>
<path stroke="#3A6CCB" d="M415.7 503.7h0"/>
<path stroke="#C4E6F4" d="M465.2 484.2h0"/>
<path stroke="#CC77FF" d="M148.5 290.1h0"/>
<path stroke="#8844DD" d="M159.1 273.9h0"/>
<path stroke="#CC5A35" d="M156.0 130.3h0"/>
<path stroke="#CC77FF" d="M146.2 293.6h0"/>
<path stroke="#FFFAA0" d="M311.6 136.3h0"/>
<path stroke="#8844DD" d="M169.2 266.5h0"/>
<path stroke="#CC77FF" d="M122.4 316.0h0"/>
<path stroke="#EE9099" d="M42.6 131.7h0"/>
<path stroke="#CC5A35" d="M188.8 126.5h0"/>
<path stroke="#1E44BB" d="M291.1 96.1h0"/>
<path stroke="#B0307F" d="M218.5 105.3h0"/>
<path stroke="#CC5A35" d="M162.9 131.0h0"/>
<path stroke="#EEB8EA" d="M208.6 88.4h0"/>
<path stroke="#CC77FF" d="M98.4 315.4h0"/>
<path stroke="#8844DD" d="M156.4 273.4h0"/>
<path stroke="#FFFAA0" d="M219.0 118.0h0"/>
<path stroke="#EE9099" d="M62.7 146.0h0"/>
<path stroke="#CC77FF" d="M164.6 289.6h0M116.7 321.1h0"/>
<path stroke="#FFFAA0" d="M258.3 118.1h0"/>
<path stroke="#1E44BB" d="M310.3 127.8h0"/>
<path stroke="#B0307F" d="M284.9 101.3h0"/>
<path stroke="#3A6CCB" d="M412.7 496.3h0"/>
<path stroke="#8844DD" d="M166.8 274.6h0"/>
<path stroke="#CC77FF" d="M127.9 284.1h0"/>
<path stroke="#80F5F0" d="M224.6 244.4h0"/>
<path stroke="#CC77FF" d="M180.3 304.6h0M89.0 310.5h0"/>
<path stroke="#B0307F" d="M294.4 109.3h0"/>
<path stroke="#CC77FF" d="M118.9 321.4h0"/>
<path stroke="#B0307F" d="M218.6 100.9h0"/>
<path stroke="#CC77FF" d="M98.2 298.3h0"/>
<path stroke="#80F5F0" d="M222.2 244.7h0"/>
<path stroke="#1E44BB" d="M326.9 124.9h0"/>
<path stroke="#EE9099" d="M48.9 133.2h0"/>
<path stroke="#CC5A35" d="M173.8 119.0h0"/>
<path stroke="#CC77FF" d="M132.8 303.1h0"/>
<path stroke="#FFFAA0" d="M327.0 140.0h0"/>
<path stroke="#EEB8EA" d="M192.7 83.2h0"/>
<path stroke="#1E44BB" d="M312.9 120.6h0"/>
<path stroke="#EEB8EA" d="M163.0 98.8h0"/>
<path stroke="#CC77FF" d="M102.5 322.6h0"/>
<path stroke="#EE9099" d="M85.6 146.6h0"/>
<path stroke="#80D8A0" d="M164.7 112.9h0"/>
<path stroke="#1E44BB" d="M305.7 119.4h0"/>
<path stroke="#EE9099" d="M93.7 123.7h0"/>
<path stroke="#8844DD" d="M172.6 266.4h0"/>
<path stroke="#80F5F0" d="M240.4 242.8h0"/>
<path stroke="#80D8A0" d="M130.3 118.2h0"/>
<path stroke="#3A6CCB" d="M426.6 497.9h0"/>
<path stroke="#80F5F0" d="M234.3 249.0h0"/>
<path stroke="#EEB8EA" d="M173.1 90.3h0M204.4 78.4h0"/>
<path stroke="#C4E6F4" d="M447.8 489.7h0"/>
<path stroke="#1E44BB" d="M282.1 131.9h0"/>
<path stroke="#EE9099" d="M69.7 144.5h0"/>
<path stroke="#8844DD" d="M193.8 269.6h0"/>
<path stroke="#1E44BB" d="M354.5 124.9h0"/>
<path stroke="#CC77FF" d="M134.9 300.2h0"/>
<path stroke="#FFFAA0" d="M325.5 132.2h0"/>
<path stroke="#CC77FF" d="M172.0 300.6h0M77.4 300.5h0"/>
<path stroke="#B0307F" d="M262.7 107.4h0"/>
<path stroke="#CC77FF" d="M183.3 308.1h0"/>
<path stroke="#EE9099" d="M93.9 133.2h0M67.8 128.2h0M72.9 112.0h0"/>
<path stroke="#33CC66" d="M85.8 142.7h0"/>
<path stroke="#B0307F" d="M265.7 94.3h0"/>
<path stroke="#80D8A0" d="M144.9 118.0h0"/>
<path stroke="#C4E6F4" d="M465.2 497.4h0"/>
<path stroke="#CC77FF" d="M94.3 313.7h0M192.5 304.7h0"/>
<path stroke="#80F5F0" d="M229.8 264.9h0"/>
<path stroke="#B0307F" d="M271.3 89.6h0"/>
<path stroke="#CC77FF" d="M106.5 316.5h0M105.4 316.3h0"/>
<path stroke="#CC5A35" d="M135.2 122.7h0"/>
<path stroke="#CC77FF" d="M124.4 302.4h0"/>
<path stroke="#CC5A35" d="M156.6 129.4h0"/>
<path stroke="#CC77FF" d="M88.8 307.6h0"/>
<path stroke="#FFFAA0" d="M285.0 128.1h0"/>
<path stroke="#8844DD" d="M195.1 276.4h0"/>
<path stroke="#1E44BB" d="M237.3 114.4h0"/>
<path stroke="#8844DD" d="M187.8 268.3h0M175.0 258.1h0"/>
<path stroke="#80D8A0" d="M131.3 113.8h0"/>
<path stroke="#3A6CCB" d="M394.3 504.7h0"/>
<path stroke="#CC77FF" d="M102.8 301.7h0"/>
<path stroke="#FFFAA0" d="M292.3 139.7h0"/>
<path stroke="#80D8A0" d="M120.0 117.7h0"/>
<path stroke="#1E44BB" d="M316.1 113.7h0"/>
<path stroke="#3A6CCB" d="M401.8 496.3h0"/>
<path stroke="#B0307F" d="M243.0 83.5h0"/>
<path stroke="#C4E6F4" d="M472.6 489.5h0"/>
<path stroke="#B0307F" d="M285.9 99.4h0"/>
<path stroke="#1E44BB" d="M351.4 109.2h0"/>
<path stroke="#CC5A35" d="M150.8 122.7h0"/>
<path stroke="#CC77FF" d="M87.0 292.0h0"/>
<path stroke="#3A6CCB" d="M422.8 508.7h0"/>
<path stroke="#EE9099" d="M67.8 142.9h0"/>
<path stroke="#CC5A35" d="M155.2 115.0h0"/>
<path stroke="#1E44BB" d="M349.7 119.8h0"/>
<path stroke="#B0307F" d="M234.6 108.2h0M221.9 108.4h0"/>
<path stroke="#CC5A35" d="M176.8 127.9h0"/>
<path stroke="#B0307F" d="M258.5 97.6h0"/>
<path stroke="#CC77FF" d="M175.6 300.8h0"/>
<path stroke="#1E44BB" d="M322.2 128.4h0"/>
<path stroke="#B0307F" d="M219.0 106.4h0"/>
<path stroke="#CC77FF" d="M128.8 295.1h0"/>
<path stroke="#B0307F" d="M286.7 98.9h0"/>
<path stroke="#8844DD" d="M122.0 295.4h0"/>
<path stroke="#EE9099" d="M62.2 132.5h0"/>
<path stroke="#8844DD" d="M176.6 258.1h0"/>
<path stroke="#EE9099" d="M38.8 118.3h0"/>
<path stroke="#1E44BB" d="M294.4 96.1h0"/>
<path stroke="#80F5F0" d="M258.5 248.9h0"/>
<path stroke="#3A6CCB" d="M389.9 503.0h0M427.4 500.7h0"/>
<path stroke="#80F5F0" d="M238.6 243.8h0"/>
<path stroke="#EE9099" d="M61.0 147.6h0M92.8 119.8h0"/>
<path stroke="#CC77FF" d="M193.2 294.1h0"/>
<path stroke="#80D8A0" d="M126.6 109.5h0"/>
<path stroke="#FFFAA0" d="M300.3 128.8h0"/>
<path stroke="#B0307F" d="M228.6 102.6h0M281.5 89.7h0"/>
<path stroke="#C4E6F4" d="M485.8 479.0h0"/>
<path stroke="#CC77FF" d="M115.3 324.7h0"/>
<path stroke="#EE9099" d="M72.6 111.3h0"/>
<path stroke="#CC5A35" d="M174.5 115.4h0"/>
<path stroke="#CC77FF" d="M116.6 302.4h0"/>
<path stroke="#EE9099" d="M89.1 117.0h0"/>
<path stroke="#1E44BB" d="M360.3 119.1h0"/>
<path stroke="#80F5F0" d="M268.9 251.7h0"/>
<path stroke="#80D8A0" d="M138.4 121.0h0"/>
<path stroke="#1E44BB" d="M343.6 123.2h0"/>
<path stroke="#CC77FF" d="M138.9 289.4h0"/>
<path stroke="#1E44BB" d="M315.3 115.4h0"/>
<path stroke="#B0307F" d="M213.7 92.4h0"/>
<path stroke="#CC5A35" d="M131.6 117.9h0"/>
<path stroke="#1E44BB" d="M294.8 110.1h0"/>
<path stroke="#33CC66" d="M82.0 119.4h0"/>
<path stroke="#1E44BB" d="M298.3 126.7h0M340.2 107.0h0"/>
<path stroke="#B0307F" d="M261.8 104.6h0"/>
<path stroke="#3A6CCB" d="M405.3 508.7h0"/>
<path stroke="#80F5F0" d="M245.1 260.3h0"/>
<path stroke="#CC5A35" d="M138.0 122.4h0"/>
<path stroke="#8844DD" d="M162.1 258.5h0"/>
<path stroke="#B0307F" d="M233.8 104.0h0"/>
<path stroke="#CC77FF" d="M103.3 285.6h0M125.0 307.1h0"/>
<path stroke="#CC5A35" d="M186.4 114.3h0"/>
<path stroke="#CC77FF" d="M113.9 288.5h0M162.0 289.6h0"/>
<path stroke="#8844DD" d="M182.3 277.1h0"/>
<path stroke="#EE9099" d="M79.7 148.8h0"/>
<path stroke="#CC77FF" d="M155.0 292.2h0"/>
<path stroke="#EE9099" d="M55.1 118.8h0M67.1 113.2h0"/>
<path stroke="#CC77FF" d="M101.9 301.5h0"/>
<path stroke="#1E44BB" d="M343.8 107.1h0"/>
<path stroke="#CC5A35" d="M176.0 118.6h0"/>
<path stroke="#CC77FF" d="M112.7 310.7h0"/>
<path stroke="#1E44BB" d="M342.7 115.6h0"/>
<path stroke="#C4E6F4" d="M490.3 480.9h0"/>
<path stroke="#B0307F" d="M271.8 86.9h0"/>
<path stroke="#EE9099" d="M72.2 134.2h0"/>
<path stroke="#8844DD" d="M170.0 283.0h0"/>
<path stroke="#B0307F" d="M242.6 100.6h0"/>
<path stroke="#EE9099" d="M56.8 140.6h0"/>
<path stroke="#3A6CCB" d="M410.9 498.1h0"/>
<path stroke="#8844DD" d="M159.6 262.8h0"/>
<path stroke="#3A6CCB" d="M444.4 502.6h0"/>
<path stroke="#80F5F0" d="M233.2 249.9h0"/>
<path stroke="#1E44BB" d="M318.4 99.6h0"/>
<path stroke="#CC77FF" d="M136.8 316.5h0"/>
<path stroke="#3A6CCB" d="M407.0 510.2h0"/>
<path stroke="#CC77FF" d="M143.1 306.4h0"/>
<path stroke="#FFFAA0" d="M307.4 139.6h0"/>
<path stroke="#CC77FF" d="M125.8 285.7h0"/>
<path stroke="#B0307F" d="M245.3 88.3h0"/>
<path stroke="#CC5A35" d="M179.0 125.9h0"/>
<path stroke="#1E44BB" d="M281.4 112.7h0"/>
<path stroke="#80F5F0" d="M259.0 243.5h0"/>
<path stroke="#B0307F" d="M231.0 105.4h0"/>
<path stroke="#CC5A35" d="M144.9 126.4h0"/>
<path stroke="#EE9099" d="M73.1 144.8h0"/>
<path stroke="#1E44BB" d="M333.3 111.5h0"/>
<path stroke="#CC77FF" d="M76.7 296.2h0"/>
<path stroke="#CC5A35" d="M173.7 122.1h0"/>
<path stroke="#EEB8EA" d="M162.8 104.8h0"/>
<path stroke="#CC77FF" d="M140.3 317.4h0"/>
<path stroke="#EE9099" d="M57.5 142.6h0"/>
<path stroke="#B0307F" d="M241.0 87.5h0"/>
<path stroke="#EE9099" d="M43.6 129.0h0"/>
<path stroke="#CC77FF" d="M131.1 290.3h0"/>
<path stroke="#B0307F" d="M256.7 103.1h0"/>
<path stroke="#EEB8EA" d="M179.3 108.5h0"/>
<path stroke="#B0307F" d="M234.3 93.7h0"/>
<path stroke="#EE9099" d="M44.9 110.8h0M67.8 112.5h0"/>
<path stroke="#8844DD" d="M197.9 285.5h0"/>
<path stroke="#B0307F" d="M224.7 103.5h0M289.4 99.7h0M231.2 115.9h0"/>
<path stroke="#CC77FF" d="M185.7 293.3h0"/>
<path stroke="#80F5F0" d="M243.3 249.2h0"/>
<path stroke="#CC77FF" d="M172.7 287.3h0"/>
<path stroke="#1E44BB" d="M324.0 122.2h0"/>
<path stroke="#EE9099" d="M82.1 132.5h0"/>
<path stroke="#EEB8EA" d="M179.9 96.9h0"/>
<path stroke="#1E44BB" d="M240.0 122.5h0"/>
<path stroke="#EE9099" d="M41.0 119.7h0"/>
<path stroke="#3A6CCB" d="M439.3 496.0h0"/>
<path stroke="#33CC66" d="M62.5 115.0h0"/>
<path stroke="#CC5A35" d="M164.9 129.8h0"/>
<path stroke="#B0307F" d="M224.2 89.9h0M256.7 92.1h0"/>
<path stroke="#1E44BB" d="M309.0 129.2h0"/>
<path stroke="#80F5F0" d="M258.9 246.8h0"/>
<path stroke="#8844DD" d="M134.3 295.6h0"/>
<path stroke="#C4E6F4" d="M467.2 487.0h0"/>
<path stroke="#8844DD" d="M167.7 263.9h0"/>
<path stroke="#1E44BB" d="M310.3 125.4h0"/>
<path stroke="#CC77FF" d="M105.3 303.5h0"/>
<path stroke="#8844DD" d="M158.4 287.0h0"/>
<path stroke="#CC5A35" d="M142.9 123.7h0"/>
<path stroke="#1E44BB" d="M311.8 140.2h0"/>
<path stroke="#CC77FF" d="M112.0 306.4h0"/>
<path stroke="#FFFAA0" d="M292.9 123.3h0"/>
<path stroke="#CC77FF" d="M100.6 319.4h0"/>
<path stroke="#1E44BB" d="M348.0 124.5h0"/>
<path stroke="#EE9099" d="M49.6 138.8h0"/>
<path stroke="#8844DD" d="M179.7 264.3h0"/>
<path stroke="#EE9099" d="M96.8 129.8h0"/>
<path stroke="#80F5F0" d="M253.5 243.1h0"/>
<path stroke="#CC77FF" d="M175.2 300.5h0"/>
<path stroke="#FFFAA0" d="M270.9 124.4h0"/>
<path stroke="#EEB8EA" d="M179.4 84.2h0"/>
<path stroke="#CC77FF" d="M145.6 294.6h0"/>
<path stroke="#3A6CCB" d="M419.0 513.3h0"/>
<path stroke="#1E44BB" d="M332.9 117.9h0"/>
<path stroke="#3A6CCB" d="M423.6 511.9h0"/>
<path stroke="#FFFAA0" d="M309.1 144.6h0"/>
<path stroke="#CC5A35" d="M151.4 119.1h0"/>
<path stroke="#EE9099" d="M94.2 131.2h0M68.2 117.8h0"/>
<path stroke="#3A6CCB" d="M399.6 513.3h0"/>
<path stroke="#FFFAA0" d="M298.5 128.1h0"/>
<path stroke="#CC77FF" d="M81.6 298.6h0M180.9 287.1h0"/>
<path stroke="#1E44BB" d="M299.8 98.3h0"/>
<path stroke="#CC5A35" d="M147.2 124.2h0"/>
<path stroke="#EEB8EA" d="M162.2 95.7h0"/>
<path stroke="#B0307F" d="M255.8 107.8h0"/>
<path stroke="#1E44BB" d="M311.9 105.1h0"/>
<path stroke="#CC77FF" d="M145.9 287.5h0"/>
<path stroke="#FFFAA0" d="M297.5 143.0h0"/>
<path stroke="#C4E6F4" d="M484.6 478.8h0"/>
<path stroke="#80D8A0" d="M122.8 111.6h0"/>
<path stroke="#EEB8EA" d="M174.5 82.5h0"/>
<path stroke="#CC77FF" d="M153.8 300.7h0"/>
<path stroke="#8844DD" d="M175.3 271.2h0M181.5 264.4h0M173.1 275.4h0"/>
<path stroke="#33CC66" d="M77.1 127.0h0"/>
<path stroke="#FF99E6" d="M209.0 123.0h0"/>
<path stroke="#8844DD" d="M176.2 253.7h0"/>
<path stroke="#FF3311" d="M256.0 78.5h0"/>
<path stroke="#FF3370" d="M473.8 499.6h0"/>
<path stroke="#8844DD" d="M189.1 275.0h0"/>
<path stroke="#128A36" d="M443.0 484.0h0"/>
<path stroke="#8844DD" d="M179.4 265.4h0"/>
<path stroke="#FFEB1A" d="M406.3 508.4h0"/>
<path stroke="#8844DD" d="M176.2 273.0h0"/>
<path stroke="#FF3311" d="M240.1 78.3h0"/>
<path stroke="#8844DD" d="M167.3 279.6h0M159.7 273.0h0"/>
<path stroke="#FF99E6" d="M207.0 121.0h0"/>
<path stroke="#8844DD" d="M182.0 256.6h0M182.8 266.1h0M178.6 268.1h0M167.2 265.6h0M172.4 275.6h0M188.5 270.1h0"/>
<path stroke="#FF3311" d="M263.0 85.0h0"/>
<path stroke="#FF99E6" d="M195.0 116.0h0"/>
<path stroke="#FFEB1A" d="M415.1 494.5h0"/>
<path stroke="#8844DD" d="M183.3 273.7h0M225.3 260.2h0M222.6 256.6h0"/>
<path stroke="#FF3311" d="M255.9 79.4h0"/>
<path stroke="#8844DD" d="M184.5 264.6h0M150.2 292.7h0"/>
<path stroke="#FF3370" d="M474.7 499.5h0"/>
<path stroke="#8844DD" d="M218.2 264.5h0M208.0 253.0h0"/>
<path stroke="#33CC66" d="M90.7 132.9h0"/>
<path stroke="#FF3370" d="M476.2 495.8h0"/>
<path stroke="#8844DD" d="M169.0 258.9h0M158.7 275.8h0M182.4 269.6h0M151.5 276.1h0"/>
<path stroke="#33CC66" d="M74.4 149.2h0"/>
<path stroke="#FF3370" d="M472.7 495.7h0"/>
<path stroke="#8844DD" d="M169.2 268.5h0M145.9 299.9h0"/>
<path stroke="#FF3311" d="M209.6 79.8h0M247.6 75.2h0"/>
<path stroke="#8844DD" d="M219.9 242.6h0M181.1 273.4h0"/>
<path stroke="#FF3311" d="M240.5 72.9h0M258.7 86.4h0"/>
<path stroke="#8844DD" d="M146.0 290.3h0M208.8 255.1h0"/>
<path stroke="#FF3311" d="M244.5 75.6h0"/>
<path stroke="#8844DD" d="M166.1 264.3h0"/>
<path stroke="#FFD166" d="M253.0 131.0h0"/>
<path stroke="#8844DD" d="M163.0 278.3h0M170.5 257.7h0M169.6 279.1h0M172.5 272.5h0M172.1 274.6h0M181.5 261.7h0"/>
<path stroke="#FFEB1A" d="M418.0 510.2h0"/>
<path stroke="#FF3370" d="M465.1 492.0h0"/>
<path stroke="#FF3311" d="M227.5 76.1h0"/>
<path stroke="#8844DD" d="M147.2 304.2h0"/>
<path stroke="#FFD166" d="M255.5 131.3h0"/>
<path stroke="#8844DD" d="M188.0 276.7h0"/>
<path stroke="#FF3311" d="M247.0 74.9h0"/>
<path stroke="#8844DD" d="M183.7 271.7h0M168.3 277.2h0"/>
<path stroke="#FF99E6" d="M225.4 108.2h0"/>
<path stroke="#33CC66" d="M99.3 130.8h0"/>
<path stroke="#8844DD" d="M165.6 258.9h0"/>
<path stroke="#FF3370" d="M478.4 497.2h0"/>
<path stroke="#8844DD" d="M174.6 263.9h0M169.6 254.9h0"/>
<path stroke="#FF3311" d="M264.0 83.9h0"/>
<path stroke="#8844DD" d="M228.9 262.0h0M170.7 255.4h0M161.1 276.4h0M169.2 272.0h0"/>
<path stroke="#FF3311" d="M241.7 76.6h0"/>
<path stroke="#128A36" d="M440.0 483.5h0"/>
<path stroke="#33CC66" d="M101.0 126.4h0"/>
<path stroke="#8844DD" d="M229.8 264.7h0M213.8 248.6h0M193.6 273.0h0"/>
<path stroke="#FF99E6" d="M168.9 128.2h0"/>
<path stroke="#8844DD" d="M157.3 279.5h0M188.7 272.0h0"/>
<path stroke="#FF8A2A" d="M211.9 108.5h0"/>
<path stroke="#8844DD" d="M187.8 288.4h0M193.5 271.0h0M190.2 276.2h0M176.5 275.0h0M159.4 268.0h0"/>
<path stroke="#FFEB1A" d="M432.3 490.5h0"/>
<path stroke="#8844DD" d="M175.0 269.3h0M186.4 255.1h0M165.4 279.0h0"/>
<path stroke="#FF3370" d="M458.5 494.5h0"/>
<path stroke="#8844DD" d="M170.8 272.6h0M156.0 279.0h0"/>
<path stroke="#55B8F0" d="M152.5 124.4h0"/>
<path stroke="#FF99E6" d="M182.2 114.9h0"/>
<path stroke="#8844DD" d="M193.6 255.1h0"/>
<path stroke="#FF3311" d="M243.0 87.5h0"/>
<path stroke="#8844DD" d="M161.1 262.7h0M159.5 265.7h0M192.6 276.4h0"/>
<path stroke="#FFD166" d="M203.0 123.1h0"/>
<path stroke="#8844DD" d="M193.6 281.1h0M169.5 253.6h0M210.9 265.2h0"/>
<path stroke="#FF99E6" d="M234.9 120.2h0M187.9 108.6h0"/>
<path stroke="#8844DD" d="M195.0 282.6h0M184.9 275.0h0"/>
<path stroke="#55B8F0" d="M200.8 119.1h0"/>
<path stroke="#FFEB1A" d="M437.8 508.4h0"/>
<path stroke="#8844DD" d="M170.1 278.6h0"/>
<path stroke="#FF3370" d="M473.9 494.9h0"/>
<path stroke="#8844DD" d="M147.3 279.7h0M165.2 266.1h0"/>
<path stroke="#FFD166" d="M254.0 129.5h0"/>
<path stroke="#FF3311" d="M245.0 74.0h0"/>
<path stroke="#8844DD" d="M158.7 278.0h0"/>
<path stroke="#55B8F0" d="M208.9 116.6h0"/>
<path stroke="#8844DD" d="M218.5 244.9h0"/>
<path stroke="#FF3311" d="M263.9 83.1h0"/>
<path stroke="#8844DD" d="M233.0 261.1h0"/>
<path stroke="#FF3311" d="M241.1 73.8h0"/>
<path stroke="#FF8A2A" d="M201.5 111.0h0"/>
<path stroke="#FF3311" d="M240.7 78.6h0M243.7 76.7h0M232.4 76.9h0M242.3 74.8h0M242.9 73.6h0"/>
<path stroke="#FF99E6" d="M187.0 114.4h0"/>
<path stroke="#FF3311" d="M245.4 77.6h0M238.7 74.5h0"/>
<path stroke="#FFD166" d="M256.5 129.0h0"/>
<path stroke="#FF3311" d="M259.8 86.4h0"/>
<path stroke="#128A36" d="M443.5 482.3h0"/>
<path stroke="#55B8F0" d="M208.2 120.2h0"/>
<path stroke="#128A36" d="M435.9 485.7h0"/>
<path stroke="#FF99E6" d="M210.0 105.0h0"/>
<path stroke="#55B8F0" d="M195.4 120.6h0"/>
<path stroke="#FF99E6" d="M205.0 117.0h0M213.0 117.0h0"/>
<path stroke="#FF3311" d="M263.5 82.6h0"/>
<path stroke="#FF99E6" d="M198.6 118.0h0"/>
<path stroke="#FFD166" d="M251.5 129.0h0"/>
<path stroke="#FF99E6" d="M174.6 111.7h0"/>
<path stroke="#FF3311" d="M257.5 85.0h0M266.8 85.1h0"/>
<path stroke="#FF8A2A" d="M212.7 104.3h0"/>
<path stroke="#FF3311" d="M263.9 84.7h0"/>
<path stroke="#FF99E6" d="M188.0 109.0h0"/>
<path stroke="#FF3311" d="M246.5 76.7h0"/>
<path stroke="#128A36" d="M441.5 482.5h0"/>
<path stroke="#FF99E6" d="M178.4 113.6h0M196.0 121.5h0"/>
<path stroke="#FF3311" d="M261.5 85.0h0"/>
<path stroke="#FF99E6" d="M243.0 104.5h0"/>
<path stroke="#55B8F0" d="M195.7 120.2h0"/>
<path stroke="#FF3311" d="M258.2 83.7h0"/>
<path stroke="#128A36" d="M446.5 483.2h0"/>
<path stroke="#FF3311" d="M234.0 80.6h0"/>
<path stroke="#FF99E6" d="M151.2 128.2h0M187.2 114.2h0M219.0 113.0h0"/>
<path stroke="#FF3311" d="M253.5 87.5h0M260.0 85.9h0M243.0 77.1h0"/>
<path stroke="#128A36" d="M445.5 482.6h0"/>
<path stroke="#FF3311" d="M241.2 76.9h0"/>
<path stroke="#FF8A2A" d="M196.9 110.1h0M206.0 111.0h0"/>
<path stroke="#FF99E6" d="M228.3 115.5h0"/>
<path stroke="#FF3311" d="M251.0 76.9h0"/>
<path stroke="#FF99E6" d="M230.0 111.0h0"/>
<path stroke="#FF3311" d="M241.5 74.3h0"/>
<path stroke="#FF99E6" d="M198.0 118.5h0M201.0 114.0h0"/>
<path stroke="#FF3311" d="M260.5 86.7h0"/>
<path stroke="#660099" d="M164.5 232.2h0M161.2 246.0h0M160.0 241.0h0M163.8 233.8h0M167.5 253.0h0M162.0 237.5h0M168.5 254.5h0M164.0 250.0h0M159.5 232.2h0M163.0 247.5h0M160.5 233.8h0M165.5 252.5h0M164.5 248.0h0M166.5 255.5h0M161.5 235.0h0M159.8 244.5h0M160.8 239.0h0M162.5 245.0h0M166.0 250.5h0"/>
<path stroke="#FF8A2A" d="M441.3 482.4h0"/>
<path stroke="#660099" d="M158.8 233.5h0"/>
<path stroke="#8844DD" d="M162.3 232.4h0"/>
<path stroke="#660099" d="M164.5 254.5h0M165.5 233.3h0M161.5 243.5h0M163.2 235.5h0"/>
<path stroke="#FFD166" d="M122.0 299.2h0"/>
<path stroke="#FF8A2A" d="M160.4 242.4h0"/>
</g>
<g class="lg">
<circle cx="536.6" cy="147.7" r="7.6" fill="#FFD166"/>
<text transform="translate(547.3 152.65) scale(1 1.1)">ASDC</text>
<circle cx="536.6" cy="174.6" r="7.6" fill="#FF99E6"/>
<text transform="translate(547.3 179.46) scale(1 1.1)">CD8aa</text>
<circle cx="536.6" cy="201.5" r="7.6" fill="#CC77FF"/>
<text transform="translate(547.3 206.27) scale(1 1.1)">CD14 monocyte</text>
<circle cx="536.6" cy="228.4" r="7.6" fill="#80F5F0"/>
<text transform="translate(547.3 233.08) scale(1 1.1)">CD16 monocyte</text>
<circle cx="536.6" cy="255.3" r="7.6" fill="#33CC66"/>
<text transform="translate(547.3 259.89) scale(1 1.1)">CD56bright NK cell</text>
<circle cx="536.6" cy="282.2" r="7.6" fill="#EE9099"/>
<text transform="translate(547.3 286.70) scale(1 1.1)">CD56dim NK cell</text>
<circle cx="536.6" cy="309.1" r="7.6" fill="#FFE0C8"/>
<text transform="translate(547.3 313.51) scale(1 1.1)">DN T cell</text>
<circle cx="536.6" cy="336.0" r="7.6" fill="#FF3370"/>
<text transform="translate(547.3 340.32) scale(1 1.1)">Effector B cell</text>
<circle cx="536.6" cy="362.9" r="7.6" fill="#55B8F0"/>
<text transform="translate(547.3 367.13) scale(1 1.1)">Erythrocyte</text>
<circle cx="536.6" cy="389.8" r="7.6" fill="#8844DD"/>
<text transform="translate(547.3 393.94) scale(1 1.1)">Intermediate monocyte</text>
<circle cx="536.6" cy="416.7" r="7.6" fill="#EEB8EA"/>
<text transform="translate(547.3 420.75) scale(1 1.1)">MAIT</text>
<circle cx="536.6" cy="443.6" r="7.6" fill="#C4E6F4"/>
<text transform="translate(547.3 447.56) scale(1 1.1)">Memory B cell</text>
<circle cx="767.3" cy="147.7" r="7.6" fill="#B0307F"/>
<text transform="translate(778.6 152.65) scale(1 1.1)">Memory CD4 T cell</text>
<circle cx="767.3" cy="174.6" r="7.6" fill="#CC5A35"/>
<text transform="translate(778.6 179.46) scale(1 1.1)">Memory CD8 T cell</text>
<circle cx="767.3" cy="201.5" r="7.6" fill="#3A6CCB"/>
<text transform="translate(778.6 206.27) scale(1 1.1)">Naive B cell</text>
<circle cx="767.3" cy="228.4" r="7.6" fill="#1E44BB"/>
<text transform="translate(778.6 233.08) scale(1 1.1)">Naive CD4 T cell</text>
<circle cx="767.3" cy="255.3" r="7.6" fill="#FFFAA0"/>
<text transform="translate(778.6 259.89) scale(1 1.1)">Naive CD8 T cell</text>
<circle cx="767.3" cy="282.2" r="7.6" fill="#128A36"/>
<text transform="translate(778.6 286.70) scale(1 1.1)">Plasma cell</text>
<circle cx="767.3" cy="309.1" r="7.6" fill="#FF8A2A"/>
<text transform="translate(778.6 313.51) scale(1 1.1)">Proliferating NK cell</text>
<circle cx="767.3" cy="336.0" r="7.6" fill="#FFEB1A"/>
<text transform="translate(778.6 340.32) scale(1 1.1)">Transitional B cell</text>
<circle cx="767.3" cy="362.9" r="7.6" fill="#FF3311"/>
<text transform="translate(778.6 367.13) scale(1 1.1)">Treg</text>
<circle cx="767.3" cy="389.8" r="7.6" fill="#FF69B4"/>
<text transform="translate(778.6 393.94) scale(1 1.1)">cDC1</text>
<circle cx="767.3" cy="416.7" r="7.6" fill="#660099"/>
<text transform="translate(778.6 420.75) scale(1 1.1)">cDC2</text>
<circle cx="767.3" cy="443.6" r="7.6" fill="#80D8A0"/>
<text transform="translate(778.6 447.56) scale(1 1.1)">gdT</text>
</g>
</svg>
</body></html>
